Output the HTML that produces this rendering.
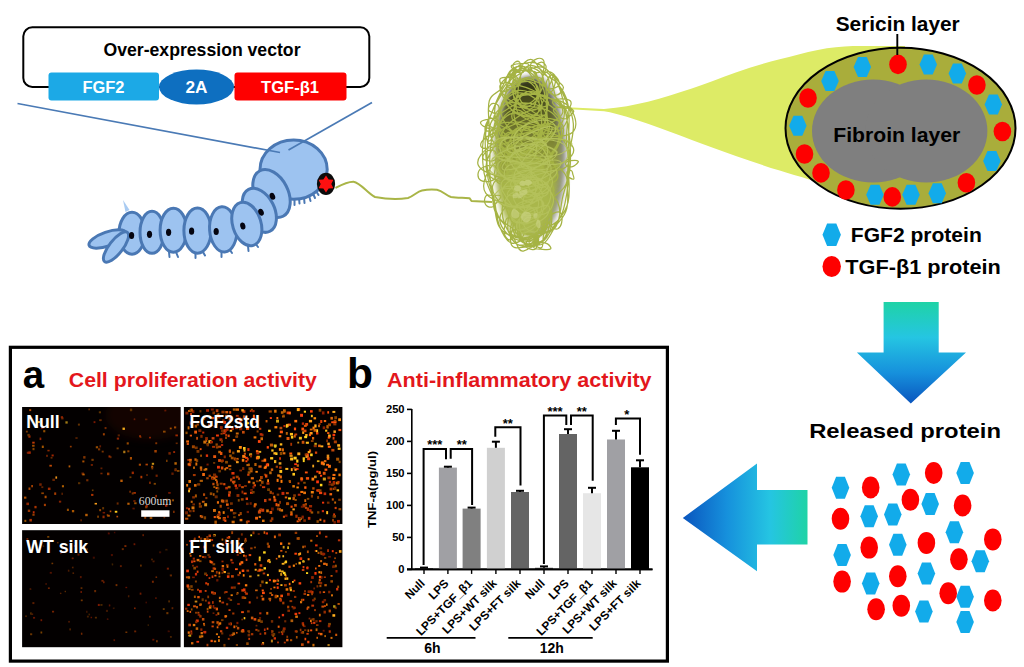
<!DOCTYPE html><html><head><meta charset="utf-8"><title>fig</title><style>html,body{margin:0;padding:0;background:#fff;}svg{display:block;font-family:"Liberation Sans",sans-serif;}</style></head><body><svg width="1024" height="667" viewBox="0 0 1024 667"><rect width="1024" height="667" fill="#fff"/><defs>
<linearGradient id="gdown" x1="0" y1="0" x2="0" y2="1">
<stop offset="0" stop-color="#1FD3A6"/><stop offset="0.35" stop-color="#25C5E2"/><stop offset="0.7" stop-color="#1690DC"/><stop offset="1" stop-color="#0A55BE"/>
</linearGradient>
<linearGradient id="gleft" x1="1" y1="0" x2="0" y2="0">
<stop offset="0" stop-color="#1FD3A6"/><stop offset="0.3" stop-color="#25C5E2"/><stop offset="0.65" stop-color="#1690DC"/><stop offset="1" stop-color="#0A55BE"/>
</linearGradient>
<linearGradient id="gcore" x1="0" y1="0" x2="0" y2="1">
<stop offset="0" stop-color="#2b2d12"/><stop offset="0.3" stop-color="#6a6f2c"/><stop offset="0.55" stop-color="#98a23e"/><stop offset="1" stop-color="#b4bf5c"/>
</linearGradient>
<filter id="blur4" x="-30%" y="-30%" width="160%" height="160%"><feGaussianBlur stdDeviation="4"/></filter>
<filter id="blur3" x="-30%" y="-30%" width="160%" height="160%"><feGaussianBlur stdDeviation="3"/></filter>
<filter id="blur1" x="-10%" y="-10%" width="120%" height="120%"><feGaussianBlur stdDeviation="0.5"/></filter>
<filter id="blurd" x="-5%" y="-5%" width="110%" height="110%"><feGaussianBlur stdDeviation="0.6"/></filter>
<clipPath id="c1"><rect x="22.1" y="407" width="158.5" height="117"/></clipPath>
<clipPath id="cs"><ellipse cx="326" cy="183.9" rx="8" ry="10"/></clipPath>
</defs>
<rect x="23.3" y="27.3" width="346" height="59.6" rx="9" ry="9" fill="none" stroke="#000" stroke-width="2"/>
<rect x="48.5" y="72.5" width="110.5" height="28" rx="3" fill="#1CA9E6"/>
<rect x="234.5" y="72.5" width="112" height="28" rx="3" fill="#FE0000"/>
<ellipse cx="196.5" cy="87" rx="37.5" ry="17.5" fill="#0E6FC0"/>
<text x="202" y="56" font-size="18.5" font-weight="bold" fill="#000" text-anchor="middle" textLength="197" lengthAdjust="spacingAndGlyphs" >Over-expression vector</text>
<text x="103.5" y="93" font-size="16" font-weight="bold" fill="#fff" text-anchor="middle" textLength="42" lengthAdjust="spacingAndGlyphs" >FGF2</text>
<text x="196.5" y="93" font-size="16" font-weight="bold" fill="#fff" text-anchor="middle" textLength="22" lengthAdjust="spacingAndGlyphs" >2A</text>
<text x="290" y="93" font-size="16" font-weight="bold" fill="#fff" text-anchor="middle" textLength="58" lengthAdjust="spacingAndGlyphs" >TGF-β1</text>
<path d="M335.5,188 C341,185 347,181.6 353.5,181.7 C361,183 367,193 375,197 C386,199 398,199.5 408,198 C414,196 417,191.5 422,190.5 C427,189.5 432,189.3 437,189.8 C443,191 446,195.5 451,197 C457,198.3 464,197.5 469.5,198.2 L471.5,201 C478,201.5 484,201.8 492,202" fill="none" stroke="#A9B547" stroke-width="2" stroke-linejoin="round"/>
<line x1="169" y1="252" x2="169.5" y2="257" stroke="#4A78B4" stroke-width="2" stroke-linecap="round"/>
<line x1="176" y1="252" x2="178" y2="257" stroke="#4A78B4" stroke-width="2" stroke-linecap="round"/>
<line x1="195.5" y1="253" x2="195.5" y2="258" stroke="#4A78B4" stroke-width="2" stroke-linecap="round"/>
<line x1="203" y1="252" x2="205" y2="255.5" stroke="#4A78B4" stroke-width="2" stroke-linecap="round"/>
<line x1="221.5" y1="252" x2="221.5" y2="257" stroke="#4A78B4" stroke-width="2" stroke-linecap="round"/>
<line x1="230" y1="250" x2="232" y2="253" stroke="#4A78B4" stroke-width="2" stroke-linecap="round"/>
<line x1="248" y1="246" x2="248.5" y2="251" stroke="#4A78B4" stroke-width="2" stroke-linecap="round"/>
<line x1="255" y1="243" x2="258" y2="247" stroke="#4A78B4" stroke-width="2" stroke-linecap="round"/>
<line x1="294.5" y1="198" x2="294.5" y2="205" stroke="#4A78B4" stroke-width="2" stroke-linecap="round"/>
<line x1="299" y1="198" x2="299.5" y2="203.5" stroke="#4A78B4" stroke-width="2" stroke-linecap="round"/>
<line x1="304" y1="197" x2="304.5" y2="203" stroke="#4A78B4" stroke-width="2" stroke-linecap="round"/>
<line x1="309" y1="195.5" x2="310.5" y2="201" stroke="#4A78B4" stroke-width="2" stroke-linecap="round"/>
<line x1="313" y1="193.5" x2="315" y2="198" stroke="#4A78B4" stroke-width="2" stroke-linecap="round"/>
<line x1="316" y1="191" x2="318.5" y2="195" stroke="#4A78B4" stroke-width="2" stroke-linecap="round"/>
<polygon points="123,200 125.5,212 129.5,210" fill="#A9CBF2"/>
<ellipse cx="0" cy="0" rx="33.6" ry="29.6" transform="translate(293.6,169.6) rotate(0)" fill="#9DC3F0" stroke="#4A78B4" stroke-width="3"/>
<ellipse cx="0" cy="0" rx="13" ry="21" transform="translate(132,233.2) rotate(0)" fill="#9DC3F0" stroke="#4A78B4" stroke-width="3"/>
<ellipse cx="0" cy="0" rx="19.5" ry="7" transform="translate(107.5,239) rotate(-19)" fill="#9DC3F0" stroke="#4A78B4" stroke-width="3"/>
<ellipse cx="0" cy="0" rx="18.5" ry="6.8" transform="translate(116,247) rotate(-52)" fill="#9DC3F0" stroke="#4A78B4" stroke-width="3"/>
<ellipse cx="0" cy="0" rx="12" ry="21" transform="translate(152,232.3) rotate(0)" fill="#9DC3F0" stroke="#4A78B4" stroke-width="3"/>
<ellipse cx="0" cy="0" rx="13.3" ry="22" transform="translate(173.4,230.2) rotate(0)" fill="#9DC3F0" stroke="#4A78B4" stroke-width="3"/>
<ellipse cx="0" cy="0" rx="13.6" ry="22.6" transform="translate(197.5,230.6) rotate(0)" fill="#9DC3F0" stroke="#4A78B4" stroke-width="3"/>
<ellipse cx="0" cy="0" rx="13.6" ry="22.6" transform="translate(223.2,229.4) rotate(-4)" fill="#9DC3F0" stroke="#4A78B4" stroke-width="3"/>
<ellipse cx="0" cy="0" rx="16.5" ry="25.5" transform="translate(271.5,193.5) rotate(-27)" fill="#9DC3F0" stroke="#4A78B4" stroke-width="3"/>
<ellipse cx="0" cy="0" rx="15" ry="23.5" transform="translate(259.3,210.3) rotate(-27)" fill="#9DC3F0" stroke="#4A78B4" stroke-width="3"/>
<ellipse cx="0" cy="0" rx="14.2" ry="22.3" transform="translate(246.8,224) rotate(-17)" fill="#9DC3F0" stroke="#4A78B4" stroke-width="3"/>
<ellipse cx="0" cy="0" rx="2.6" ry="3.6" transform="translate(272.4,196.3) rotate(-25)" fill="#050510"/>
<ellipse cx="0" cy="0" rx="2.6" ry="3.6" transform="translate(261,212.2) rotate(-25)" fill="#050510"/>
<ellipse cx="0" cy="0" rx="2.6" ry="3.6" transform="translate(242.8,226) rotate(-12)" fill="#050510"/>
<ellipse cx="0" cy="0" rx="2.6" ry="3.6" transform="translate(216.2,231.5) rotate(0)" fill="#050510"/>
<ellipse cx="0" cy="0" rx="2.6" ry="3.6" transform="translate(191.6,231.2) rotate(0)" fill="#050510"/>
<ellipse cx="0" cy="0" rx="2.6" ry="3.6" transform="translate(168.6,232.3) rotate(0)" fill="#050510"/>
<ellipse cx="0" cy="0" rx="2.6" ry="3.6" transform="translate(149.5,234.3) rotate(0)" fill="#050510"/>
<ellipse cx="0" cy="0" rx="2.6" ry="3.6" transform="translate(131.6,235.5) rotate(0)" fill="#050510"/>
<ellipse cx="326" cy="183.9" rx="9.1" ry="11.1" fill="#0b0b0b"/>
<polygon points="326.00,175.40 328.65,179.41 333.45,179.70 331.30,184.00 333.45,188.30 328.65,188.59 326.00,192.60 323.35,188.59 318.55,188.30 320.70,184.00 318.55,179.70 323.35,179.41" fill="#FE1010" clip-path="url(#cs)"/>
<line x1="17.5" y1="103.5" x2="280" y2="152.5" stroke="#4A7AB5" stroke-width="1.7"/>
<line x1="372" y1="102.5" x2="288.5" y2="150" stroke="#4A7AB5" stroke-width="1.7"/>
<path d="M562,107 L604,109 C620,108 634,105 648,101.8 C663,98 677,93.5 691.8,88.6 C706,83.5 721,78 735.8,72.5 C750,67.5 765,63 779.7,59.3 C792,56 805,52.5 817.8,49.9 C830,47.5 842,46.5 853,46.1 L905,46 L905,200 L809,179.4 C799,176.5 789,173.5 779.7,170.6 C765,166 750,161 735.8,156 C721,150.7 706,145.3 691.8,139.9 C677,134.3 663,129 647.9,123.8 C634,119 620,114 604,111.3 L562,108.8 Z" fill="#DDEB66"/>
<ellipse cx="535" cy="156" rx="31" ry="79" fill="#7c7c78" filter="url(#blur3)" opacity="0.9"/>
<ellipse cx="527.5" cy="157" rx="33" ry="79" fill="url(#gcore)" filter="url(#blur3)"/>
<path d="M543.4,243.6C538.2,247.1 534.8,244.3 529.3,244.3C523.8,244.2 520.5,247.0 515.7,243.4C510.9,239.7 509.6,232.5 505.5,226.0C501.3,219.6 497.8,219.2 494.9,211.1C492.0,203.0 492.9,195.7 491.2,185.6C489.5,175.5 487.3,171.4 486.3,160.6C485.2,149.7 484.3,142.2 485.9,131.5C487.5,120.7 490.5,115.8 494.2,106.8C497.9,97.7 499.7,92.6 504.2,86.3C508.8,80.1 511.8,78.9 517.0,75.4C522.2,71.9 524.7,70.6 530.1,69.0C535.5,67.5 538.8,65.3 544.0,67.7C549.2,70.0 551.8,74.3 556.1,80.8C560.4,87.2 562.2,91.6 565.6,100.1C569.1,108.7 572.6,113.0 573.3,123.5C574.1,134.0 570.7,141.8 569.5,152.7C568.3,163.6 567.8,166.8 567.2,177.9C566.7,189.0 569.2,198.6 566.8,208.3C564.4,218.1 559.9,219.6 555.2,226.7C550.5,233.7 548.6,240.1 543.4,243.6 M490.0,154.1C490.7,141.6 491.8,134.7 494.6,123.8C497.3,112.8 500.0,109.8 503.7,99.4C507.4,88.9 508.1,79.0 513.1,71.6C518.1,64.2 522.5,63.2 528.8,62.5C535.1,61.8 538.8,63.7 544.6,68.1C550.4,72.5 553.7,75.9 557.9,84.6C562.1,93.3 563.2,100.6 565.5,111.8C567.9,122.9 568.9,128.5 569.8,140.2C570.6,151.8 571.2,158.8 569.8,170.0C568.4,181.2 565.6,185.0 562.9,196.2C560.2,207.4 560.6,218.2 556.3,225.9C552.0,233.6 547.4,231.2 541.5,234.9C535.5,238.6 532.2,245.6 526.5,244.4C520.8,243.2 518.6,234.5 513.0,228.9C507.4,223.2 502.8,224.6 498.4,216.2C494.1,207.7 492.8,199.2 491.1,186.8C489.4,174.4 489.3,166.7 490.0,154.1 M566.8,193.3C565.1,203.3 564.2,210.4 560.4,217.1C556.6,223.9 552.8,224.0 548.0,227.3C543.2,230.5 541.0,231.2 536.3,233.5C531.6,235.9 529.5,237.3 524.3,239.1C519.2,240.9 515.5,245.3 510.5,242.6C505.5,239.9 502.6,234.3 499.4,225.7C496.1,217.1 496.5,209.2 494.2,199.7C491.9,190.2 489.4,187.4 488.0,178.1C486.5,168.8 486.9,163.0 487.1,153.3C487.3,143.5 488.6,139.8 489.1,129.3C489.5,118.8 486.9,109.0 489.3,100.8C491.8,92.6 497.1,94.4 501.4,88.3C505.7,82.2 506.3,74.8 510.7,70.4C515.1,66.0 518.4,65.9 523.4,66.4C528.3,66.8 530.5,70.8 535.6,72.4C540.7,74.0 544.9,69.1 549.0,74.2C553.1,79.3 552.6,89.8 556.1,97.9C559.6,106.0 564.4,106.0 566.5,114.8C568.6,123.6 566.0,131.4 566.5,141.8C567.0,152.3 568.9,156.8 569.0,167.1C569.0,177.4 568.5,183.3 566.8,193.3 M568.4,166.9C568.2,180.0 570.8,190.5 568.1,202.1C565.4,213.6 560.3,216.7 554.9,224.6C549.5,232.5 546.9,238.5 541.1,241.3C535.3,244.2 531.9,240.0 526.1,239.0C520.3,238.0 517.7,239.0 512.2,236.3C506.8,233.7 502.7,233.5 498.8,225.9C494.9,218.3 495.7,208.9 492.8,198.3C489.9,187.8 486.0,184.8 484.1,173.1C482.2,161.4 481.6,152.2 483.3,139.8C485.0,127.4 488.3,121.0 492.5,111.1C496.7,101.2 499.4,98.0 504.1,90.3C508.9,82.6 511.0,78.8 516.3,72.7C521.6,66.5 525.2,59.2 530.7,59.4C536.2,59.7 538.6,69.3 543.9,74.1C549.3,78.8 552.6,77.3 557.4,83.4C562.2,89.5 565.8,94.0 568.0,104.6C570.3,115.3 568.6,124.4 568.7,136.8C568.7,149.3 568.5,153.9 568.4,166.9 M490.9,104.4C492.1,103.1 493.2,103.0 494.7,103.5C496.3,103.9 498.2,104.5 498.8,106.5C499.4,108.6 498.9,112.4 497.7,113.6C496.5,114.8 494.6,113.4 492.8,112.6C490.9,111.9 488.9,111.6 488.6,109.9C488.2,108.3 489.6,105.7 490.9,104.4 M494.4,128.3C493.4,129.9 492.8,130.7 491.0,131.0C489.2,131.3 486.3,131.4 485.4,129.9C484.5,128.4 485.3,126.0 486.3,123.6C487.4,121.2 488.7,118.2 490.6,118.0C492.5,117.9 495.0,120.9 495.7,122.9C496.5,125.0 495.3,126.7 494.4,128.3 M500.9,196.0C501.6,197.5 498.1,200.8 496.2,203.1C494.4,205.3 493.9,207.1 491.7,207.2C489.5,207.3 486.3,206.0 485.2,203.7C484.0,201.4 484.5,197.5 486.0,195.8C487.4,194.2 489.6,195.5 492.6,195.6C495.6,195.6 500.1,194.5 500.9,196.0 M534.3,248.1C533.3,247.3 534.2,246.0 535.3,244.9C536.4,243.8 537.4,242.8 539.9,242.6C542.3,242.4 545.4,242.6 547.5,243.9C549.6,245.2 551.8,248.1 550.4,249.1C549.0,250.2 543.5,249.4 540.3,249.2C537.1,249.0 535.3,249.0 534.3,248.1 M547.7,220.2C547.9,217.4 550.8,214.9 553.4,213.4C555.9,212.0 559.0,211.0 560.7,212.9C562.3,214.8 562.2,219.8 561.6,222.9C561.0,226.1 559.5,227.8 557.8,228.7C556.0,229.6 554.7,229.1 552.6,227.4C550.6,225.7 547.6,223.0 547.7,220.2 M568.9,177.4C567.5,176.5 567.4,176.1 567.1,174.9C566.8,173.6 566.5,171.9 567.4,171.1C568.3,170.3 570.4,170.2 571.5,170.8C572.6,171.4 572.4,172.4 572.8,174.1C573.3,175.7 574.5,178.5 573.7,179.1C572.9,179.8 570.2,178.2 568.9,177.4 M535.2,77.9C533.5,79.2 530.7,78.7 526.9,78.8C523.0,79.0 518.3,80.3 516.0,78.7C513.7,77.0 513.3,72.2 515.5,70.7C517.7,69.2 523.0,70.8 527.0,71.1C531.0,71.3 533.8,70.5 535.5,71.9C537.1,73.2 536.9,76.5 535.2,77.9 M575.0,165.3C573.6,166.5 573.1,166.8 571.5,166.9C569.9,167.1 568.1,166.9 567.0,166.0C565.9,165.1 565.2,163.5 565.9,162.5C566.7,161.4 568.4,160.9 570.8,160.6C573.3,160.3 577.4,160.1 578.2,161.1C579.0,162.0 576.3,164.2 575.0,165.3 M509.4,74.2C509.6,72.3 512.1,70.0 514.0,69.4C515.9,68.8 517.7,69.9 519.0,71.2C520.3,72.4 520.2,73.0 520.4,75.6C520.6,78.2 521.3,83.4 519.9,84.1C518.5,84.8 515.6,81.1 513.5,79.1C511.4,77.1 509.3,76.1 509.4,74.2 M534.4,73.4C532.4,70.5 530.1,69.0 530.4,66.2C530.6,63.4 533.0,60.6 535.6,59.4C538.2,58.1 541.8,57.9 543.4,60.1C545.0,62.3 544.2,66.1 543.6,70.2C543.1,74.3 542.4,79.8 540.5,80.4C538.7,81.1 536.4,76.2 534.4,73.4 M486.2,151.8C488.3,150.2 491.9,149.7 493.9,150.6C495.9,151.4 496.1,154.1 496.3,156.0C496.4,157.9 496.0,159.1 494.8,160.1C493.5,161.0 492.2,161.3 489.9,160.9C487.6,160.6 483.8,160.2 483.1,158.4C482.3,156.5 484.0,153.3 486.2,151.8 M543.3,236.5C542.6,240.8 543.5,246.1 541.7,247.4C539.8,248.8 535.3,246.1 534.0,243.3C532.8,240.5 534.6,236.7 535.3,233.3C536.1,229.8 535.9,227.6 537.8,226.1C539.8,224.6 544.1,223.9 545.2,226.0C546.3,228.1 544.0,232.2 543.3,236.5 M547.3,71.7C549.9,71.0 553.5,73.3 555.0,75.7C556.6,78.1 555.8,80.6 555.0,83.8C554.2,86.9 553.1,91.1 551.1,91.6C549.1,92.0 546.7,88.6 544.9,86.1C543.0,83.6 541.4,81.9 541.9,79.0C542.3,76.1 544.7,72.3 547.3,71.7 M506.8,77.3C507.9,74.7 510.4,73.5 512.4,73.5C514.4,73.5 515.3,75.0 516.8,77.2C518.3,79.4 520.6,82.5 519.9,84.5C519.3,86.5 516.3,86.7 513.7,87.1C511.1,87.5 508.5,88.5 507.1,86.5C505.7,84.6 505.8,79.9 506.8,77.3 M537.5,65.0C537.8,63.7 539.9,62.4 541.4,62.2C542.8,62.0 543.8,63.0 544.7,63.9C545.7,64.9 546.2,65.4 546.1,67.0C546.0,68.5 545.6,71.4 544.4,71.8C543.2,72.2 541.4,70.3 540.1,68.9C538.7,67.6 537.3,66.4 537.5,65.0 M521.9,72.9C519.8,73.2 516.9,71.9 514.8,70.5C512.7,69.0 510.6,67.0 511.5,65.7C512.5,64.3 516.2,63.9 519.6,63.6C523.0,63.3 527.3,63.0 528.5,64.1C529.7,65.1 526.8,67.1 525.5,68.9C524.2,70.6 524.1,72.5 521.9,72.9 M558.0,79.3C559.1,81.1 559.6,83.6 559.0,85.3C558.3,87.0 556.9,87.2 554.8,87.8C552.8,88.5 549.5,89.5 548.7,88.3C548.0,87.0 550.3,84.0 551.2,81.6C552.1,79.2 552.0,76.8 553.4,76.4C554.7,75.9 556.9,77.5 558.0,79.3 M501.2,92.3C499.3,91.7 500.9,87.9 500.8,85.1C500.7,82.3 498.4,79.6 500.7,78.3C502.9,76.9 508.3,77.0 512.0,78.2C515.6,79.5 519.2,82.5 518.8,84.5C518.4,86.6 513.7,86.9 510.2,88.5C506.7,90.0 503.0,93.0 501.2,92.3 M537.9,240.0C538.2,241.4 535.8,243.3 534.2,244.8C532.6,246.3 531.0,248.2 530.0,247.5C529.0,246.9 529.3,243.8 529.2,241.6C529.0,239.4 528.3,237.3 529.1,236.5C529.9,235.7 531.2,237.0 533.0,237.7C534.7,238.4 537.7,238.5 537.9,240.0 M509.7,239.8C507.5,240.2 505.2,236.5 504.3,233.7C503.3,230.9 504.3,228.9 504.9,225.8C505.5,222.7 505.5,219.2 507.1,218.2C508.8,217.1 511.5,217.8 513.1,220.5C514.8,223.2 516.1,227.9 515.4,231.8C514.7,235.6 511.9,239.4 509.7,239.8 M483.2,167.2C486.3,165.8 491.2,164.3 494.0,165.6C496.7,166.9 497.5,170.8 497.1,173.8C496.6,176.8 495.1,179.3 491.8,180.7C488.6,182.0 483.5,182.0 480.7,180.4C478.0,178.8 477.7,175.5 478.2,172.8C478.7,170.2 480.0,168.7 483.2,167.2 M480.6,122.3C481.0,120.7 484.9,120.1 487.9,119.3C490.8,118.5 492.7,117.4 495.2,118.3C497.7,119.1 500.5,121.4 500.4,123.5C500.2,125.6 497.3,128.0 494.4,128.8C491.5,129.6 488.5,128.7 485.7,127.4C483.0,126.1 480.2,124.0 480.6,122.3 M510.5,232.9C510.5,231.6 512.9,230.1 514.7,229.5C516.5,228.9 517.6,229.2 519.4,229.9C521.3,230.5 523.5,231.2 523.9,232.8C524.2,234.4 522.9,237.2 521.1,237.9C519.4,238.5 517.2,237.0 515.1,236.0C512.9,235.0 510.6,234.2 510.5,232.9 M571.3,114.5C569.5,116.2 567.3,118.9 564.4,118.9C561.5,119.0 558.7,116.6 556.6,114.6C554.6,112.7 552.3,110.7 554.2,109.1C556.0,107.5 562.1,106.4 566.0,106.7C569.8,107.1 572.4,109.1 573.4,110.7C574.5,112.2 573.1,112.9 571.3,114.5 M538.4,237.7C539.2,240.4 537.5,246.2 535.9,248.4C534.3,250.7 532.5,249.6 530.4,249.1C528.4,248.6 526.3,248.1 525.7,246.1C525.2,244.2 526.8,241.4 527.9,239.2C529.1,237.0 529.4,235.4 531.5,235.1C533.6,234.9 537.5,235.1 538.4,237.7 M520.6,66.8C520.5,68.7 520.3,71.1 519.3,71.7C518.2,72.3 516.5,70.8 515.2,69.7C513.9,68.6 512.9,67.6 512.9,66.1C512.9,64.6 513.9,62.8 515.3,62.0C516.6,61.2 518.6,61.2 519.6,62.1C520.7,63.1 520.7,64.8 520.6,66.8 M558.3,81.4C560.5,84.0 563.6,84.8 563.4,87.5C563.1,90.2 560.1,94.3 557.0,95.0C554.0,95.7 550.1,93.6 548.0,91.1C545.9,88.6 545.5,85.9 546.3,82.6C547.2,79.3 549.6,74.9 552.0,74.6C554.4,74.4 556.0,78.9 558.3,81.4 M489.3,135.8C490.3,133.1 491.0,129.0 492.6,128.8C494.3,128.6 496.8,132.0 497.6,134.6C498.4,137.2 497.5,139.9 496.5,141.8C495.4,143.6 494.2,143.8 492.4,143.9C490.6,144.0 488.1,143.9 487.5,142.2C486.8,140.6 488.3,138.5 489.3,135.8 M568.9,107.6C566.6,108.9 561.9,107.9 559.0,107.4C556.1,106.9 555.5,106.5 554.3,105.2C553.1,104.0 551.9,102.3 553.1,101.1C554.3,99.8 556.8,98.9 560.2,98.9C563.7,98.8 568.4,99.0 570.2,100.8C571.9,102.5 571.1,106.3 568.9,107.6 M490.9,126.9C492.8,127.9 494.8,128.1 495.2,130.1C495.6,132.1 494.5,134.8 493.0,137.0C491.5,139.2 489.4,141.9 487.9,141.2C486.4,140.5 485.8,136.6 485.4,133.4C484.9,130.2 484.7,126.5 485.8,125.2C486.9,123.9 489.0,125.9 490.9,126.9 M566.9,181.0C565.7,190.5 548.5,202.6 532.3,205.1C516.1,207.5 492.5,202.4 485.9,193.3C479.3,184.2 488.7,166.8 499.2,159.6C509.7,152.5 524.9,153.3 538.5,157.5C552.0,161.8 568.2,171.5 566.9,181.0 M532.4,108.1C528.7,110.8 521.4,107.3 517.7,103.9C514.0,100.6 512.8,95.8 514.1,91.1C515.4,86.5 519.9,80.9 524.3,80.7C528.8,80.6 534.8,84.9 536.4,90.4C538.0,95.8 536.2,105.4 532.4,108.1 M522.0,155.0C513.1,154.7 498.9,146.8 496.4,138.7C493.9,130.6 501.7,118.4 509.3,114.4C516.9,110.4 528.0,113.5 534.2,118.6C540.5,123.8 543.2,132.8 540.7,140.1C538.3,147.4 530.9,155.2 522.0,155.0 M528.5,184.4C517.6,185.1 512.2,182.1 502.2,178.2C492.1,174.3 480.7,171.4 478.2,165.0C475.7,158.6 483.5,151.5 489.6,146.1C495.8,140.8 499.7,140.8 509.1,138.2C518.4,135.5 529.1,129.9 536.3,132.9C543.5,135.8 541.0,144.7 545.0,153.1C549.1,161.5 560.0,168.6 556.7,174.8C553.4,181.1 539.4,183.8 528.5,184.4 M505.4,100.8C504.9,96.3 510.3,93.8 513.5,90.1C516.8,86.4 517.2,83.5 521.6,82.2C526.0,81.0 531.9,81.3 535.5,83.9C539.2,86.6 538.5,91.0 539.7,95.6C540.9,100.2 543.2,102.8 541.6,106.8C540.0,110.9 536.8,114.7 531.7,115.9C526.7,117.0 521.4,115.6 516.1,112.6C510.8,109.6 505.9,105.3 505.4,100.8 M514.2,107.9C515.7,102.7 515.0,96.6 521.3,94.4C527.6,92.2 537.1,94.7 545.5,97.0C554.0,99.4 559.2,101.4 563.5,106.1C567.8,110.7 569.0,114.8 567.2,120.1C565.4,125.3 561.4,131.3 554.6,132.2C547.7,133.1 541.1,126.8 532.9,124.5C524.7,122.1 517.4,123.7 513.6,120.4C509.9,117.1 512.6,113.1 514.2,107.9 M543.1,198.6C541.6,201.7 537.3,203.4 530.9,203.5C524.4,203.6 516.9,202.0 510.9,199.0C505.0,196.0 500.1,191.6 501.2,188.5C502.2,185.4 508.8,183.6 516.3,183.6C523.7,183.6 532.9,185.4 538.2,188.4C543.6,191.4 544.5,195.6 543.1,198.6 M537.4,200.6C542.3,209.0 545.9,223.1 541.1,230.1C536.3,237.1 521.4,240.0 513.6,235.7C505.8,231.4 501.5,218.2 502.2,208.7C502.8,199.1 509.8,189.6 516.9,187.9C523.9,186.3 532.6,192.2 537.4,200.6 M526.7,163.9C519.8,164.5 512.3,161.0 508.9,156.5C505.4,152.1 507.2,147.6 509.4,141.8C511.5,135.9 513.6,129.5 519.6,127.2C525.6,125.0 534.1,127.7 539.3,130.6C544.6,133.4 544.8,136.9 545.6,141.6C546.4,146.3 547.1,149.4 543.4,153.9C539.6,158.4 533.6,163.4 526.7,163.9 M538.6,95.2C534.9,100.6 528.7,104.8 524.3,104.2C520.0,103.5 519.9,96.8 516.9,92.0C513.9,87.3 508.6,84.9 509.4,80.4C510.2,75.8 516.2,71.9 520.8,69.4C525.5,66.8 528.1,66.3 532.6,67.8C537.0,69.3 541.8,71.4 543.0,76.8C544.3,82.3 542.3,89.7 538.6,95.2 M550.0,98.2C556.0,101.9 564.1,106.9 562.7,112.8C561.3,118.7 550.4,122.4 543.0,127.8C535.6,133.2 532.0,139.4 525.5,140.0C519.0,140.6 517.0,135.3 510.6,130.9C504.3,126.4 493.3,124.1 493.7,117.8C494.2,111.6 505.0,104.5 512.8,99.8C520.7,95.0 525.4,94.6 532.8,94.3C540.3,94.0 544.1,94.5 550.0,98.2 M514.7,109.5C521.2,108.7 526.2,115.3 531.8,119.2C537.3,123.2 541.4,124.6 542.5,129.3C543.6,134.0 540.7,137.7 537.3,142.9C534.0,148.0 531.8,153.0 525.7,155.1C519.6,157.1 512.2,156.3 506.8,153.1C501.4,150.0 500.1,145.2 498.6,139.3C497.2,133.3 496.3,129.3 499.6,123.3C502.8,117.4 508.3,110.3 514.7,109.5 M529.2,191.5C535.1,192.5 539.8,196.4 543.1,204.3C546.3,212.2 550.2,223.9 545.4,231.2C540.6,238.4 528.1,242.5 519.0,240.4C509.9,238.3 500.9,228.9 499.8,220.7C498.6,212.6 507.4,205.3 513.3,199.4C519.1,193.6 523.2,190.6 529.2,191.5 M533.4,110.1C527.2,110.6 516.9,102.8 513.5,95.4C510.0,88.0 513.1,77.8 516.1,72.9C519.2,68.1 523.0,67.1 528.6,71.1C534.3,75.2 543.6,85.2 544.5,93.0C545.5,100.8 539.6,109.6 533.4,110.1 M537.8,167.5C531.6,171.7 524.0,177.2 516.6,174.4C509.2,171.6 502.4,161.8 500.6,153.5C498.8,145.2 501.2,135.9 507.5,132.9C513.7,129.9 523.8,134.4 531.9,138.5C539.9,142.6 546.6,147.6 547.8,153.5C549.0,159.3 544.1,163.3 537.8,167.5 M529.2,91.4C535.6,90.5 540.6,97.7 546.7,102.9C552.8,108.1 558.9,110.8 559.7,117.4C560.4,124.0 556.1,131.6 550.3,136.0C544.6,140.3 537.6,141.1 531.1,139.2C524.5,137.3 520.8,132.8 517.6,126.5C514.3,120.2 512.5,114.6 514.8,107.5C517.1,100.5 522.8,92.3 529.2,91.4 M548.8,156.9C539.5,164.6 525.0,165.4 516.3,163.8C507.7,162.2 502.4,157.6 505.5,149.0C508.7,140.4 520.6,125.4 532.0,120.8C543.5,116.1 559.4,118.4 562.7,125.6C566.1,132.8 558.0,149.3 548.8,156.9 M501.8,134.0C498.2,126.4 496.4,121.6 498.7,113.6C500.9,105.6 505.7,97.0 513.1,94.1C520.6,91.2 530.2,94.0 535.8,99.0C541.5,103.9 541.2,110.9 541.5,118.8C541.8,126.7 542.1,131.7 537.1,138.3C532.2,144.9 523.7,152.5 516.7,151.7C509.6,150.8 505.4,141.6 501.8,134.0 M524.5,129.1C536.4,125.7 550.7,120.8 556.1,126.2C561.4,131.6 558.8,145.1 551.4,156.2C543.9,167.3 531.7,178.1 518.9,181.5C506.1,184.9 492.0,180.9 487.6,173.2C483.1,165.6 489.3,152.1 496.7,143.3C504.0,134.5 512.6,132.5 524.5,129.1 M541.1,138.1C545.8,143.4 542.7,147.3 536.7,149.4C530.7,151.4 520.0,152.3 511.2,148.3C502.4,144.3 492.3,134.6 492.7,129.5C493.1,124.4 503.6,121.1 513.3,122.8C523.0,124.5 536.4,132.8 541.1,138.1 M536.2,237.1C532.9,239.1 531.4,242.1 527.6,241.7C523.8,241.2 518.4,237.8 517.2,234.7C516.1,231.5 519.9,229.1 521.9,225.9C523.9,222.8 524.3,219.2 527.1,218.8C530.0,218.4 532.7,221.6 536.1,224.1C539.5,226.6 543.9,228.8 544.0,231.4C544.0,234.0 539.5,235.0 536.2,237.1 M503.8,187.2C501.5,178.8 497.5,170.2 501.3,163.4C505.2,156.5 515.1,153.1 522.9,152.9C530.6,152.7 535.6,156.3 540.1,162.2C544.5,168.1 546.2,174.2 545.0,182.3C543.8,190.5 540.6,198.4 534.1,203.0C527.7,207.7 518.9,208.9 512.8,205.7C506.8,202.6 506.1,195.7 503.8,187.2 M548.6,204.9C553.4,212.6 552.6,229.3 546.8,237.4C541.0,245.5 527.3,248.2 519.5,245.3C511.6,242.5 507.0,232.5 507.7,223.2C508.3,213.8 514.5,202.3 522.7,198.6C530.9,195.0 543.8,197.1 548.6,204.9 M513.7,201.7C511.9,197.3 512.7,193.2 516.1,191.3C519.5,189.4 525.3,189.1 530.6,192.2C535.9,195.2 539.6,200.4 542.5,206.6C545.3,212.9 548.3,222.1 544.8,223.4C541.3,224.8 531.3,217.8 525.1,213.4C518.8,209.1 515.5,206.2 513.7,201.7 M530.9,110.3C538.8,115.4 546.8,120.2 547.8,128.9C548.9,137.6 544.1,150.9 536.1,153.9C528.1,157.0 515.4,150.5 507.7,144.2C500.0,138.0 497.4,130.9 497.5,122.7C497.6,114.5 501.5,105.6 508.1,103.1C514.8,100.7 522.9,105.1 530.9,110.3 M534.2,186.1C525.6,188.6 518.6,194.2 513.5,192.3C508.3,190.5 509.1,183.3 508.5,177.1C507.8,170.9 506.5,167.5 510.2,161.5C514.0,155.4 519.9,149.0 527.2,146.9C534.5,144.7 541.5,147.5 546.8,150.8C552.1,154.1 551.6,157.4 553.5,163.3C555.4,169.1 560.3,175.7 556.4,180.2C552.5,184.8 542.8,183.7 534.2,186.1 M510.2,229.2C510.8,223.7 513.4,220.0 517.5,212.6C521.5,205.3 524.5,196.7 530.4,192.5C536.4,188.3 543.4,187.7 547.3,191.6C551.2,195.5 551.3,203.1 549.9,211.8C548.6,220.6 545.8,227.5 540.5,235.4C535.2,243.2 528.5,250.2 523.3,251.1C518.2,252.0 517.4,244.3 514.7,239.9C512.1,235.5 509.7,234.6 510.2,229.2 M541.5,195.2C546.4,196.6 547.4,203.2 549.1,209.1C550.7,215.0 551.0,218.3 549.6,224.7C548.1,231.2 546.1,237.1 541.8,241.4C537.4,245.8 533.9,245.9 527.9,246.6C521.8,247.3 514.1,249.9 511.5,245.0C508.8,240.0 511.9,230.5 514.5,222.0C517.1,213.4 519.3,207.4 524.7,202.0C530.1,196.7 536.6,193.8 541.5,195.2 M522.2,221.7C525.1,221.1 531.5,224.2 534.0,227.5C536.6,230.8 535.6,234.8 535.0,238.1C534.5,241.3 534.0,243.1 531.2,243.7C528.4,244.3 523.4,243.7 521.1,241.1C518.8,238.5 519.5,234.6 519.7,230.8C519.9,226.9 519.4,222.4 522.2,221.7 M547.6,158.3C540.8,167.5 535.5,176.4 525.6,181.3C515.6,186.1 503.1,186.9 497.7,182.4C492.4,177.9 494.4,167.3 498.8,158.7C503.2,150.1 510.7,146.1 519.7,139.5C528.6,132.9 535.5,126.6 543.5,125.7C551.5,124.9 558.9,128.8 559.7,135.3C560.5,141.8 554.4,149.1 547.6,158.3 M538.2,215.6C541.8,216.1 543.4,216.8 544.3,219.5C545.3,222.2 545.0,224.8 543.0,229.3C541.1,233.7 538.8,239.1 534.6,241.7C530.5,244.3 525.6,244.3 522.4,242.3C519.1,240.3 517.5,236.7 518.3,231.5C519.1,226.4 522.4,219.8 526.4,216.6C530.4,213.4 534.6,215.0 538.2,215.6 M505.5,94.7C506.3,89.2 511.8,88.9 516.5,83.0C521.2,77.2 522.6,66.7 528.8,65.5C535.1,64.3 544.0,70.9 547.7,77.1C551.5,83.4 548.0,89.3 547.5,96.8C547.0,104.3 549.2,110.6 545.2,114.6C541.2,118.6 534.2,117.6 527.7,116.9C521.1,116.1 517.0,115.2 512.5,110.8C508.1,106.3 504.7,100.3 505.5,94.7 M538.5,176.9C530.5,181.7 518.6,180.6 510.2,177.0C501.8,173.4 493.3,165.4 496.4,158.7C499.6,152.1 515.1,144.8 525.9,143.7C536.7,142.6 547.8,146.4 550.3,153.0C552.8,159.7 546.5,172.1 538.5,176.9 M523.7,128.2C526.9,123.1 533.6,118.8 538.6,118.0C543.7,117.2 547.9,119.9 549.0,124.0C550.1,128.0 549.3,134.3 544.1,138.2C538.8,142.1 526.8,145.4 522.8,143.4C518.7,141.4 520.6,133.2 523.7,128.2 M530.0,70.1C537.7,71.6 540.5,83.3 540.2,90.6C539.9,97.8 535.1,103.9 528.6,106.3C522.2,108.7 513.4,107.3 508.0,102.6C502.6,97.8 497.2,89.2 501.7,82.7C506.1,76.2 522.3,68.5 530.0,70.1 M561.5,138.4C567.8,144.5 571.1,156.7 568.7,163.4C566.3,170.1 557.3,169.9 549.5,171.9C541.7,174.0 536.9,176.8 529.9,173.5C522.9,170.2 517.8,163.6 514.6,155.3C511.4,147.1 509.2,136.7 513.7,132.1C518.3,127.6 527.8,131.3 537.3,132.5C546.9,133.8 555.2,132.2 561.5,138.4 M500.8,140.7C500.4,133.0 505.8,125.1 514.7,118.9C523.6,112.6 535.8,106.8 545.2,109.4C554.5,112.0 561.2,122.0 561.5,131.7C561.9,141.5 555.9,153.0 547.0,158.2C538.0,163.4 526.0,161.2 516.8,157.7C507.5,154.2 501.2,148.5 500.8,140.7 M535.2,246.1C529.6,248.2 523.7,245.6 521.5,237.5C519.4,229.4 519.8,213.9 524.6,205.6C529.4,197.3 540.6,191.7 545.5,196.0C550.5,200.3 551.3,217.2 549.3,227.2C547.2,237.2 540.7,244.1 535.2,246.1 M513.3,224.2C514.6,220.1 518.5,219.0 523.3,216.4C528.1,213.9 534.5,210.0 537.5,211.5C540.6,213.1 539.2,219.4 538.4,224.3C537.5,229.2 537.6,233.5 533.3,236.0C529.1,238.6 521.1,239.2 517.1,236.9C513.1,234.5 512.1,228.3 513.3,224.2 M484.9,138.2C490.4,133.6 501.9,129.6 512.8,125.0C523.7,120.3 532.9,115.9 539.5,115.0C546.1,114.1 546.1,117.6 545.7,120.4C545.3,123.2 543.2,125.4 537.5,129.1C531.8,132.8 527.7,135.0 517.3,138.9C506.9,142.7 491.8,148.6 485.4,148.4C478.9,148.3 479.4,142.9 484.9,138.2 M525.8,204.4C528.6,201.5 531.6,205.9 534.7,207.7C537.8,209.5 540.6,209.2 541.4,213.5C542.2,217.7 540.1,222.6 538.9,228.9C537.7,235.2 537.6,242.0 535.2,245.0C532.9,247.9 530.0,244.9 527.1,243.6C524.1,242.3 521.5,242.6 520.3,238.3C519.0,234.0 519.7,229.0 520.9,222.2C522.0,215.5 523.0,207.3 525.8,204.4 M532.9,90.2C542.2,94.3 549.2,100.9 548.6,104.1C547.9,107.4 538.0,107.8 529.6,106.5C521.3,105.3 512.1,102.5 506.6,97.8C501.2,93.2 497.0,84.9 502.3,83.3C507.5,81.8 523.6,86.0 532.9,90.2 M542.6,215.7C544.0,220.1 544.5,222.5 543.2,226.5C542.0,230.5 540.2,233.2 536.3,235.6C532.4,238.1 527.6,240.4 523.6,238.9C519.6,237.4 517.8,232.6 516.3,228.2C514.7,223.7 514.3,220.5 515.8,216.6C517.4,212.8 519.9,211.2 523.9,208.8C528.0,206.4 532.4,203.2 536.1,204.5C539.9,205.9 541.2,211.3 542.6,215.7 M522.7,102.9C530.5,102.9 540.6,104.7 544.5,110.3C548.3,115.9 544.0,123.8 541.8,130.9C539.6,137.9 538.8,140.7 533.5,145.4C528.1,150.0 522.7,154.6 515.0,154.2C507.3,153.9 499.7,150.1 494.8,143.9C490.0,137.7 488.6,129.9 490.7,123.3C492.8,116.6 498.9,114.6 505.3,110.5C511.7,106.4 514.9,102.9 522.7,102.9 M553.4,187.3C555.1,192.7 552.1,196.9 548.6,201.1C545.1,205.3 541.5,208.7 535.9,208.1C530.4,207.6 525.9,202.6 520.8,198.3C515.8,194.1 512.3,191.7 510.5,186.8C508.8,182.0 509.2,176.9 512.1,174.1C515.1,171.3 519.8,172.9 525.3,172.8C530.9,172.8 534.2,170.9 539.8,173.8C545.4,176.6 551.6,181.8 553.4,187.3 M496.9,150.2C495.5,145.4 504.4,138.2 509.8,133.6C515.1,129.0 518.3,126.1 523.6,127.1C529.0,128.2 534.6,133.0 536.5,138.8C538.3,144.5 536.9,152.1 533.0,155.9C529.0,159.8 524.1,159.1 516.9,158.0C509.7,156.8 498.3,155.1 496.9,150.2 M551.3,210.7C553.5,215.6 549.3,222.5 545.6,227.3C541.8,232.2 538.6,235.1 532.6,235.0C526.6,235.0 518.9,232.8 515.7,227.2C512.5,221.5 512.9,211.6 516.7,206.8C520.5,201.9 527.8,202.1 534.7,202.9C541.6,203.7 549.1,205.8 551.3,210.7 M540.4,78.0C548.1,82.1 545.9,96.0 546.4,107.1C546.9,118.2 550.1,127.4 543.0,133.5C535.9,139.7 520.7,141.9 511.0,137.7C501.4,133.5 495.3,122.8 494.7,112.5C494.1,102.2 498.9,93.3 508.0,86.4C517.1,79.5 532.7,73.9 540.4,78.0 M515.9,133.7C506.8,128.2 500.8,118.2 500.7,109.7C500.5,101.1 506.8,93.6 515.1,91.0C523.5,88.4 531.8,93.4 542.5,96.5C553.1,99.6 562.2,99.5 568.5,106.4C574.8,113.2 578.3,124.7 573.8,130.8C569.4,136.9 557.9,136.4 546.3,137.0C534.7,137.5 525.0,139.1 515.9,133.7 M515.6,67.5C518.6,64.9 524.9,68.2 529.3,73.1C533.7,78.1 536.3,83.9 537.8,92.1C539.3,100.4 540.2,111.2 536.9,114.2C533.5,117.2 525.5,112.8 521.0,107.2C516.5,101.6 515.4,94.2 514.3,86.2C513.2,78.3 512.6,70.1 515.6,67.5 M521.3,156.7C528.3,150.9 540.7,141.3 550.9,139.2C561.1,137.0 569.4,141.7 572.4,146.1C575.3,150.4 573.7,155.3 565.6,160.9C557.6,166.5 542.1,172.6 532.1,174.0C522.1,175.5 518.0,171.6 515.8,168.2C513.7,164.7 514.3,162.5 521.3,156.7 M539.8,162.1C544.4,170.7 544.0,179.1 539.1,186.2C534.1,193.3 521.6,200.9 515.1,197.5C508.7,194.1 506.6,180.2 506.8,169.3C507.0,158.4 509.7,144.4 516.3,143.0C522.9,141.5 535.2,153.4 539.8,162.1 M537.0,82.0C542.7,84.3 544.4,86.1 549.8,91.6C555.3,97.2 563.0,102.3 564.2,109.7C565.4,117.1 561.8,126.2 555.9,128.7C549.9,131.3 542.1,125.8 534.4,122.5C526.8,119.1 520.8,117.6 517.5,112.0C514.2,106.4 516.9,100.9 517.7,94.5C518.5,88.1 517.6,82.6 521.5,80.1C525.3,77.6 531.3,79.7 537.0,82.0 M536.9,189.5C546.7,192.4 554.4,194.8 557.8,202.4C561.2,210.0 560.5,221.6 553.8,227.6C547.1,233.6 533.5,235.3 524.3,232.4C515.1,229.5 511.0,221.9 507.8,213.1C504.7,204.2 502.8,192.7 508.6,188.0C514.4,183.3 527.0,186.6 536.9,189.5 M543.6,218.8C537.0,221.7 529.1,213.5 521.1,211.1C513.1,208.6 509.3,211.4 503.6,206.4C497.9,201.4 491.4,192.9 492.6,185.9C493.8,179.0 502.7,176.1 509.7,171.6C516.8,167.0 520.5,162.6 527.7,163.2C534.9,163.8 540.6,168.1 545.9,174.7C551.1,181.3 554.5,187.6 554.0,196.4C553.5,205.2 550.2,215.9 543.6,218.8" fill="none" stroke="#A5B344" stroke-width="1.25" stroke-linejoin="round"/>
<ellipse cx="527" cy="196" rx="25" ry="40" fill="#ABB94E" filter="url(#blur4)" opacity="0.8"/>
<path d="M547.9,181.6C541.2,186.1 530.9,190.8 522.7,193.4C514.6,195.9 507.8,196.7 507.3,194.3C506.8,191.9 513.4,185.7 520.3,181.5C527.3,177.3 534.7,175.4 542.0,173.3C549.2,171.1 555.4,169.1 556.6,170.8C557.8,172.5 554.7,177.1 547.9,181.6 M513.7,191.6C515.5,186.3 522.5,183.0 529.5,182.6C536.5,182.3 544.1,185.6 548.8,189.9C553.4,194.2 554.2,199.3 552.8,204.2C551.5,209.1 548.3,213.6 541.8,214.6C535.3,215.6 525.9,213.6 520.3,209.0C514.6,204.4 511.8,196.9 513.7,191.6 M524.7,174.7C529.8,175.2 532.7,180.9 536.3,185.3C539.9,189.8 544.4,193.4 542.8,196.8C541.3,200.2 533.7,202.9 528.6,202.3C523.5,201.8 520.8,198.2 517.3,194.2C513.7,190.3 509.4,186.7 510.9,182.7C512.4,178.8 519.6,174.2 524.7,174.7 M549.7,189.6C547.5,192.8 544.3,194.0 540.3,193.9C536.2,193.8 531.5,192.8 529.5,189.1C527.5,185.3 527.9,178.8 530.4,175.2C532.9,171.6 537.8,170.6 542.0,171.1C546.3,171.6 550.0,174.2 551.5,177.9C553.1,181.5 552.0,186.4 549.7,189.6 M523.6,224.0C523.3,221.8 523.8,219.7 525.6,218.4C527.3,217.2 529.5,216.8 532.4,217.8C535.2,218.7 539.0,220.4 539.7,223.2C540.3,226.0 538.2,230.4 535.6,231.7C533.1,232.9 529.4,230.8 527.0,229.3C524.6,227.8 523.9,226.2 523.6,224.0 M563.0,143.9C569.5,148.7 569.8,158.6 563.2,162.4C556.7,166.2 543.2,163.8 530.2,162.9C517.2,162.0 504.8,162.5 498.3,157.8C491.8,153.1 491.0,143.2 497.5,139.3C504.0,135.5 517.6,137.7 530.7,138.6C543.8,139.5 556.5,139.2 563.0,143.9 M523.9,164.7C529.1,167.7 531.9,171.6 532.0,174.9C532.2,178.3 530.2,181.2 524.8,181.6C519.5,182.0 510.5,180.3 505.1,177.1C499.7,173.9 497.4,169.1 497.7,165.7C497.9,162.2 501.0,160.1 506.2,159.9C511.5,159.7 518.8,161.7 523.9,164.7 M535.1,194.2C533.9,199.2 532.2,205.6 526.5,207.4C520.9,209.1 511.6,206.4 506.7,203.0C501.8,199.6 500.7,195.3 502.2,190.5C503.6,185.8 507.9,180.7 513.9,179.1C520.0,177.5 528.1,179.7 532.3,182.7C536.5,185.7 536.2,189.3 535.1,194.2 M525.8,181.1C530.1,178.6 534.2,179.4 537.5,179.9C540.9,180.4 542.3,181.0 542.4,183.7C542.6,186.5 541.5,191.4 538.3,193.5C535.1,195.7 530.9,194.6 526.4,194.5C521.9,194.3 515.9,195.3 515.8,192.6C515.7,189.9 521.4,183.7 525.8,181.1 M539.5,199.3C544.2,200.6 544.4,205.0 543.5,209.2C542.5,213.5 540.4,217.9 534.8,220.5C529.3,223.2 520.3,223.8 515.7,222.4C511.1,221.0 511.0,217.4 511.8,213.5C512.6,209.6 514.0,205.7 519.6,202.9C525.1,200.0 534.7,198.0 539.5,199.3 M501.2,142.3C503.4,138.5 509.0,137.3 515.3,137.1C521.5,137.0 528.1,138.3 532.3,141.5C536.5,144.7 537.6,148.8 536.3,153.1C534.9,157.4 532.2,162.4 525.7,163.0C519.3,163.6 509.0,160.1 504.1,156.0C499.2,151.9 499.0,146.1 501.2,142.3 M536.9,189.4C535.0,193.3 531.0,197.3 527.3,197.3C523.6,197.4 521.2,193.5 518.4,189.6C515.5,185.7 511.6,181.6 513.1,177.7C514.7,173.8 521.2,170.3 526.0,170.3C530.8,170.3 534.9,173.9 537.1,177.7C539.3,181.5 538.9,185.5 536.9,189.4 M543.0,120.0C550.5,119.5 554.8,123.3 555.6,127.8C556.3,132.3 552.5,136.6 546.7,142.5C540.9,148.4 533.0,156.5 526.6,157.5C520.3,158.5 516.5,153.0 514.8,147.5C513.1,142.1 512.4,135.7 518.1,130.2C523.7,124.7 535.5,120.4 543.0,120.0 M546.9,155.3C549.1,159.5 551.0,164.4 548.8,167.3C546.6,170.2 541.2,169.9 535.8,169.7C530.4,169.5 523.3,169.3 521.7,166.3C520.1,163.2 524.5,158.3 527.7,154.3C530.9,150.2 533.9,145.8 537.8,146.0C541.6,146.2 544.7,151.0 546.9,155.3 M546.6,158.9C551.6,164.2 551.5,168.3 550.6,174.1C549.7,179.9 547.6,187.4 542.1,187.7C536.5,188.1 529.2,181.8 522.8,176.0C516.3,170.2 509.2,164.5 509.8,158.9C510.5,153.2 518.5,147.6 525.8,147.6C533.2,147.6 541.7,153.6 546.6,158.9 M553.0,138.6C561.8,139.0 571.2,140.1 571.8,143.5C572.5,146.8 564.8,153.1 556.1,155.3C547.4,157.6 535.9,155.8 528.5,154.7C521.1,153.6 519.4,152.4 519.3,149.8C519.1,147.2 521.1,143.8 527.8,141.5C534.6,139.3 544.2,138.2 553.0,138.6 M502.9,176.7C496.6,171.8 489.1,162.0 492.7,158.2C496.2,154.4 509.7,157.1 520.5,157.7C531.2,158.4 542.0,157.4 546.3,161.5C550.6,165.5 546.5,173.5 542.1,177.8C537.6,182.0 531.9,182.8 524.1,182.6C516.3,182.4 509.2,181.6 502.9,176.7 M511.5,152.7C507.9,152.0 505.0,149.1 509.0,145.1C513.0,141.1 523.2,136.3 531.6,132.6C539.9,128.9 547.8,125.5 550.8,126.5C553.9,127.4 551.5,132.8 546.7,137.2C542.0,141.6 534.1,145.4 527.0,148.5C520.0,151.6 515.1,153.3 511.5,152.7 M529.8,191.5C526.2,192.3 522.9,192.5 519.7,189.3C516.5,186.0 513.3,180.1 514.0,175.1C514.7,170.1 519.6,164.2 523.3,164.2C527.0,164.1 529.5,170.6 532.5,174.9C535.5,179.1 538.6,182.1 538.1,185.4C537.6,188.7 533.5,190.7 529.8,191.5 M537.8,195.1C540.6,194.6 542.0,200.5 542.1,204.9C542.2,209.2 540.5,213.3 538.2,216.9C535.9,220.4 533.9,221.6 530.5,222.8C527.1,223.9 521.6,225.7 521.1,222.7C520.6,219.6 524.6,213.0 527.9,207.5C531.3,202.0 534.9,195.7 537.8,195.1 M510.4,164.7C514.5,163.0 520.6,163.9 524.8,165.1C529.1,166.2 531.8,167.8 531.7,170.3C531.6,172.8 528.8,175.6 524.5,177.6C520.2,179.7 514.2,181.4 510.2,180.6C506.1,179.8 504.2,176.9 504.2,173.7C504.3,170.5 506.3,166.4 510.4,164.7 M548.1,185.2C552.6,191.1 551.3,200.5 546.7,206.5C542.1,212.6 532.7,216.8 525.0,215.6C517.4,214.4 513.0,207.2 508.4,200.5C503.8,193.7 498.9,186.5 502.1,181.8C505.2,177.1 514.9,176.2 524.1,176.8C533.3,177.5 543.6,179.3 548.1,185.2 M506.7,206.0C500.6,204.1 494.4,200.7 494.4,196.8C494.5,192.9 500.7,187.9 507.0,186.4C513.3,184.9 519.8,187.1 526.0,189.3C532.1,191.5 538.1,194.2 537.9,197.6C537.7,201.0 531.1,204.4 524.9,206.1C518.6,207.8 512.8,207.8 506.7,206.0 M540.4,207.0C535.2,208.7 520.0,207.6 512.4,205.8C504.8,203.9 504.5,201.0 502.6,197.7C500.6,194.4 497.7,190.5 502.5,189.1C507.3,187.8 519.4,189.4 526.6,191.0C533.8,192.7 535.8,194.2 538.5,197.4C541.3,200.6 545.6,205.3 540.4,207.0 M514.7,147.0C515.9,142.2 521.3,137.8 527.6,137.3C533.9,136.8 542.9,140.0 546.2,144.6C549.6,149.2 546.8,155.8 544.5,160.3C542.1,164.8 538.9,167.0 534.3,167.2C529.8,167.4 525.4,165.3 521.5,161.3C517.6,157.2 513.5,151.8 514.7,147.0 M548.4,185.7C549.2,187.9 541.2,193.5 535.3,197.4C529.5,201.4 525.1,203.9 519.2,205.3C513.3,206.7 507.5,206.9 505.8,204.6C504.0,202.4 505.4,197.6 510.5,193.9C515.7,190.3 523.8,188.1 531.4,186.4C539.0,184.8 547.6,183.5 548.4,185.7 M519.0,230.1C515.6,229.3 515.9,223.8 518.5,219.9C521.2,216.0 526.4,213.5 532.3,210.6C538.1,207.7 544.7,204.6 547.7,205.5C550.6,206.4 549.6,211.5 547.2,215.1C544.7,218.8 541.0,220.7 535.4,223.7C529.7,226.7 522.4,230.9 519.0,230.1 M516.9,185.1C516.4,181.9 520.6,179.1 525.2,177.8C529.8,176.5 535.3,176.2 539.9,178.8C544.6,181.5 548.7,187.3 548.6,191.1C548.5,194.8 543.6,197.0 539.4,197.5C535.3,198.1 532.4,196.4 527.9,193.9C523.4,191.4 517.5,188.3 516.9,185.1 M519.9,222.3C516.4,221.7 513.4,220.2 512.3,217.4C511.3,214.7 511.3,210.9 514.7,208.6C518.1,206.4 525.1,205.2 529.1,206.2C533.1,207.2 534.6,210.9 534.8,213.7C534.9,216.5 532.9,218.5 529.9,220.2C527.0,222.0 523.4,222.8 519.9,222.3 M529.0,191.9C531.9,191.6 536.0,195.8 537.7,198.9C539.5,201.9 538.7,204.3 537.9,207.2C537.1,210.1 536.4,212.6 533.8,213.3C531.3,214.0 527.5,213.2 525.3,210.6C523.2,208.1 522.3,204.3 523.1,200.6C523.8,196.8 526.0,192.2 529.0,191.9 M528.6,164.8C518.1,167.9 507.2,171.3 503.5,169.7C499.8,168.2 503.8,162.5 510.2,157.0C516.6,151.5 527.8,144.3 535.4,142.3C543.1,140.4 544.4,144.8 548.5,147.2C552.6,149.6 560.0,150.9 556.0,154.4C552.0,157.9 539.1,161.8 528.6,164.8 M519.6,223.9C519.5,220.2 518.8,217.8 521.9,214.6C525.0,211.4 532.0,207.3 535.2,208.0C538.3,208.6 537.7,214.1 537.6,217.9C537.6,221.7 537.9,223.8 534.9,226.8C531.9,229.8 525.5,233.7 522.4,233.1C519.4,232.5 519.7,227.6 519.6,223.9 M489.6,164.9C490.8,159.6 496.8,153.7 506.9,149.7C517.0,145.8 530.1,144.0 540.0,145.0C549.9,146.0 557.9,150.1 556.3,154.9C554.8,159.7 543.3,164.8 532.2,169.0C521.1,173.3 509.2,176.9 500.7,176.0C492.1,175.2 488.3,170.2 489.6,164.9 M531.4,183.5C524.7,185.5 519.6,184.8 518.8,182.9C518.0,180.9 521.7,177.9 527.6,173.6C533.4,169.2 541.4,163.4 548.1,161.2C554.8,159.0 560.3,160.3 561.1,162.6C561.9,164.8 558.2,168.3 552.3,172.5C546.3,176.7 538.1,181.4 531.4,183.5" fill="none" stroke="#B5C25C" stroke-width="1.1" opacity="0.9"/>
<path d="M522.2,186.0C521.0,185.9 519.8,184.7 519.6,183.8C519.4,182.8 520.3,181.6 521.2,181.1C522.1,180.5 523.5,180.5 524.3,181.1C525.2,181.8 526.0,183.4 525.6,184.4C525.1,185.4 523.4,186.2 522.2,186.0 M520.6,198.1C519.6,198.6 518.7,198.8 518.3,198.3C517.9,197.7 518.2,196.1 518.6,195.3C519.0,194.5 519.3,194.2 520.3,194.3C521.2,194.4 523.2,195.1 523.3,195.9C523.3,196.6 521.6,197.6 520.6,198.1 M537.2,216.9C536.8,217.9 535.7,218.6 534.9,218.5C534.2,218.3 533.6,217.2 533.4,216.2C533.3,215.3 533.4,214.2 534.1,213.7C534.9,213.1 536.4,212.6 537.0,213.3C537.6,213.9 537.6,215.8 537.2,216.9 M530.8,218.4C530.0,220.2 528.2,222.7 526.2,222.6C524.2,222.4 521.4,219.9 521.0,217.8C520.6,215.6 522.4,212.8 524.2,211.9C526.1,211.1 528.9,212.1 530.2,213.4C531.6,214.7 531.6,216.6 530.8,218.4 M519.3,216.1C518.9,217.6 516.7,218.6 515.1,218.5C513.6,218.4 512.1,217.3 511.6,215.6C511.1,213.8 511.4,210.7 512.6,209.7C513.8,208.8 516.2,209.5 517.5,210.8C518.9,212.1 519.8,214.6 519.3,216.1 M538.2,219.5C539.0,219.4 540.0,220.4 540.4,222.1C540.8,223.7 540.8,226.7 540.1,227.7C539.4,228.7 537.7,228.0 536.9,227.0C536.2,225.9 536.0,223.9 536.2,222.4C536.5,220.9 537.3,219.5 538.2,219.5 M524.2,182.9C523.9,181.8 525.1,180.7 526.2,180.1C527.3,179.6 528.7,179.6 529.8,180.1C530.9,180.7 532.2,181.9 531.9,183.0C531.5,184.1 529.5,185.7 527.9,185.7C526.4,185.7 524.6,184.0 524.2,182.9 M518.9,192.5C518.8,191.6 520.2,191.2 521.7,190.6C523.2,190.0 525.4,188.9 526.5,189.4C527.6,190.0 527.9,192.1 527.1,193.3C526.3,194.5 523.9,195.5 522.3,195.4C520.6,195.2 519.0,193.5 518.9,192.5 M519.7,191.1C518.7,191.9 517.0,191.9 515.9,191.3C514.7,190.6 513.7,189.1 514.0,187.9C514.3,186.7 516.1,185.3 517.5,185.3C518.9,185.2 520.6,186.4 521.0,187.6C521.5,188.8 520.8,190.4 519.7,191.1 M516.5,197.9C515.4,198.2 513.8,198.4 513.1,197.7C512.5,196.9 512.3,195.3 513.2,194.2C514.1,193.1 516.5,191.8 517.6,192.2C518.7,192.6 519.0,195.1 518.7,196.2C518.5,197.3 517.6,197.6 516.5,197.9" fill="#CDD68A" stroke="none" opacity="0.55"/>
<ellipse cx="900.5" cy="128.3" rx="115" ry="80.5" fill="#A9AD3B" stroke="#000" stroke-width="2"/>
<ellipse cx="873.2" cy="131" rx="61.2" ry="51.5" fill="#7F7F7F"/>
<ellipse cx="926.2" cy="131" rx="61.2" ry="51.5" fill="#7F7F7F"/>
<polygon points="853.6,67.0 858.0,57.0 866.8,57.0 871.1,67.0 866.8,77.0 858.0,77.0" fill="#12ABEA"/>
<polygon points="821.2,80.9 825.6,70.9 834.4,70.9 838.8,80.9 834.4,90.9 825.6,90.9" fill="#12ABEA"/>
<polygon points="919.5,64.4 923.9,54.4 932.7,54.4 937.0,64.4 932.7,74.4 923.9,74.4" fill="#12ABEA"/>
<polygon points="948.6,73.4 953.0,63.4 961.8,63.4 966.1,73.4 961.8,83.4 953.0,83.4" fill="#12ABEA"/>
<polygon points="984.6,104.6 989.0,94.6 997.8,94.6 1002.1,104.6 997.8,114.6 989.0,114.6" fill="#12ABEA"/>
<polygon points="983.1,160.9 987.5,150.9 996.3,150.9 1000.6,160.9 996.3,170.9 987.5,170.9" fill="#12ABEA"/>
<polygon points="789.1,125.8 793.5,115.8 802.3,115.8 806.6,125.8 802.3,135.8 793.5,135.8" fill="#12ABEA"/>
<polygon points="866.2,194.8 870.6,184.8 879.4,184.8 883.8,194.8 879.4,204.8 870.6,204.8" fill="#12ABEA"/>
<polygon points="902.2,194.8 906.6,184.8 915.4,184.8 919.8,194.8 915.4,204.8 906.6,204.8" fill="#12ABEA"/>
<polygon points="928.5,193.3 932.9,183.3 941.7,183.3 946.0,193.3 941.7,203.3 932.9,203.3" fill="#12ABEA"/>
<ellipse cx="898" cy="64.4" rx="8.8" ry="9.8" fill="#FE0000"/>
<ellipse cx="976.9" cy="85" rx="8.8" ry="9.8" fill="#FE0000"/>
<ellipse cx="1002.4" cy="131.5" rx="8.8" ry="9.8" fill="#FE0000"/>
<ellipse cx="966.4" cy="182.8" rx="8.8" ry="9.8" fill="#FE0000"/>
<ellipse cx="892.3" cy="196.9" rx="8.8" ry="9.8" fill="#FE0000"/>
<ellipse cx="845.9" cy="190" rx="8.8" ry="9.8" fill="#FE0000"/>
<ellipse cx="821" cy="172.9" rx="8.8" ry="9.8" fill="#FE0000"/>
<ellipse cx="804.5" cy="154" rx="8.8" ry="9.8" fill="#FE0000"/>
<ellipse cx="808" cy="98" rx="8.8" ry="9.8" fill="#FE0000"/>
<line x1="897.3" y1="34" x2="897.3" y2="55" stroke="#000" stroke-width="1.9"/>
<text x="897.7" y="31" font-size="21" font-weight="bold" fill="#000" text-anchor="middle" textLength="124" lengthAdjust="spacingAndGlyphs" >Sericin layer</text>
<text x="896.8" y="141.5" font-size="21" font-weight="bold" fill="#000" text-anchor="middle" textLength="127" lengthAdjust="spacingAndGlyphs" >Fibroin layer</text>
<polygon points="822.5,234.7 827.1,223.4 836.3,223.4 840.9,234.7 836.3,245.9 827.1,245.9" fill="#12ABEA"/>
<ellipse cx="831.7" cy="266.5" rx="9.2" ry="10.5" fill="#FE0000"/>
<text x="850.8" y="242.4" font-size="20" font-weight="bold" fill="#000" text-anchor="start" textLength="131" lengthAdjust="spacingAndGlyphs" >FGF2 protein</text>
<text x="845.3" y="274" font-size="20" font-weight="bold" fill="#000" text-anchor="start" textLength="155.5" lengthAdjust="spacingAndGlyphs" >TGF-β1 protein</text>
<polygon points="883.6,302 938.7,302 938.7,352.5 966,352.5 910.8,403.6 856.9,352.5 883.6,352.5" fill="url(#gdown)"/>
<polygon points="807.5,490 807.5,544.6 757,544.6 757,571.3 682.8,518 757,463.4 757,490" fill="url(#gleft)"/>
<text x="809.2" y="437.7" font-size="21" font-weight="bold" fill="#000" text-anchor="start" textLength="191.8" lengthAdjust="spacingAndGlyphs" >Released protein</text>
<polygon points="831.7,487.8 836.1,476.8 844.9,476.8 849.3,487.8 844.9,498.8 836.1,498.8" fill="#12ABEA"/>
<polygon points="892.5,474.6 896.9,463.6 905.7,463.6 910.1,474.6 905.7,485.6 896.9,485.6" fill="#12ABEA"/>
<polygon points="956.3,473.0 960.7,462.0 969.5,462.0 973.9,473.0 969.5,484.0 960.7,484.0" fill="#12ABEA"/>
<polygon points="860.4,516.2 864.8,505.2 873.6,505.2 878.0,516.2 873.6,527.2 864.8,527.2" fill="#12ABEA"/>
<polygon points="884.0,514.6 888.4,503.6 897.2,503.6 901.6,514.6 897.2,525.6 888.4,525.6" fill="#12ABEA"/>
<polygon points="921.4,503.9 925.8,492.9 934.6,492.9 939.0,503.9 934.6,514.9 925.8,514.9" fill="#12ABEA"/>
<polygon points="945.6,532.2 950.0,521.2 958.8,521.2 963.2,532.2 958.8,543.2 950.0,543.2" fill="#12ABEA"/>
<polygon points="833.3,554.9 837.7,543.9 846.5,543.9 850.9,554.9 846.5,565.9 837.7,565.9" fill="#12ABEA"/>
<polygon points="889.0,544.8 893.4,533.8 902.2,533.8 906.6,544.8 902.2,555.8 893.4,555.8" fill="#12ABEA"/>
<polygon points="971.5,561.2 975.9,550.2 984.7,550.2 989.1,561.2 984.7,572.2 975.9,572.2" fill="#12ABEA"/>
<polygon points="861.9,583.5 866.3,572.5 875.1,572.5 879.5,583.5 875.1,594.5 866.3,594.5" fill="#12ABEA"/>
<polygon points="917.6,573.4 922.0,562.4 930.8,562.4 935.2,573.4 930.8,584.4 922.0,584.4" fill="#12ABEA"/>
<polygon points="956.3,596.7 960.7,585.7 969.5,585.7 973.9,596.7 969.5,607.7 960.7,607.7" fill="#12ABEA"/>
<polygon points="915.1,611.5 919.5,600.5 928.3,600.5 932.7,611.5 928.3,622.5 919.5,622.5" fill="#12ABEA"/>
<polygon points="956.3,621.9 960.7,610.9 969.5,610.9 973.9,621.9 969.5,632.9 960.7,632.9" fill="#12ABEA"/>
<ellipse cx="870.7" cy="487.5" rx="8.8" ry="11" fill="#FE0000"/>
<ellipse cx="933.7" cy="473" rx="8.8" ry="11" fill="#FE0000"/>
<ellipse cx="910.4" cy="499.8" rx="8.8" ry="11" fill="#FE0000"/>
<ellipse cx="962.6" cy="505.5" rx="8.8" ry="11" fill="#FE0000"/>
<ellipse cx="840.5" cy="518.7" rx="8.8" ry="11" fill="#FE0000"/>
<ellipse cx="869.2" cy="547.6" rx="8.8" ry="11" fill="#FE0000"/>
<ellipse cx="926.4" cy="542.9" rx="8.8" ry="11" fill="#FE0000"/>
<ellipse cx="992.8" cy="539.4" rx="8.8" ry="11" fill="#FE0000"/>
<ellipse cx="958.9" cy="559.3" rx="8.8" ry="11" fill="#FE0000"/>
<ellipse cx="842.1" cy="581.6" rx="8.8" ry="11" fill="#FE0000"/>
<ellipse cx="897.8" cy="576.3" rx="8.8" ry="11" fill="#FE0000"/>
<ellipse cx="948.2" cy="593.3" rx="8.8" ry="11" fill="#FE0000"/>
<ellipse cx="992.8" cy="600.5" rx="8.8" ry="11" fill="#FE0000"/>
<ellipse cx="876.1" cy="609.3" rx="8.8" ry="11" fill="#FE0000"/>
<ellipse cx="901.3" cy="605.8" rx="8.8" ry="11" fill="#FE0000"/>
<rect x="10.4" y="347.3" width="657" height="313.8" fill="#fff" stroke="#000" stroke-width="3.2"/>
<text x="22.8" y="388" font-size="38.5" font-weight="bold" fill="#000" text-anchor="start" >a</text>
<text x="68.8" y="387.3" font-size="21" font-weight="bold" fill="#E3171C" text-anchor="start" textLength="248" lengthAdjust="spacingAndGlyphs" >Cell proliferation activity</text>
<text x="347" y="388" font-size="42.5" font-weight="bold" fill="#000" text-anchor="start" >b</text>
<text x="387" y="387" font-size="21" font-weight="bold" fill="#E3171C" text-anchor="start" textLength="264.6" lengthAdjust="spacingAndGlyphs" >Anti-inflammatory activity</text>
<g><rect x="22.1" y="407" width="158.5" height="117" fill="#030000"/><ellipse cx="150" cy="415" rx="45" ry="25" fill="#3a0800" opacity="0.3" filter="url(#blur4)" clip-path="url(#c1)"/><g filter="url(#blurd)"><rect x="43.9" y="503.8" width="2.0" height="2.3" fill="rgb(166,61,6)"/><rect x="145.0" y="418.6" width="2.4" height="1.6" fill="rgb(89,31,3)"/><rect x="91.9" y="489.5" width="1.6" height="1.6" fill="rgb(110,56,4)"/><rect x="106.7" y="514.1" width="1.6" height="1.8" fill="rgb(126,43,5)"/><rect x="90.8" y="464.0" width="2.1" height="1.9" fill="rgb(110,30,4)"/><rect x="26.4" y="502.6" width="2.6" height="2.5" fill="rgb(144,38,5)"/><rect x="41.8" y="445.6" width="2.0" height="2.4" fill="rgb(161,84,6)"/><rect x="126.7" y="442.3" width="2.1" height="2.2" fill="rgb(147,72,5)"/><rect x="28.4" y="435.4" width="2.1" height="2.3" fill="rgb(169,44,6)"/><rect x="127.3" y="450.3" width="2.1" height="2.0" fill="rgb(132,62,5)"/><rect x="98.8" y="411.3" width="2.2" height="2.0" fill="rgb(90,48,3)"/><rect x="49.4" y="464.8" width="2.5" height="1.8" fill="rgb(189,73,7)"/><rect x="102.5" y="515.6" width="2.1" height="2.6" fill="rgb(146,42,5)"/><rect x="24.0" y="496.6" width="2.4" height="2.1" fill="rgb(172,78,6)"/><rect x="109.8" y="456.1" width="1.8" height="2.1" fill="rgb(91,36,3)"/><rect x="98.0" y="448.3" width="2.2" height="2.1" fill="rgb(122,51,4)"/><rect x="27.4" y="433.9" width="2.4" height="2.4" fill="rgb(104,52,4)"/><rect x="149.2" y="436.8" width="1.6" height="1.6" fill="rgb(174,39,6)"/><rect x="139.8" y="436.2" width="1.7" height="1.8" fill="rgb(97,31,3)"/><rect x="104.6" y="427.0" width="1.9" height="2.1" fill="rgb(114,40,4)"/><rect x="26.8" y="451.7" width="2.5" height="2.1" fill="rgb(130,30,5)"/><rect x="55.4" y="476.4" width="1.7" height="2.3" fill="rgb(235,146,28)"/><rect x="47.9" y="487.6" width="2.6" height="2.4" fill="rgb(157,43,6)"/><rect x="102.9" y="433.2" width="1.9" height="2.2" fill="rgb(154,61,6)"/><rect x="32.2" y="441.7" width="2.5" height="1.9" fill="rgb(187,57,7)"/><rect x="168.2" y="492.1" width="2.5" height="1.6" fill="rgb(129,26,5)"/><rect x="149.7" y="516.7" width="2.6" height="2.3" fill="rgb(146,73,5)"/><rect x="101.7" y="450.7" width="2.0" height="1.8" fill="rgb(122,53,4)"/><rect x="39.2" y="483.3" width="2.5" height="2.5" fill="rgb(117,36,4)"/><rect x="25.9" y="430.7" width="1.9" height="1.8" fill="rgb(120,56,4)"/><rect x="127.3" y="502.7" width="2.3" height="2.1" fill="rgb(184,93,7)"/><rect x="175.4" y="434.5" width="2.5" height="1.8" fill="rgb(162,42,6)"/><rect x="140.4" y="475.8" width="1.9" height="2.5" fill="rgb(174,55,6)"/><rect x="116.4" y="515.8" width="1.7" height="1.6" fill="rgb(179,70,7)"/><rect x="34.4" y="505.9" width="2.2" height="2.4" fill="rgb(168,53,6)"/><rect x="81.5" y="472.5" width="2.5" height="2.2" fill="rgb(109,31,4)"/><rect x="166.0" y="459.7" width="1.6" height="2.3" fill="rgb(115,56,4)"/><rect x="37.3" y="421.0" width="2.6" height="2.0" fill="rgb(242,163,29)"/><rect x="41.0" y="426.9" width="2.5" height="2.0" fill="rgb(111,26,4)"/><rect x="173.0" y="510.7" width="1.7" height="2.3" fill="rgb(116,42,4)"/><rect x="29.2" y="409.2" width="2.0" height="1.9" fill="rgb(189,77,7)"/><rect x="32.8" y="511.2" width="1.8" height="2.2" fill="rgb(188,44,7)"/><rect x="174.5" y="469.3" width="2.1" height="1.9" fill="rgb(158,45,6)"/><rect x="61.2" y="417.2" width="2.3" height="2.2" fill="rgb(115,41,4)"/><rect x="168.4" y="452.1" width="2.4" height="2.5" fill="rgb(118,36,4)"/><rect x="69.9" y="445.8" width="1.8" height="1.6" fill="rgb(143,58,5)"/><rect x="60.8" y="416.2" width="2.2" height="1.9" fill="rgb(144,32,5)"/><rect x="145.5" y="463.7" width="2.4" height="1.7" fill="rgb(176,66,7)"/><rect x="169.8" y="427.6" width="1.9" height="1.7" fill="rgb(167,81,6)"/><rect x="102.6" y="511.9" width="2.5" height="1.6" fill="rgb(116,28,4)"/><rect x="71.9" y="510.0" width="2.3" height="2.3" fill="rgb(170,84,6)"/><rect x="50.6" y="456.9" width="1.9" height="1.7" fill="rgb(102,44,4)"/><rect x="171.9" y="499.3" width="2.1" height="2.0" fill="rgb(143,71,5)"/><rect x="75.4" y="437.2" width="2.2" height="1.7" fill="rgb(88,30,3)"/><rect x="77.9" y="423.6" width="2.0" height="2.0" fill="rgb(99,48,3)"/><rect x="117.7" y="434.4" width="2.2" height="2.0" fill="rgb(86,32,3)"/><rect x="129.2" y="490.7" width="1.8" height="2.0" fill="rgb(111,40,4)"/><rect x="109.7" y="510.5" width="1.6" height="1.7" fill="rgb(182,77,7)"/><rect x="102.2" y="507.1" width="1.9" height="2.3" fill="rgb(102,51,4)"/><rect x="154.3" y="450.0" width="2.5" height="2.5" fill="rgb(159,64,6)"/><rect x="171.4" y="472.5" width="2.2" height="2.4" fill="rgb(104,28,4)"/><rect x="31.2" y="485.0" width="1.8" height="2.3" fill="rgb(161,61,6)"/><rect x="29.4" y="518.9" width="2.5" height="2.6" fill="rgb(171,50,6)"/><rect x="44.6" y="495.7" width="2.0" height="2.5" fill="rgb(174,77,6)"/><rect x="173.2" y="451.2" width="1.9" height="1.7" fill="rgb(170,43,6)"/><rect x="163.5" y="516.4" width="1.7" height="1.9" fill="rgb(98,33,3)"/><rect x="61.4" y="492.7" width="1.6" height="2.2" fill="rgb(86,30,3)"/><rect x="116.7" y="502.4" width="1.9" height="2.2" fill="rgb(107,41,4)"/><rect x="61.9" y="485.2" width="2.1" height="2.1" fill="rgb(169,91,6)"/><rect x="155.3" y="494.9" width="1.7" height="2.4" fill="rgb(146,43,5)"/><rect x="41.3" y="492.4" width="2.6" height="1.7" fill="rgb(143,66,5)"/><rect x="100.4" y="472.7" width="2.1" height="1.6" fill="rgb(118,38,4)"/><rect x="91.4" y="458.8" width="2.3" height="2.1" fill="rgb(118,55,4)"/><rect x="123.2" y="450.7" width="2.2" height="2.5" fill="rgb(171,116,20)"/><rect x="151.2" y="465.7" width="2.0" height="2.3" fill="rgb(189,93,7)"/><rect x="175.7" y="442.5" width="2.0" height="1.6" fill="rgb(103,39,4)"/><rect x="83.2" y="456.1" width="2.3" height="2.5" fill="rgb(128,51,5)"/><rect x="138.8" y="463.7" width="2.2" height="2.0" fill="rgb(164,70,6)"/><rect x="120.3" y="479.6" width="2.4" height="2.4" fill="rgb(184,91,7)"/><rect x="116.6" y="447.5" width="2.1" height="1.8" fill="rgb(113,57,4)"/><rect x="151.8" y="462.8" width="2.3" height="2.0" fill="rgb(198,145,23)"/><rect x="78.0" y="482.2" width="2.3" height="2.0" fill="rgb(88,46,3)"/><rect x="129.5" y="476.4" width="1.9" height="1.7" fill="rgb(108,55,4)"/><rect x="151.4" y="467.1" width="1.8" height="2.3" fill="rgb(124,56,4)"/><rect x="133.3" y="500.1" width="2.2" height="1.8" fill="rgb(114,32,4)"/><rect x="145.1" y="505.9" width="2.3" height="2.4" fill="rgb(120,64,4)"/><rect x="27.8" y="509.6" width="2.4" height="2.4" fill="rgb(151,53,6)"/><rect x="52.4" y="478.7" width="2.5" height="2.3" fill="rgb(103,36,4)"/><rect x="116.8" y="437.6" width="2.3" height="2.0" fill="rgb(141,35,5)"/><rect x="139.2" y="435.2" width="1.7" height="2.0" fill="rgb(161,49,6)"/><rect x="99.2" y="419.3" width="2.5" height="1.8" fill="rgb(105,42,4)"/><rect x="28.5" y="487.5" width="1.9" height="2.4" fill="rgb(171,70,6)"/><rect x="41.3" y="486.3" width="2.0" height="1.8" fill="rgb(96,35,3)"/><rect x="58.9" y="500.7" width="2.3" height="1.9" fill="rgb(134,36,5)"/><rect x="114.8" y="510.8" width="2.5" height="1.9" fill="rgb(254,204,30)"/><rect x="82.3" y="473.6" width="2.4" height="1.8" fill="rgb(182,92,7)"/><rect x="164.3" y="409.7" width="2.0" height="1.7" fill="rgb(101,22,4)"/><rect x="94.6" y="502.9" width="2.4" height="1.6" fill="rgb(245,155,29)"/><rect x="65.4" y="421.3" width="2.3" height="2.3" fill="rgb(159,121,19)"/><rect x="153.7" y="482.9" width="2.2" height="1.8" fill="rgb(127,68,5)"/><rect x="32.4" y="513.7" width="2.2" height="2.1" fill="rgb(148,60,5)"/><rect x="32.5" y="447.9" width="2.0" height="2.3" fill="rgb(129,65,5)"/><rect x="133.3" y="492.0" width="2.6" height="1.8" fill="rgb(161,46,6)"/><rect x="165.0" y="504.6" width="2.4" height="2.1" fill="rgb(175,40,7)"/><rect x="80.3" y="519.3" width="1.7" height="2.0" fill="rgb(90,31,3)"/><rect x="132.4" y="507.7" width="2.4" height="1.7" fill="rgb(88,20,3)"/><rect x="28.4" y="451.4" width="2.4" height="2.4" fill="rgb(163,40,6)"/><rect x="155.3" y="442.3" width="1.9" height="1.9" fill="rgb(130,51,5)"/><rect x="144.2" y="516.1" width="2.0" height="2.6" fill="rgb(147,62,5)"/><rect x="134.2" y="502.3" width="2.4" height="1.9" fill="rgb(159,81,6)"/><rect x="47.4" y="449.8" width="2.2" height="1.6" fill="rgb(140,44,5)"/><rect x="149.0" y="481.6" width="1.9" height="2.3" fill="rgb(119,38,4)"/><rect x="100.5" y="467.5" width="1.9" height="1.7" fill="rgb(101,31,4)"/><rect x="174.4" y="462.2" width="2.4" height="2.5" fill="rgb(182,98,7)"/><rect x="165.6" y="498.6" width="2.6" height="2.4" fill="rgb(100,40,4)"/><rect x="131.7" y="492.4" width="2.0" height="2.1" fill="rgb(124,52,4)"/><rect x="174.5" y="468.1" width="2.2" height="2.5" fill="rgb(103,45,4)"/><rect x="51.6" y="454.5" width="2.1" height="1.9" fill="rgb(162,38,6)"/><rect x="39.6" y="437.6" width="1.7" height="2.5" fill="rgb(152,34,6)"/><rect x="122.5" y="427.6" width="2.4" height="2.3" fill="rgb(240,169,28)"/><rect x="66.9" y="508.7" width="2.0" height="2.3" fill="rgb(148,75,5)"/><rect x="107.2" y="514.8" width="2.6" height="1.9" fill="rgb(170,82,6)"/><rect x="54.2" y="492.4" width="2.0" height="2.5" fill="rgb(167,61,6)"/><rect x="146.1" y="474.1" width="1.8" height="1.9" fill="rgb(90,32,3)"/><rect x="129.9" y="408.6" width="2.3" height="2.6" fill="rgb(98,50,3)"/><rect x="107.0" y="472.6" width="2.4" height="2.6" fill="rgb(144,56,5)"/><rect x="86.2" y="479.2" width="2.2" height="2.1" fill="rgb(118,44,4)"/><rect x="174.0" y="426.4" width="2.2" height="2.0" fill="rgb(153,70,6)"/><rect x="85.2" y="513.8" width="2.5" height="2.4" fill="rgb(180,92,7)"/><rect x="82.3" y="460.5" width="2.1" height="1.9" fill="rgb(169,78,6)"/><rect x="93.6" y="421.2" width="1.8" height="1.9" fill="rgb(123,25,4)"/><rect x="155.6" y="474.6" width="2.1" height="2.3" fill="rgb(116,33,4)"/><rect x="129.9" y="457.0" width="2.1" height="2.6" fill="rgb(167,75,6)"/><rect x="133.7" y="418.3" width="1.6" height="1.9" fill="rgb(99,27,3)"/><rect x="97.2" y="515.6" width="1.7" height="2.2" fill="rgb(128,62,5)"/><rect x="176.9" y="470.1" width="2.6" height="1.7" fill="rgb(142,75,5)"/><rect x="108.5" y="455.4" width="1.9" height="2.1" fill="rgb(156,45,6)"/><rect x="145.7" y="504.9" width="2.0" height="2.3" fill="rgb(168,38,6)"/><rect x="68.6" y="465.4" width="1.7" height="2.0" fill="rgb(181,90,7)"/><rect x="163.0" y="430.7" width="2.6" height="1.9" fill="rgb(140,71,5)"/><rect x="99.2" y="509.1" width="1.9" height="2.1" fill="rgb(143,66,5)"/><rect x="24.4" y="519.8" width="1.9" height="2.1" fill="rgb(155,83,6)"/><rect x="91.1" y="493.9" width="2.3" height="2.0" fill="rgb(174,51,6)"/><rect x="43.2" y="430.1" width="2.1" height="2.2" fill="rgb(145,77,5)"/><rect x="46.1" y="454.8" width="1.8" height="2.0" fill="rgb(115,33,4)"/><rect x="95.8" y="446.2" width="2.3" height="2.1" fill="rgb(149,75,5)"/><rect x="32.1" y="444.8" width="2.5" height="1.9" fill="rgb(158,76,6)"/><rect x="99.4" y="445.3" width="1.7" height="2.1" fill="rgb(99,28,3)"/><rect x="131.7" y="471.6" width="2.2" height="2.5" fill="rgb(158,42,6)"/><rect x="88.3" y="408.5" width="1.7" height="1.8" fill="rgb(88,36,3)"/></g></g>
<g><rect x="183.9" y="407" width="158.5" height="117" fill="#030000"/><g filter="url(#blurd)"><rect x="332.6" y="515.1" width="2.8" height="2.7" fill="rgb(116,57,4)"/><rect x="232.5" y="476.5" width="2.4" height="2.4" fill="rgb(189,48,7)"/><rect x="296.6" y="520.4" width="2.2" height="1.9" fill="rgb(235,83,9)"/><rect x="189.1" y="460.5" width="2.5" height="2.6" fill="rgb(151,77,6)"/><rect x="221.4" y="410.7" width="3.2" height="2.7" fill="rgb(152,57,6)"/><rect x="213.0" y="509.0" width="2.9" height="2.9" fill="rgb(215,111,8)"/><rect x="239.6" y="518.9" width="2.8" height="2.4" fill="rgb(237,109,9)"/><rect x="266.8" y="463.4" width="2.3" height="3.0" fill="rgb(255,125,10)"/><rect x="323.9" y="460.1" width="2.5" height="2.1" fill="rgb(230,104,9)"/><rect x="235.1" y="487.1" width="3.1" height="2.2" fill="rgb(131,38,5)"/><rect x="332.8" y="487.8" width="2.6" height="2.2" fill="rgb(176,75,7)"/><rect x="217.0" y="465.8" width="2.9" height="2.8" fill="rgb(233,52,9)"/><rect x="325.1" y="429.6" width="2.2" height="2.1" fill="rgb(255,196,30)"/><rect x="320.2" y="420.0" width="2.1" height="3.0" fill="rgb(223,63,8)"/><rect x="250.2" y="489.0" width="2.7" height="1.9" fill="rgb(113,29,4)"/><rect x="332.4" y="410.9" width="2.9" height="2.0" fill="rgb(255,173,30)"/><rect x="213.3" y="486.1" width="2.0" height="1.9" fill="rgb(160,87,6)"/><rect x="238.1" y="477.5" width="1.8" height="2.4" fill="rgb(207,65,8)"/><rect x="303.2" y="491.6" width="2.8" height="2.5" fill="rgb(229,114,9)"/><rect x="219.7" y="482.7" width="3.0" height="2.0" fill="rgb(151,53,6)"/><rect x="275.3" y="452.4" width="2.2" height="2.6" fill="rgb(255,214,30)"/><rect x="249.8" y="410.0" width="1.8" height="2.0" fill="rgb(183,40,7)"/><rect x="199.7" y="479.8" width="3.2" height="2.1" fill="rgb(176,92,7)"/><rect x="253.6" y="436.3" width="2.8" height="2.2" fill="rgb(234,112,9)"/><rect x="250.3" y="467.5" width="2.0" height="2.8" fill="rgb(200,142,24)"/><rect x="222.1" y="419.3" width="2.5" height="2.5" fill="rgb(133,36,5)"/><rect x="232.8" y="480.5" width="2.8" height="2.4" fill="rgb(137,73,5)"/><rect x="263.9" y="473.7" width="2.1" height="1.9" fill="rgb(144,55,5)"/><rect x="308.9" y="449.4" width="2.2" height="3.2" fill="rgb(222,91,8)"/><rect x="242.4" y="410.2" width="3.0" height="2.7" fill="rgb(200,61,8)"/><rect x="187.3" y="459.0" width="2.6" height="1.9" fill="rgb(163,44,6)"/><rect x="228.8" y="450.1" width="2.1" height="2.6" fill="rgb(233,108,9)"/><rect x="245.4" y="460.3" width="2.0" height="1.9" fill="rgb(255,61,10)"/><rect x="316.2" y="480.4" width="2.7" height="2.9" fill="rgb(255,53,10)"/><rect x="296.7" y="464.3" width="2.2" height="2.5" fill="rgb(195,93,7)"/><rect x="258.7" y="515.9" width="2.2" height="2.1" fill="rgb(216,106,8)"/><rect x="260.4" y="437.3" width="2.6" height="2.9" fill="rgb(207,107,8)"/><rect x="199.7" y="448.2" width="1.9" height="1.9" fill="rgb(241,83,9)"/><rect x="323.3" y="519.7" width="2.1" height="2.7" fill="rgb(195,59,7)"/><rect x="290.1" y="457.6" width="3.1" height="2.9" fill="rgb(255,189,30)"/><rect x="199.8" y="466.4" width="2.4" height="2.8" fill="rgb(204,104,8)"/><rect x="247.3" y="520.5" width="2.4" height="1.8" fill="rgb(213,53,8)"/><rect x="276.9" y="507.6" width="2.4" height="2.8" fill="rgb(133,49,5)"/><rect x="329.6" y="487.7" width="2.8" height="2.7" fill="rgb(171,53,6)"/><rect x="302.6" y="504.3" width="2.7" height="3.2" fill="rgb(138,47,5)"/><rect x="283.0" y="409.3" width="2.7" height="2.9" fill="rgb(213,108,8)"/><rect x="187.5" y="514.6" width="3.0" height="1.9" fill="rgb(206,106,8)"/><rect x="310.9" y="494.7" width="2.1" height="2.9" fill="rgb(135,54,5)"/><rect x="206.2" y="477.2" width="2.5" height="2.1" fill="rgb(166,66,6)"/><rect x="334.3" y="416.2" width="2.7" height="2.9" fill="rgb(136,67,5)"/><rect x="259.8" y="484.3" width="1.8" height="1.9" fill="rgb(153,57,6)"/><rect x="301.4" y="427.6" width="2.7" height="2.9" fill="rgb(255,87,10)"/><rect x="318.4" y="423.2" width="2.2" height="1.8" fill="rgb(163,59,6)"/><rect x="271.0" y="517.3" width="2.4" height="3.0" fill="rgb(157,52,6)"/><rect x="232.6" y="481.3" width="1.9" height="3.0" fill="rgb(173,89,6)"/><rect x="231.9" y="481.0" width="3.0" height="1.9" fill="rgb(215,72,8)"/><rect x="282.7" y="452.2" width="2.7" height="2.2" fill="rgb(224,107,8)"/><rect x="220.9" y="459.7" width="2.0" height="2.9" fill="rgb(139,74,5)"/><rect x="243.5" y="449.2" width="2.0" height="2.4" fill="rgb(253,183,30)"/><rect x="230.0" y="509.1" width="3.1" height="2.3" fill="rgb(231,97,9)"/><rect x="200.3" y="434.9" width="2.3" height="2.9" fill="rgb(134,44,5)"/><rect x="220.9" y="499.4" width="2.3" height="3.0" fill="rgb(193,94,7)"/><rect x="328.0" y="464.8" width="2.9" height="3.0" fill="rgb(251,115,10)"/><rect x="329.4" y="493.1" width="2.7" height="2.3" fill="rgb(239,99,9)"/><rect x="246.0" y="427.7" width="3.1" height="2.1" fill="rgb(255,93,10)"/><rect x="333.3" y="422.4" width="3.1" height="3.0" fill="rgb(140,45,5)"/><rect x="302.6" y="457.3" width="2.3" height="2.2" fill="rgb(255,206,30)"/><rect x="283.4" y="425.0" width="2.0" height="2.1" fill="rgb(188,43,7)"/><rect x="223.7" y="455.5" width="2.1" height="2.7" fill="rgb(142,40,5)"/><rect x="236.9" y="450.1" width="3.0" height="2.4" fill="rgb(255,166,30)"/><rect x="305.2" y="423.0" width="2.9" height="2.7" fill="rgb(223,70,8)"/><rect x="245.9" y="520.7" width="2.2" height="3.0" fill="rgb(161,67,6)"/><rect x="277.2" y="474.4" width="3.0" height="2.4" fill="rgb(225,122,9)"/><rect x="248.5" y="467.3" width="2.0" height="3.1" fill="rgb(143,78,5)"/><rect x="289.9" y="511.4" width="1.8" height="1.9" fill="rgb(119,57,4)"/><rect x="239.1" y="427.6" width="3.2" height="2.7" fill="rgb(128,29,5)"/><rect x="192.6" y="509.6" width="2.0" height="2.5" fill="rgb(141,55,5)"/><rect x="194.2" y="430.6" width="2.8" height="3.0" fill="rgb(231,88,9)"/><rect x="206.5" y="463.6" width="2.1" height="1.9" fill="rgb(126,29,5)"/><rect x="218.2" y="450.8" width="2.8" height="2.5" fill="rgb(191,98,7)"/><rect x="326.6" y="426.4" width="2.1" height="2.3" fill="rgb(153,64,6)"/><rect x="230.8" y="456.7" width="2.9" height="2.6" fill="rgb(166,79,6)"/><rect x="257.9" y="440.1" width="2.8" height="2.8" fill="rgb(255,71,10)"/><rect x="286.6" y="411.5" width="2.6" height="2.7" fill="rgb(228,61,9)"/><rect x="281.5" y="491.9" width="2.9" height="3.0" fill="rgb(202,43,8)"/><rect x="314.0" y="475.6" width="2.7" height="2.6" fill="rgb(206,132,24)"/><rect x="213.7" y="516.0" width="2.2" height="2.1" fill="rgb(239,86,9)"/><rect x="312.2" y="487.2" width="2.4" height="2.4" fill="rgb(182,72,7)"/><rect x="296.2" y="459.5" width="2.2" height="3.1" fill="rgb(255,199,30)"/><rect x="218.0" y="445.7" width="3.1" height="2.1" fill="rgb(180,69,7)"/><rect x="304.2" y="486.3" width="2.3" height="2.5" fill="rgb(255,91,10)"/><rect x="224.2" y="429.6" width="2.6" height="2.2" fill="rgb(172,62,6)"/><rect x="211.2" y="476.4" width="2.7" height="3.0" fill="rgb(223,92,8)"/><rect x="290.3" y="442.8" width="1.8" height="3.0" fill="rgb(170,51,6)"/><rect x="215.5" y="443.4" width="2.3" height="2.4" fill="rgb(151,68,6)"/><rect x="249.7" y="502.2" width="2.0" height="2.6" fill="rgb(111,27,4)"/><rect x="242.9" y="415.3" width="2.5" height="2.9" fill="rgb(187,79,7)"/><rect x="326.4" y="425.1" width="2.1" height="2.8" fill="rgb(186,97,7)"/><rect x="320.0" y="474.8" width="2.1" height="1.9" fill="rgb(253,71,10)"/><rect x="287.7" y="423.6" width="3.2" height="2.3" fill="rgb(239,84,9)"/><rect x="258.3" y="450.9" width="2.9" height="1.9" fill="rgb(235,174,28)"/><rect x="331.0" y="484.2" width="2.5" height="1.9" fill="rgb(116,39,4)"/><rect x="263.7" y="466.8" width="2.8" height="2.1" fill="rgb(255,113,10)"/><rect x="188.7" y="462.1" width="2.6" height="2.7" fill="rgb(126,39,5)"/><rect x="284.8" y="514.5" width="2.7" height="2.4" fill="rgb(122,28,4)"/><rect x="206.6" y="443.1" width="2.3" height="2.3" fill="rgb(197,104,7)"/><rect x="327.4" y="476.5" width="3.1" height="2.7" fill="rgb(154,50,6)"/><rect x="309.3" y="509.2" width="2.3" height="3.0" fill="rgb(176,36,7)"/><rect x="186.2" y="484.0" width="1.9" height="2.6" fill="rgb(242,121,9)"/><rect x="279.1" y="457.2" width="1.9" height="2.6" fill="rgb(206,52,8)"/><rect x="334.2" y="501.5" width="1.9" height="2.1" fill="rgb(198,102,7)"/><rect x="306.7" y="509.1" width="2.6" height="1.9" fill="rgb(162,38,6)"/><rect x="221.0" y="429.5" width="2.2" height="2.7" fill="rgb(109,40,4)"/><rect x="193.0" y="466.5" width="2.0" height="2.4" fill="rgb(179,93,7)"/><rect x="255.9" y="450.1" width="2.4" height="2.4" fill="rgb(255,97,10)"/><rect x="331.8" y="498.3" width="2.0" height="2.3" fill="rgb(195,79,7)"/><rect x="188.5" y="487.7" width="2.2" height="2.4" fill="rgb(239,95,9)"/><rect x="256.7" y="455.8" width="3.1" height="2.9" fill="rgb(244,193,29)"/><rect x="280.9" y="411.2" width="2.6" height="2.6" fill="rgb(186,100,7)"/><rect x="290.9" y="435.9" width="2.4" height="2.7" fill="rgb(255,207,30)"/><rect x="270.8" y="468.4" width="2.4" height="2.5" fill="rgb(213,98,8)"/><rect x="323.6" y="492.4" width="2.6" height="2.7" fill="rgb(196,47,7)"/><rect x="255.1" y="516.8" width="2.9" height="2.8" fill="rgb(237,98,9)"/><rect x="240.9" y="498.2" width="2.7" height="2.4" fill="rgb(155,67,6)"/><rect x="262.0" y="519.6" width="2.6" height="2.4" fill="rgb(216,112,8)"/><rect x="284.8" y="496.5" width="2.4" height="1.9" fill="rgb(228,98,9)"/><rect x="255.2" y="420.9" width="2.8" height="2.1" fill="rgb(255,104,10)"/><rect x="313.7" y="444.8" width="3.1" height="2.4" fill="rgb(149,50,5)"/><rect x="199.5" y="410.1" width="1.9" height="2.3" fill="rgb(113,50,4)"/><rect x="258.8" y="509.4" width="2.6" height="2.1" fill="rgb(238,100,9)"/><rect x="279.5" y="426.8" width="2.8" height="2.5" fill="rgb(186,74,7)"/><rect x="228.1" y="464.9" width="3.2" height="2.1" fill="rgb(185,91,7)"/><rect x="222.3" y="499.7" width="2.1" height="3.0" fill="rgb(205,83,8)"/><rect x="275.7" y="465.7" width="2.3" height="2.1" fill="rgb(163,59,6)"/><rect x="215.5" y="487.1" width="2.9" height="2.0" fill="rgb(232,96,9)"/><rect x="217.3" y="487.5" width="2.1" height="2.1" fill="rgb(109,51,4)"/><rect x="246.0" y="502.6" width="2.6" height="2.5" fill="rgb(110,33,4)"/><rect x="203.7" y="516.3" width="2.4" height="3.1" fill="rgb(132,67,5)"/><rect x="194.6" y="424.7" width="2.5" height="2.9" fill="rgb(173,83,6)"/><rect x="229.2" y="411.1" width="2.0" height="2.6" fill="rgb(227,78,9)"/><rect x="256.6" y="430.4" width="2.0" height="2.1" fill="rgb(142,67,5)"/><rect x="280.5" y="479.8" width="2.0" height="3.1" fill="rgb(255,126,10)"/><rect x="189.4" y="421.4" width="3.1" height="3.2" fill="rgb(122,45,4)"/><rect x="332.0" y="477.4" width="2.1" height="2.6" fill="rgb(194,88,7)"/><rect x="188.0" y="410.0" width="2.9" height="2.0" fill="rgb(194,97,7)"/><rect x="298.9" y="518.9" width="1.9" height="2.7" fill="rgb(199,60,7)"/><rect x="333.5" y="421.0" width="3.0" height="2.0" fill="rgb(255,82,10)"/><rect x="231.4" y="472.0" width="3.1" height="2.6" fill="rgb(226,52,9)"/><rect x="305.2" y="434.0" width="2.4" height="2.4" fill="rgb(255,169,30)"/><rect x="286.4" y="502.2" width="2.3" height="2.1" fill="rgb(153,65,6)"/><rect x="332.6" y="482.2" width="2.4" height="2.9" fill="rgb(114,37,4)"/><rect x="219.4" y="438.3" width="3.0" height="2.8" fill="rgb(180,41,7)"/><rect x="212.3" y="482.8" width="2.2" height="2.5" fill="rgb(191,74,7)"/><rect x="221.6" y="459.5" width="2.3" height="2.4" fill="rgb(163,45,6)"/><rect x="271.9" y="492.4" width="2.1" height="2.0" fill="rgb(143,45,5)"/><rect x="333.2" y="513.4" width="1.9" height="2.2" fill="rgb(219,55,8)"/><rect x="250.8" y="408.8" width="2.1" height="1.8" fill="rgb(165,81,6)"/><rect x="307.7" y="451.0" width="2.2" height="2.2" fill="rgb(252,171,30)"/><rect x="220.9" y="466.5" width="2.5" height="3.0" fill="rgb(217,75,8)"/><rect x="303.3" y="519.3" width="2.6" height="2.5" fill="rgb(132,40,5)"/><rect x="273.7" y="444.4" width="3.0" height="2.4" fill="rgb(212,176,25)"/><rect x="198.8" y="502.7" width="2.0" height="2.1" fill="rgb(175,74,7)"/><rect x="310.8" y="491.0" width="3.0" height="2.5" fill="rgb(240,129,9)"/><rect x="322.7" y="426.4" width="2.5" height="2.8" fill="rgb(147,36,5)"/><rect x="289.9" y="432.9" width="3.1" height="2.6" fill="rgb(255,191,30)"/><rect x="231.6" y="520.7" width="3.1" height="2.6" fill="rgb(205,105,8)"/><rect x="312.3" y="464.7" width="1.8" height="2.7" fill="rgb(242,164,29)"/><rect x="246.7" y="510.9" width="2.3" height="2.2" fill="rgb(115,30,4)"/><rect x="332.8" y="481.0" width="2.3" height="3.2" fill="rgb(171,37,6)"/><rect x="253.6" y="484.3" width="2.4" height="2.1" fill="rgb(226,70,9)"/><rect x="244.1" y="485.0" width="2.7" height="2.0" fill="rgb(126,38,5)"/><rect x="306.9" y="455.4" width="1.8" height="2.3" fill="rgb(255,102,10)"/><rect x="335.7" y="481.7" width="3.1" height="2.7" fill="rgb(210,111,8)"/><rect x="276.0" y="419.7" width="3.0" height="2.9" fill="rgb(201,157,24)"/><rect x="321.9" y="411.4" width="2.6" height="3.1" fill="rgb(141,29,5)"/><rect x="323.8" y="420.0" width="2.4" height="2.1" fill="rgb(246,105,9)"/><rect x="321.8" y="510.1" width="2.2" height="2.1" fill="rgb(204,43,8)"/><rect x="222.4" y="432.4" width="3.1" height="1.8" fill="rgb(198,51,7)"/><rect x="332.5" y="473.9" width="3.0" height="2.1" fill="rgb(243,107,9)"/><rect x="205.3" y="497.0" width="2.1" height="2.1" fill="rgb(142,52,5)"/><rect x="228.7" y="417.5" width="2.2" height="2.9" fill="rgb(218,93,8)"/><rect x="333.4" y="521.0" width="2.5" height="2.7" fill="rgb(114,26,4)"/><rect x="278.9" y="448.1" width="2.4" height="2.7" fill="rgb(255,139,10)"/><rect x="200.2" y="468.5" width="2.0" height="2.4" fill="rgb(195,81,7)"/><rect x="278.7" y="462.2" width="2.7" height="2.4" fill="rgb(225,158,27)"/><rect x="215.9" y="446.2" width="2.5" height="2.3" fill="rgb(150,60,6)"/><rect x="185.1" y="511.3" width="2.9" height="3.1" fill="rgb(115,34,4)"/><rect x="302.2" y="431.3" width="2.0" height="2.6" fill="rgb(255,164,30)"/><rect x="276.6" y="478.8" width="2.0" height="3.1" fill="rgb(255,117,10)"/><rect x="326.9" y="501.6" width="2.6" height="2.2" fill="rgb(119,45,4)"/><rect x="304.3" y="499.2" width="1.9" height="2.8" fill="rgb(211,96,8)"/><rect x="189.6" y="408.7" width="2.5" height="2.7" fill="rgb(122,66,4)"/><rect x="275.5" y="503.1" width="1.9" height="3.1" fill="rgb(238,75,9)"/><rect x="228.0" y="493.7" width="2.4" height="3.0" fill="rgb(224,60,8)"/><rect x="316.5" y="520.2" width="2.3" height="2.6" fill="rgb(145,73,5)"/><rect x="219.6" y="504.8" width="2.2" height="2.9" fill="rgb(167,71,6)"/><rect x="255.9" y="456.5" width="3.0" height="2.9" fill="rgb(255,114,10)"/><rect x="247.9" y="480.8" width="2.5" height="2.4" fill="rgb(224,96,8)"/><rect x="203.3" y="440.6" width="2.9" height="3.0" fill="rgb(208,113,8)"/><rect x="312.5" y="426.6" width="2.2" height="2.8" fill="rgb(251,116,10)"/><rect x="245.1" y="456.9" width="2.7" height="1.9" fill="rgb(255,63,10)"/><rect x="216.9" y="501.2" width="2.1" height="2.5" fill="rgb(230,107,9)"/><rect x="238.7" y="417.5" width="1.9" height="2.2" fill="rgb(166,82,6)"/><rect x="185.5" y="431.6" width="2.1" height="2.5" fill="rgb(144,76,5)"/><rect x="265.8" y="463.5" width="2.4" height="2.5" fill="rgb(255,54,10)"/><rect x="285.3" y="467.9" width="3.0" height="2.0" fill="rgb(255,185,30)"/><rect x="211.7" y="477.7" width="2.1" height="2.3" fill="rgb(128,31,5)"/><rect x="305.9" y="477.1" width="3.2" height="2.6" fill="rgb(237,80,9)"/><rect x="282.0" y="415.6" width="2.8" height="1.9" fill="rgb(177,94,7)"/><rect x="309.7" y="432.0" width="2.9" height="2.5" fill="rgb(255,161,30)"/><rect x="278.4" y="487.6" width="2.5" height="2.1" fill="rgb(235,73,9)"/><rect x="225.4" y="499.6" width="2.5" height="2.9" fill="rgb(154,67,6)"/><rect x="235.9" y="408.4" width="3.1" height="2.4" fill="rgb(222,101,8)"/><rect x="250.8" y="477.2" width="3.1" height="2.2" fill="rgb(225,104,9)"/><rect x="187.6" y="426.3" width="1.9" height="3.1" fill="rgb(194,103,7)"/><rect x="239.6" y="512.0" width="2.2" height="3.1" fill="rgb(154,67,6)"/><rect x="312.0" y="437.0" width="2.2" height="2.6" fill="rgb(217,102,8)"/><rect x="265.0" y="474.4" width="2.4" height="3.2" fill="rgb(228,76,9)"/><rect x="265.6" y="420.0" width="1.9" height="2.4" fill="rgb(201,88,8)"/><rect x="254.7" y="503.5" width="1.8" height="2.5" fill="rgb(144,69,5)"/><rect x="267.2" y="479.3" width="1.8" height="3.0" fill="rgb(255,124,10)"/><rect x="225.3" y="411.0" width="2.9" height="2.4" fill="rgb(217,93,8)"/><rect x="223.2" y="483.1" width="2.2" height="2.2" fill="rgb(216,71,8)"/><rect x="318.7" y="408.8" width="2.6" height="2.9" fill="rgb(139,65,5)"/><rect x="292.4" y="508.4" width="2.4" height="2.0" fill="rgb(250,160,30)"/><rect x="232.8" y="439.0" width="2.4" height="2.4" fill="rgb(240,104,9)"/><rect x="195.8" y="459.2" width="2.4" height="2.8" fill="rgb(128,62,5)"/><rect x="310.7" y="511.4" width="2.5" height="2.2" fill="rgb(165,84,6)"/><rect x="290.5" y="505.6" width="2.2" height="2.2" fill="rgb(240,70,9)"/><rect x="218.5" y="511.9" width="2.1" height="3.2" fill="rgb(193,44,7)"/><rect x="237.8" y="499.1" width="1.9" height="2.5" fill="rgb(138,73,5)"/><rect x="266.7" y="446.1" width="2.2" height="2.5" fill="rgb(255,71,10)"/><rect x="259.0" y="479.5" width="2.4" height="1.8" fill="rgb(255,134,10)"/><rect x="250.1" y="467.9" width="2.5" height="2.2" fill="rgb(166,67,6)"/><rect x="205.4" y="439.2" width="1.8" height="2.9" fill="rgb(194,85,7)"/><rect x="292.3" y="485.1" width="2.6" height="2.4" fill="rgb(223,119,8)"/><rect x="268.5" y="498.5" width="2.6" height="2.1" fill="rgb(199,61,7)"/><rect x="274.1" y="409.7" width="2.5" height="3.0" fill="rgb(225,116,9)"/><rect x="215.8" y="409.3" width="2.6" height="2.9" fill="rgb(182,61,7)"/><rect x="318.1" y="444.6" width="2.6" height="2.5" fill="rgb(233,102,9)"/><rect x="310.0" y="410.2" width="2.7" height="2.4" fill="rgb(255,67,10)"/><rect x="237.8" y="416.8" width="2.8" height="2.1" fill="rgb(115,26,4)"/><rect x="243.7" y="455.6" width="2.1" height="2.0" fill="rgb(253,106,10)"/><rect x="271.3" y="449.4" width="2.3" height="2.2" fill="rgb(255,198,30)"/><rect x="212.8" y="493.2" width="1.8" height="2.6" fill="rgb(176,86,7)"/><rect x="235.7" y="435.5" width="2.4" height="2.0" fill="rgb(219,75,8)"/><rect x="232.8" y="408.4" width="3.1" height="2.3" fill="rgb(175,96,7)"/><rect x="333.7" y="419.8" width="2.6" height="1.9" fill="rgb(161,70,6)"/><rect x="247.9" y="463.6" width="1.9" height="2.5" fill="rgb(200,92,8)"/><rect x="292.5" y="497.1" width="2.4" height="3.0" fill="rgb(197,90,7)"/><rect x="279.5" y="475.5" width="2.4" height="2.9" fill="rgb(235,105,9)"/><rect x="250.0" y="491.7" width="3.1" height="2.1" fill="rgb(230,57,9)"/><rect x="217.5" y="413.2" width="2.0" height="2.3" fill="rgb(164,79,6)"/><rect x="303.8" y="410.7" width="2.2" height="2.0" fill="rgb(255,203,30)"/><rect x="202.2" y="431.6" width="2.1" height="1.9" fill="rgb(202,43,8)"/><rect x="297.8" y="493.7" width="2.8" height="2.1" fill="rgb(179,38,7)"/><rect x="269.7" y="519.6" width="2.5" height="2.4" fill="rgb(140,49,5)"/><rect x="293.3" y="466.8" width="2.3" height="2.5" fill="rgb(141,39,5)"/><rect x="276.7" y="493.6" width="2.5" height="2.1" fill="rgb(124,51,4)"/><rect x="307.9" y="516.9" width="2.5" height="2.9" fill="rgb(194,49,7)"/><rect x="233.7" y="457.4" width="2.2" height="3.1" fill="rgb(168,69,6)"/><rect x="314.4" y="442.8" width="2.4" height="2.0" fill="rgb(211,170,25)"/><rect x="192.2" y="496.2" width="2.7" height="2.3" fill="rgb(136,44,5)"/><rect x="286.1" y="423.9" width="2.6" height="3.2" fill="rgb(244,154,29)"/><rect x="185.9" y="507.3" width="2.3" height="1.9" fill="rgb(147,31,5)"/><rect x="261.4" y="459.8" width="2.9" height="2.1" fill="rgb(164,66,6)"/><rect x="296.4" y="486.5" width="2.4" height="1.9" fill="rgb(255,135,10)"/><rect x="327.3" y="442.6" width="2.5" height="2.6" fill="rgb(255,162,30)"/><rect x="289.0" y="480.4" width="2.0" height="2.6" fill="rgb(196,74,7)"/><rect x="239.3" y="469.6" width="2.7" height="1.8" fill="rgb(130,38,5)"/><rect x="249.2" y="453.4" width="2.9" height="2.4" fill="rgb(255,188,30)"/><rect x="332.6" y="436.7" width="1.9" height="2.9" fill="rgb(218,65,8)"/><rect x="286.0" y="502.5" width="3.1" height="2.6" fill="rgb(172,74,6)"/><rect x="225.5" y="467.1" width="2.8" height="1.8" fill="rgb(222,93,8)"/><rect x="206.1" y="409.2" width="2.9" height="2.6" fill="rgb(169,34,6)"/><rect x="297.9" y="517.2" width="2.5" height="2.9" fill="rgb(210,88,8)"/><rect x="305.8" y="441.7" width="3.1" height="2.1" fill="rgb(255,189,30)"/><rect x="322.6" y="462.7" width="2.2" height="2.6" fill="rgb(255,161,30)"/><rect x="322.8" y="471.8" width="2.8" height="3.0" fill="rgb(223,83,8)"/><rect x="238.4" y="484.1" width="2.4" height="2.7" fill="rgb(155,33,6)"/><rect x="263.6" y="458.6" width="2.6" height="3.1" fill="rgb(255,112,10)"/><rect x="236.3" y="457.9" width="2.3" height="2.0" fill="rgb(211,100,8)"/><rect x="269.2" y="471.4" width="2.5" height="2.8" fill="rgb(187,102,7)"/><rect x="249.8" y="470.2" width="2.8" height="2.2" fill="rgb(183,89,7)"/><rect x="247.7" y="471.3" width="2.8" height="2.5" fill="rgb(147,80,5)"/><rect x="203.5" y="468.9" width="2.2" height="1.9" fill="rgb(186,94,7)"/><rect x="334.6" y="468.4" width="2.6" height="2.8" fill="rgb(255,131,10)"/><rect x="282.9" y="515.7" width="2.1" height="2.1" fill="rgb(209,72,8)"/><rect x="255.4" y="470.9" width="2.4" height="1.8" fill="rgb(251,134,10)"/><rect x="266.4" y="482.3" width="3.1" height="2.4" fill="rgb(176,47,7)"/><rect x="332.1" y="477.3" width="3.2" height="2.0" fill="rgb(255,129,10)"/><rect x="274.4" y="426.1" width="2.9" height="2.3" fill="rgb(255,132,10)"/><rect x="282.5" y="414.6" width="2.2" height="1.8" fill="rgb(153,70,6)"/><rect x="191.9" y="445.3" width="3.0" height="2.9" fill="rgb(158,69,6)"/><rect x="293.2" y="494.3" width="2.7" height="2.5" fill="rgb(138,55,5)"/><rect x="254.0" y="503.3" width="2.6" height="1.9" fill="rgb(215,107,8)"/><rect x="306.9" y="507.5" width="2.1" height="2.5" fill="rgb(166,48,6)"/><rect x="252.5" y="481.8" width="2.4" height="2.4" fill="rgb(196,92,7)"/><rect x="213.4" y="477.0" width="2.3" height="2.6" fill="rgb(199,96,7)"/><rect x="279.8" y="452.0" width="2.5" height="3.1" fill="rgb(137,70,5)"/><rect x="192.9" y="474.0" width="2.8" height="2.1" fill="rgb(161,52,6)"/><rect x="229.2" y="454.5" width="2.5" height="2.6" fill="rgb(164,86,6)"/><rect x="204.7" y="468.1" width="2.6" height="2.3" fill="rgb(210,112,8)"/><rect x="319.4" y="518.7" width="2.0" height="2.2" fill="rgb(238,103,9)"/><rect x="304.9" y="506.7" width="2.2" height="2.2" fill="rgb(187,69,7)"/><rect x="216.6" y="515.3" width="2.8" height="2.8" fill="rgb(233,115,9)"/><rect x="224.3" y="468.1" width="1.9" height="2.3" fill="rgb(217,114,8)"/><rect x="242.2" y="454.9" width="2.7" height="2.9" fill="rgb(255,125,10)"/><rect x="316.0" y="432.2" width="2.4" height="2.3" fill="rgb(240,61,9)"/><rect x="316.9" y="460.3" width="2.6" height="1.8" fill="rgb(223,171,26)"/><rect x="310.9" y="440.1" width="2.7" height="1.9" fill="rgb(142,61,5)"/><rect x="188.1" y="489.8" width="1.9" height="2.5" fill="rgb(240,179,28)"/><rect x="294.5" y="433.5" width="2.7" height="1.9" fill="rgb(203,60,8)"/><rect x="293.7" y="434.7" width="2.1" height="2.9" fill="rgb(208,98,8)"/><rect x="246.4" y="464.0" width="2.3" height="2.1" fill="rgb(182,99,7)"/><rect x="308.9" y="419.9" width="3.2" height="2.5" fill="rgb(255,160,30)"/><rect x="285.8" y="424.6" width="1.8" height="3.1" fill="rgb(255,207,30)"/><rect x="333.4" y="430.4" width="2.5" height="2.5" fill="rgb(247,154,29)"/><rect x="321.3" y="462.5" width="1.8" height="2.3" fill="rgb(165,42,6)"/><rect x="313.5" y="417.2" width="2.6" height="2.2" fill="rgb(255,139,10)"/><rect x="303.9" y="424.8" width="2.9" height="2.1" fill="rgb(223,86,8)"/><rect x="318.0" y="425.0" width="2.0" height="2.2" fill="rgb(191,99,7)"/><rect x="304.2" y="435.9" width="2.9" height="2.3" fill="rgb(255,216,30)"/><rect x="338.5" y="508.1" width="2.7" height="2.2" fill="rgb(151,68,6)"/><rect x="186.2" y="440.4" width="2.8" height="2.2" fill="rgb(233,101,9)"/><rect x="320.8" y="461.4" width="3.0" height="3.2" fill="rgb(255,111,10)"/><rect x="295.3" y="514.7" width="2.3" height="3.1" fill="rgb(163,47,6)"/><rect x="235.4" y="435.8" width="2.4" height="2.0" fill="rgb(121,63,4)"/><rect x="302.7" y="503.9" width="2.5" height="2.7" fill="rgb(163,53,6)"/><rect x="327.8" y="445.7" width="3.0" height="2.1" fill="rgb(255,91,10)"/><rect x="269.5" y="511.0" width="2.7" height="2.9" fill="rgb(220,84,8)"/><rect x="222.8" y="517.0" width="3.1" height="1.8" fill="rgb(215,88,8)"/><rect x="227.2" y="507.2" width="2.1" height="1.9" fill="rgb(115,34,4)"/><rect x="228.9" y="449.4" width="2.0" height="2.5" fill="rgb(196,80,7)"/><rect x="328.1" y="434.5" width="2.6" height="3.0" fill="rgb(255,175,30)"/><rect x="268.1" y="429.7" width="2.6" height="2.3" fill="rgb(255,201,30)"/><rect x="281.8" y="448.3" width="2.1" height="3.1" fill="rgb(218,104,8)"/><rect x="316.0" y="429.3" width="2.1" height="3.0" fill="rgb(255,207,30)"/><rect x="318.5" y="471.2" width="2.3" height="2.9" fill="rgb(249,105,9)"/><rect x="324.5" y="468.6" width="2.8" height="2.2" fill="rgb(255,90,10)"/><rect x="306.8" y="497.9" width="2.5" height="1.9" fill="rgb(136,69,5)"/><rect x="309.8" y="428.6" width="2.8" height="1.8" fill="rgb(214,100,8)"/><rect x="223.3" y="421.0" width="2.8" height="2.9" fill="rgb(239,61,9)"/><rect x="295.6" y="468.1" width="3.0" height="1.8" fill="rgb(255,54,10)"/><rect x="338.4" y="473.6" width="2.3" height="2.6" fill="rgb(240,120,9)"/><rect x="194.0" y="484.1" width="2.6" height="2.6" fill="rgb(221,106,8)"/><rect x="313.5" y="428.9" width="3.1" height="2.8" fill="rgb(201,92,8)"/><rect x="288.6" y="480.0" width="2.1" height="2.3" fill="rgb(173,84,6)"/><rect x="251.7" y="491.0" width="2.9" height="2.4" fill="rgb(119,62,4)"/><rect x="210.8" y="408.5" width="3.0" height="2.1" fill="rgb(129,29,5)"/><rect x="308.9" y="433.6" width="2.1" height="2.5" fill="rgb(253,96,10)"/><rect x="222.7" y="517.7" width="2.4" height="3.1" fill="rgb(170,53,6)"/><rect x="322.0" y="501.7" width="2.2" height="1.9" fill="rgb(235,48,9)"/><rect x="314.3" y="424.4" width="2.3" height="3.1" fill="rgb(255,169,30)"/><rect x="223.4" y="429.4" width="2.5" height="2.8" fill="rgb(213,85,8)"/><rect x="261.3" y="433.7" width="2.2" height="2.6" fill="rgb(157,43,6)"/><rect x="331.3" y="448.9" width="3.1" height="2.6" fill="rgb(190,68,7)"/><rect x="269.9" y="443.6" width="3.1" height="2.9" fill="rgb(192,92,7)"/><rect x="218.5" y="513.5" width="1.9" height="2.5" fill="rgb(149,54,5)"/><rect x="331.2" y="421.3" width="2.6" height="1.9" fill="rgb(255,73,10)"/><rect x="236.5" y="494.1" width="2.9" height="2.8" fill="rgb(148,44,5)"/><rect x="274.0" y="460.1" width="2.3" height="3.0" fill="rgb(237,174,28)"/><rect x="202.4" y="417.8" width="2.7" height="2.2" fill="rgb(153,70,6)"/><rect x="197.1" y="483.2" width="3.1" height="2.4" fill="rgb(124,51,4)"/><rect x="255.9" y="480.3" width="2.8" height="1.9" fill="rgb(123,50,4)"/><rect x="228.3" y="425.0" width="2.5" height="2.6" fill="rgb(152,79,6)"/><rect x="249.9" y="454.5" width="2.1" height="2.9" fill="rgb(147,54,5)"/><rect x="188.0" y="507.9" width="2.0" height="2.5" fill="rgb(181,67,7)"/><rect x="218.4" y="470.1" width="2.6" height="2.3" fill="rgb(110,52,4)"/><rect x="289.3" y="452.5" width="2.9" height="2.1" fill="rgb(255,89,10)"/><rect x="328.4" y="483.5" width="2.7" height="2.0" fill="rgb(109,36,4)"/><rect x="238.1" y="514.1" width="2.0" height="2.0" fill="rgb(185,80,7)"/><rect x="247.3" y="448.1" width="2.2" height="2.9" fill="rgb(214,48,8)"/><rect x="300.5" y="479.3" width="2.1" height="2.2" fill="rgb(144,33,5)"/><rect x="337.7" y="447.6" width="2.9" height="2.3" fill="rgb(251,179,30)"/><rect x="250.1" y="421.0" width="3.0" height="2.5" fill="rgb(162,79,6)"/><rect x="273.4" y="452.2" width="2.8" height="2.3" fill="rgb(255,178,30)"/><rect x="338.6" y="460.7" width="2.0" height="2.4" fill="rgb(136,68,5)"/><rect x="271.0" y="507.5" width="2.8" height="3.1" fill="rgb(110,25,4)"/><rect x="283.1" y="410.6" width="2.4" height="2.1" fill="rgb(182,93,7)"/><rect x="300.3" y="490.9" width="3.0" height="2.1" fill="rgb(240,112,9)"/><rect x="190.7" y="500.7" width="2.0" height="2.2" fill="rgb(192,95,7)"/><rect x="316.3" y="470.7" width="2.2" height="1.9" fill="rgb(255,52,10)"/><rect x="220.0" y="451.9" width="2.4" height="3.1" fill="rgb(231,85,9)"/><rect x="289.5" y="454.7" width="3.2" height="2.2" fill="rgb(214,138,25)"/><rect x="212.4" y="411.5" width="2.6" height="2.8" fill="rgb(129,48,5)"/><rect x="214.5" y="475.5" width="2.1" height="2.1" fill="rgb(187,64,7)"/><rect x="294.5" y="499.0" width="2.3" height="1.9" fill="rgb(148,77,5)"/><rect x="327.7" y="436.7" width="2.4" height="1.9" fill="rgb(255,95,10)"/><rect x="240.0" y="418.0" width="2.6" height="3.1" fill="rgb(173,71,6)"/><rect x="311.5" y="477.6" width="2.7" height="3.0" fill="rgb(255,123,10)"/><rect x="319.9" y="483.8" width="2.5" height="2.5" fill="rgb(255,212,30)"/><rect x="220.9" y="444.0" width="2.3" height="2.0" fill="rgb(183,37,7)"/><rect x="338.2" y="418.3" width="2.8" height="2.8" fill="rgb(255,140,10)"/><rect x="280.5" y="509.2" width="2.6" height="2.4" fill="rgb(221,118,8)"/><rect x="230.0" y="478.4" width="2.4" height="3.0" fill="rgb(182,66,7)"/><rect x="203.8" y="416.2" width="2.4" height="2.0" fill="rgb(176,37,7)"/><rect x="214.7" y="495.4" width="3.0" height="2.9" fill="rgb(111,41,4)"/><rect x="264.5" y="465.7" width="2.4" height="2.0" fill="rgb(255,120,10)"/><rect x="327.1" y="432.1" width="2.3" height="1.9" fill="rgb(231,86,9)"/><rect x="252.8" y="416.9" width="2.3" height="2.4" fill="rgb(226,50,9)"/><rect x="227.0" y="515.5" width="1.9" height="2.4" fill="rgb(148,31,5)"/><rect x="189.2" y="458.8" width="2.6" height="2.0" fill="rgb(232,103,9)"/><rect x="252.2" y="410.0" width="2.4" height="2.3" fill="rgb(167,40,6)"/><rect x="213.6" y="425.5" width="2.2" height="1.8" fill="rgb(146,78,5)"/><rect x="259.6" y="508.2" width="2.2" height="1.9" fill="rgb(141,48,5)"/><rect x="228.8" y="468.3" width="2.5" height="1.9" fill="rgb(147,66,5)"/><rect x="198.8" y="505.2" width="3.2" height="2.5" fill="rgb(132,58,5)"/><rect x="300.5" y="477.6" width="2.6" height="2.7" fill="rgb(255,70,10)"/><rect x="208.6" y="474.7" width="2.3" height="2.3" fill="rgb(170,62,6)"/><rect x="337.2" y="444.2" width="2.9" height="2.5" fill="rgb(255,175,30)"/><rect x="290.5" y="511.3" width="2.1" height="2.7" fill="rgb(201,100,8)"/><rect x="188.4" y="480.0" width="2.6" height="2.9" fill="rgb(229,116,9)"/><rect x="221.0" y="439.9" width="1.9" height="2.9" fill="rgb(120,56,4)"/><rect x="226.0" y="503.4" width="2.7" height="2.4" fill="rgb(237,95,9)"/><rect x="188.5" y="464.4" width="2.6" height="1.8" fill="rgb(202,51,8)"/><rect x="212.1" y="445.9" width="3.1" height="1.9" fill="rgb(173,50,6)"/><rect x="209.8" y="492.4" width="2.5" height="2.7" fill="rgb(151,74,6)"/><rect x="243.6" y="492.6" width="3.1" height="1.8" fill="rgb(238,78,9)"/><rect x="301.5" y="515.6" width="2.4" height="3.1" fill="rgb(139,33,5)"/><rect x="198.3" y="429.3" width="3.1" height="2.7" fill="rgb(129,35,5)"/><rect x="264.0" y="499.0" width="2.5" height="3.1" fill="rgb(196,62,7)"/><rect x="232.8" y="512.1" width="2.0" height="2.3" fill="rgb(159,53,6)"/><rect x="294.1" y="504.0" width="2.7" height="2.7" fill="rgb(183,74,7)"/><rect x="224.9" y="414.9" width="3.0" height="1.9" fill="rgb(179,87,7)"/><rect x="302.8" y="459.0" width="1.9" height="3.1" fill="rgb(255,208,30)"/><rect x="326.8" y="457.0" width="2.5" height="2.8" fill="rgb(255,112,10)"/><rect x="273.9" y="497.3" width="1.8" height="2.8" fill="rgb(140,41,5)"/><rect x="278.7" y="435.1" width="2.6" height="2.2" fill="rgb(255,119,10)"/><rect x="286.5" y="437.0" width="3.0" height="3.0" fill="rgb(225,85,9)"/><rect x="256.3" y="452.3" width="3.0" height="2.1" fill="rgb(182,41,7)"/><rect x="196.6" y="423.5" width="2.3" height="2.1" fill="rgb(155,64,6)"/><rect x="258.4" y="465.4" width="3.2" height="2.3" fill="rgb(221,86,8)"/><rect x="293.5" y="456.7" width="3.2" height="2.8" fill="rgb(255,205,30)"/><rect x="300.1" y="413.8" width="2.9" height="3.0" fill="rgb(250,63,10)"/><rect x="326.7" y="454.6" width="2.5" height="3.2" fill="rgb(230,143,27)"/><rect x="242.1" y="467.1" width="2.2" height="2.9" fill="rgb(126,40,5)"/><rect x="292.4" y="472.9" width="2.6" height="2.7" fill="rgb(255,199,30)"/><rect x="235.1" y="458.9" width="2.6" height="2.5" fill="rgb(121,44,4)"/><rect x="279.4" y="470.0" width="2.8" height="2.9" fill="rgb(255,196,30)"/><rect x="211.6" y="437.1" width="2.9" height="2.4" fill="rgb(202,63,8)"/><rect x="225.1" y="460.9" width="2.8" height="2.6" fill="rgb(137,73,5)"/><rect x="199.8" y="515.0" width="1.9" height="2.2" fill="rgb(225,102,9)"/><rect x="260.0" y="476.0" width="2.8" height="3.0" fill="rgb(171,63,6)"/><rect x="224.4" y="429.9" width="1.8" height="2.9" fill="rgb(186,39,7)"/><rect x="314.9" y="451.5" width="2.3" height="2.3" fill="rgb(214,65,8)"/><rect x="225.2" y="486.9" width="2.8" height="2.5" fill="rgb(182,42,7)"/><rect x="317.5" y="489.2" width="2.5" height="2.8" fill="rgb(187,77,7)"/><rect x="224.3" y="519.5" width="2.1" height="2.4" fill="rgb(235,78,9)"/><rect x="303.2" y="481.8" width="2.5" height="1.9" fill="rgb(138,74,5)"/><rect x="273.2" y="495.8" width="2.0" height="2.7" fill="rgb(230,103,9)"/><rect x="268.6" y="410.4" width="3.2" height="2.2" fill="rgb(165,73,6)"/><rect x="227.7" y="485.9" width="2.9" height="2.4" fill="rgb(169,84,6)"/><rect x="241.1" y="486.1" width="2.8" height="2.1" fill="rgb(189,69,7)"/><rect x="310.1" y="453.5" width="2.6" height="2.7" fill="rgb(255,206,30)"/><rect x="235.8" y="414.9" width="2.9" height="1.8" fill="rgb(180,48,7)"/><rect x="317.1" y="511.2" width="2.3" height="2.4" fill="rgb(122,64,4)"/><rect x="310.9" y="414.8" width="1.9" height="2.4" fill="rgb(255,194,30)"/><rect x="294.4" y="468.7" width="2.2" height="2.1" fill="rgb(255,163,30)"/><rect x="221.3" y="421.0" width="2.8" height="2.2" fill="rgb(134,31,5)"/><rect x="304.9" y="471.5" width="2.8" height="1.9" fill="rgb(255,82,10)"/><rect x="316.2" y="489.4" width="2.8" height="2.1" fill="rgb(232,59,9)"/><rect x="320.4" y="445.4" width="2.9" height="1.9" fill="rgb(255,175,30)"/><rect x="297.3" y="452.4" width="3.0" height="2.8" fill="rgb(255,172,30)"/><rect x="202.5" y="417.3" width="2.5" height="2.2" fill="rgb(123,36,4)"/><rect x="330.4" y="416.9" width="2.5" height="2.7" fill="rgb(219,104,8)"/><rect x="208.4" y="440.2" width="3.1" height="3.1" fill="rgb(255,189,30)"/><rect x="214.4" y="520.6" width="2.5" height="3.2" fill="rgb(171,82,6)"/><rect x="204.2" y="503.2" width="2.9" height="3.1" fill="rgb(214,140,25)"/><rect x="297.5" y="482.4" width="1.9" height="2.0" fill="rgb(207,68,8)"/><rect x="222.7" y="511.2" width="2.0" height="2.7" fill="rgb(230,122,9)"/><rect x="202.2" y="473.0" width="2.7" height="3.0" fill="rgb(240,105,9)"/><rect x="261.3" y="508.7" width="2.9" height="3.1" fill="rgb(205,57,8)"/><rect x="194.4" y="458.3" width="2.2" height="2.5" fill="rgb(201,97,8)"/><rect x="300.1" y="517.8" width="1.9" height="1.9" fill="rgb(188,153,22)"/><rect x="241.3" y="409.1" width="2.5" height="2.4" fill="rgb(255,162,30)"/><rect x="300.8" y="505.7" width="2.3" height="2.1" fill="rgb(111,24,4)"/><rect x="211.3" y="416.9" width="3.0" height="2.3" fill="rgb(215,68,8)"/><rect x="208.0" y="423.6" width="2.3" height="2.8" fill="rgb(156,67,6)"/><rect x="252.9" y="414.7" width="2.0" height="2.7" fill="rgb(255,103,10)"/><rect x="267.1" y="488.3" width="2.9" height="2.7" fill="rgb(116,61,4)"/><rect x="215.0" y="479.1" width="2.2" height="1.9" fill="rgb(199,102,7)"/><rect x="257.9" y="510.5" width="3.0" height="3.1" fill="rgb(202,68,8)"/><rect x="254.3" y="463.0" width="2.3" height="3.0" fill="rgb(182,93,7)"/><rect x="262.0" y="486.2" width="3.2" height="1.9" fill="rgb(206,53,8)"/><rect x="217.2" y="420.6" width="2.0" height="1.9" fill="rgb(198,107,7)"/><rect x="186.7" y="442.8" width="2.2" height="2.2" fill="rgb(217,82,8)"/><rect x="297.7" y="408.1" width="2.5" height="2.7" fill="rgb(228,70,9)"/><rect x="229.7" y="429.8" width="2.5" height="1.9" fill="rgb(255,171,30)"/><rect x="191.5" y="506.4" width="3.0" height="2.8" fill="rgb(216,115,8)"/><rect x="241.5" y="490.6" width="1.8" height="2.9" fill="rgb(154,41,6)"/><rect x="304.8" y="503.1" width="2.2" height="2.4" fill="rgb(164,67,6)"/><rect x="201.9" y="500.8" width="2.8" height="1.9" fill="rgb(203,90,8)"/><rect x="337.0" y="519.9" width="2.9" height="2.8" fill="rgb(174,35,6)"/><rect x="217.9" y="415.6" width="2.6" height="2.8" fill="rgb(162,50,6)"/><rect x="213.0" y="473.5" width="3.1" height="2.4" fill="rgb(128,46,5)"/><rect x="246.9" y="457.9" width="1.8" height="2.7" fill="rgb(209,63,8)"/><rect x="208.3" y="425.2" width="3.1" height="2.2" fill="rgb(154,43,6)"/><rect x="326.2" y="439.5" width="1.8" height="2.7" fill="rgb(138,46,5)"/><rect x="306.1" y="453.4" width="2.7" height="3.2" fill="rgb(250,74,10)"/><rect x="230.0" y="502.3" width="2.8" height="2.5" fill="rgb(121,46,4)"/><rect x="294.3" y="419.9" width="2.9" height="2.5" fill="rgb(255,112,10)"/><rect x="318.4" y="489.3" width="3.1" height="2.3" fill="rgb(142,64,5)"/><rect x="234.5" y="484.4" width="2.5" height="2.5" fill="rgb(235,53,9)"/><rect x="216.0" y="480.6" width="2.0" height="3.1" fill="rgb(184,76,7)"/><rect x="238.9" y="446.0" width="2.9" height="2.8" fill="rgb(255,139,10)"/><rect x="333.8" y="486.6" width="2.5" height="3.2" fill="rgb(117,43,4)"/><rect x="336.6" y="489.3" width="2.5" height="2.1" fill="rgb(255,184,30)"/><rect x="327.3" y="411.2" width="1.8" height="2.4" fill="rgb(255,81,10)"/><rect x="200.7" y="515.5" width="2.5" height="2.6" fill="rgb(178,80,7)"/><rect x="217.8" y="517.1" width="3.1" height="2.1" fill="rgb(225,110,9)"/><rect x="304.7" y="453.4" width="2.2" height="2.5" fill="rgb(170,64,6)"/><rect x="247.2" y="473.7" width="2.3" height="2.1" fill="rgb(210,62,8)"/><rect x="332.0" y="518.9" width="2.0" height="2.7" fill="rgb(139,52,5)"/><rect x="285.8" y="432.0" width="2.0" height="2.8" fill="rgb(184,97,7)"/><rect x="319.0" y="491.7" width="3.2" height="2.4" fill="rgb(241,64,9)"/><rect x="290.8" y="468.1" width="1.9" height="3.0" fill="rgb(255,162,30)"/><rect x="196.5" y="450.0" width="2.9" height="2.8" fill="rgb(126,54,5)"/><rect x="303.5" y="429.6" width="3.0" height="2.6" fill="rgb(210,73,8)"/><rect x="233.4" y="512.2" width="3.0" height="1.9" fill="rgb(116,54,4)"/><rect x="279.8" y="443.3" width="2.5" height="2.2" fill="rgb(255,185,30)"/><rect x="228.3" y="491.2" width="2.7" height="2.6" fill="rgb(185,66,7)"/><rect x="290.1" y="513.6" width="2.6" height="2.0" fill="rgb(239,88,9)"/><rect x="225.8" y="428.0" width="2.8" height="2.9" fill="rgb(161,36,6)"/><rect x="219.9" y="426.1" width="2.8" height="3.1" fill="rgb(151,36,6)"/><rect x="225.2" y="433.9" width="1.9" height="2.4" fill="rgb(187,50,7)"/><rect x="247.0" y="422.2" width="2.2" height="2.0" fill="rgb(255,196,30)"/><rect x="243.8" y="452.7" width="2.2" height="2.1" fill="rgb(195,70,7)"/><rect x="277.3" y="503.8" width="2.3" height="2.7" fill="rgb(221,96,8)"/><rect x="194.9" y="494.4" width="2.0" height="3.0" fill="rgb(164,83,6)"/><rect x="332.5" y="433.8" width="2.7" height="2.2" fill="rgb(245,52,9)"/><rect x="258.9" y="427.8" width="2.4" height="2.0" fill="rgb(202,59,8)"/><rect x="242.0" y="430.9" width="2.7" height="2.7" fill="rgb(195,74,7)"/><rect x="187.6" y="463.2" width="2.8" height="2.3" fill="rgb(241,102,9)"/><rect x="189.8" y="434.7" width="2.2" height="1.8" fill="rgb(233,85,9)"/><rect x="269.8" y="417.1" width="2.1" height="1.9" fill="rgb(255,61,10)"/><rect x="209.9" y="440.9" width="3.1" height="2.4" fill="rgb(160,34,6)"/><rect x="338.4" y="428.9" width="2.8" height="2.2" fill="rgb(248,83,9)"/><rect x="293.9" y="427.5" width="2.2" height="2.8" fill="rgb(255,76,10)"/><rect x="235.7" y="475.7" width="3.0" height="2.5" fill="rgb(162,67,6)"/><rect x="273.6" y="498.9" width="2.7" height="2.8" fill="rgb(222,78,8)"/><rect x="216.2" y="421.6" width="1.8" height="2.8" fill="rgb(190,86,7)"/><rect x="191.8" y="410.1" width="2.6" height="3.0" fill="rgb(131,31,5)"/><rect x="279.8" y="430.6" width="3.1" height="2.7" fill="rgb(255,87,10)"/><rect x="185.4" y="411.7" width="3.0" height="2.8" fill="rgb(130,34,5)"/><rect x="328.8" y="480.8" width="2.3" height="2.3" fill="rgb(176,37,7)"/><rect x="305.4" y="455.5" width="2.4" height="2.5" fill="rgb(223,147,26)"/><rect x="185.1" y="517.7" width="3.2" height="2.0" fill="rgb(188,77,7)"/><rect x="196.1" y="436.9" width="1.9" height="2.8" fill="rgb(186,72,7)"/><rect x="330.9" y="483.4" width="2.7" height="2.2" fill="rgb(135,56,5)"/><rect x="270.1" y="457.1" width="3.1" height="2.4" fill="rgb(255,199,30)"/><rect x="225.0" y="436.6" width="2.0" height="2.4" fill="rgb(152,58,6)"/><rect x="220.5" y="432.9" width="2.1" height="1.8" fill="rgb(157,55,6)"/><rect x="215.0" y="475.8" width="2.7" height="1.9" fill="rgb(193,59,7)"/><rect x="279.1" y="466.4" width="2.5" height="2.3" fill="rgb(183,45,7)"/><rect x="213.2" y="455.2" width="2.9" height="2.8" fill="rgb(229,86,9)"/><rect x="259.7" y="433.1" width="2.6" height="2.5" fill="rgb(184,43,7)"/><rect x="288.7" y="411.6" width="2.2" height="2.8" fill="rgb(255,100,10)"/><rect x="217.0" y="513.8" width="3.2" height="2.1" fill="rgb(134,40,5)"/><rect x="276.4" y="417.0" width="1.9" height="2.2" fill="rgb(255,113,10)"/><rect x="205.8" y="454.4" width="2.3" height="2.5" fill="rgb(223,51,8)"/><rect x="218.1" y="459.1" width="2.8" height="2.8" fill="rgb(216,73,8)"/><rect x="253.6" y="504.6" width="2.1" height="2.8" fill="rgb(209,83,8)"/><rect x="300.4" y="477.3" width="2.2" height="2.5" fill="rgb(235,104,9)"/><rect x="326.2" y="511.1" width="1.9" height="3.1" fill="rgb(255,184,30)"/><rect x="285.9" y="492.1" width="2.9" height="2.1" fill="rgb(188,72,7)"/><rect x="301.8" y="422.4" width="2.3" height="2.5" fill="rgb(181,39,7)"/><rect x="266.2" y="509.4" width="2.6" height="2.9" fill="rgb(214,110,8)"/><rect x="200.1" y="454.6" width="1.9" height="2.2" fill="rgb(154,79,6)"/><rect x="203.0" y="493.3" width="2.1" height="2.6" fill="rgb(175,70,7)"/><rect x="279.1" y="500.9" width="1.9" height="2.9" fill="rgb(138,50,5)"/><rect x="216.3" y="490.3" width="1.9" height="2.2" fill="rgb(142,75,5)"/><rect x="298.9" y="436.8" width="3.0" height="2.7" fill="rgb(240,187,28)"/><rect x="213.1" y="462.0" width="2.1" height="1.8" fill="rgb(115,52,4)"/><rect x="288.1" y="497.4" width="2.8" height="2.1" fill="rgb(255,210,30)"/><rect x="192.4" y="503.4" width="2.6" height="2.0" fill="rgb(115,37,4)"/><rect x="269.6" y="490.8" width="2.3" height="3.1" fill="rgb(161,66,6)"/><rect x="231.3" y="427.9" width="2.6" height="2.2" fill="rgb(175,39,7)"/><rect x="327.9" y="423.4" width="3.1" height="2.8" fill="rgb(155,71,6)"/><rect x="326.1" y="463.9" width="2.9" height="1.9" fill="rgb(255,95,10)"/><rect x="294.2" y="463.3" width="2.8" height="1.8" fill="rgb(255,53,10)"/><rect x="278.9" y="508.1" width="2.1" height="3.1" fill="rgb(180,82,7)"/><rect x="189.0" y="510.1" width="2.6" height="2.2" fill="rgb(114,39,4)"/><rect x="298.6" y="517.3" width="2.9" height="1.9" fill="rgb(129,32,5)"/><rect x="235.8" y="432.5" width="2.9" height="2.0" fill="rgb(207,105,8)"/><rect x="334.6" y="506.9" width="2.1" height="2.2" fill="rgb(207,63,8)"/><rect x="338.2" y="498.7" width="2.5" height="2.2" fill="rgb(131,56,5)"/><rect x="205.2" y="437.1" width="2.7" height="2.9" fill="rgb(151,46,6)"/><rect x="274.2" y="445.0" width="2.1" height="2.7" fill="rgb(227,192,27)"/><rect x="239.0" y="418.8" width="2.7" height="3.1" fill="rgb(198,42,7)"/><rect x="241.8" y="458.8" width="2.5" height="2.9" fill="rgb(255,127,10)"/><rect x="235.1" y="427.2" width="3.1" height="1.9" fill="rgb(148,43,5)"/><rect x="301.7" y="440.8" width="2.7" height="3.0" fill="rgb(202,81,8)"/><rect x="194.7" y="446.5" width="3.0" height="2.6" fill="rgb(122,53,4)"/><rect x="195.4" y="462.5" width="1.9" height="3.1" fill="rgb(221,110,8)"/><rect x="261.0" y="480.8" width="2.6" height="3.0" fill="rgb(151,68,6)"/><rect x="243.0" y="447.0" width="2.6" height="2.7" fill="rgb(248,196,29)"/><rect x="307.1" y="457.3" width="3.1" height="2.9" fill="rgb(215,62,8)"/><rect x="227.6" y="434.6" width="2.1" height="2.5" fill="rgb(223,78,8)"/><rect x="206.7" y="443.3" width="2.2" height="3.0" fill="rgb(121,50,4)"/><rect x="334.0" y="515.0" width="2.0" height="2.4" fill="rgb(144,65,5)"/><rect x="322.8" y="477.6" width="3.1" height="2.9" fill="rgb(208,152,24)"/><rect x="333.8" y="440.5" width="3.1" height="2.8" fill="rgb(172,61,6)"/><rect x="233.1" y="516.2" width="2.6" height="2.0" fill="rgb(114,59,4)"/><rect x="216.5" y="413.9" width="2.5" height="3.0" fill="rgb(176,86,7)"/><rect x="236.0" y="461.1" width="2.7" height="2.1" fill="rgb(242,155,29)"/><rect x="317.1" y="496.1" width="2.0" height="2.8" fill="rgb(141,63,5)"/><rect x="190.9" y="408.6" width="2.0" height="3.0" fill="rgb(189,79,7)"/><rect x="245.6" y="497.5" width="2.4" height="2.5" fill="rgb(226,60,9)"/><rect x="336.1" y="457.7" width="3.1" height="3.0" fill="rgb(164,83,6)"/><rect x="232.1" y="451.6" width="2.3" height="2.6" fill="rgb(142,71,5)"/><rect x="190.0" y="412.8" width="2.0" height="3.2" fill="rgb(188,61,7)"/><rect x="309.0" y="505.0" width="3.1" height="2.5" fill="rgb(154,38,6)"/><rect x="218.2" y="511.1" width="2.0" height="2.0" fill="rgb(227,109,9)"/><rect x="216.5" y="483.4" width="2.1" height="2.9" fill="rgb(169,78,6)"/><rect x="297.3" y="441.7" width="1.9" height="1.8" fill="rgb(205,142,24)"/><rect x="296.8" y="408.1" width="2.6" height="3.0" fill="rgb(255,177,30)"/><rect x="216.0" y="434.5" width="2.9" height="2.0" fill="rgb(240,57,9)"/><rect x="252.5" y="485.8" width="2.0" height="2.7" fill="rgb(147,31,5)"/><rect x="337.3" y="480.9" width="2.3" height="2.7" fill="rgb(195,64,7)"/></g></g>
<g><rect x="22.1" y="530.2" width="158.5" height="117" fill="#030000"/><g filter="url(#blurd)"><rect x="59.9" y="592.7" width="1.5" height="1.4" fill="rgb(83,34,3)"/><rect x="152.5" y="560.5" width="2.1" height="1.8" fill="rgb(73,26,2)"/><rect x="121.8" y="548.2" width="2.0" height="1.9" fill="rgb(101,38,4)"/><rect x="33.0" y="616.9" width="2.1" height="1.8" fill="rgb(98,20,3)"/><rect x="134.2" y="630.5" width="2.0" height="1.8" fill="rgb(107,36,4)"/><rect x="167.6" y="630.5" width="2.2" height="1.7" fill="rgb(64,17,2)"/><rect x="119.9" y="565.2" width="1.9" height="1.9" fill="rgb(92,29,3)"/><rect x="162.8" y="608.3" width="1.9" height="1.5" fill="rgb(122,66,4)"/><rect x="156.1" y="640.2" width="1.6" height="2.1" fill="rgb(120,53,4)"/><rect x="111.7" y="563.4" width="1.5" height="2.0" fill="rgb(61,33,2)"/><rect x="86.5" y="548.2" width="1.4" height="1.9" fill="rgb(77,38,3)"/><rect x="30.0" y="612.4" width="1.8" height="2.2" fill="rgb(80,43,3)"/><rect x="70.9" y="539.9" width="1.7" height="1.9" fill="rgb(99,26,3)"/><rect x="47.2" y="536.0" width="2.1" height="1.7" fill="rgb(118,63,4)"/><rect x="94.2" y="590.0" width="1.9" height="2.2" fill="rgb(102,40,4)"/><rect x="101.4" y="579.9" width="2.2" height="1.8" fill="rgb(107,32,4)"/><rect x="107.8" y="532.5" width="1.9" height="1.9" fill="rgb(86,17,3)"/><rect x="32.4" y="602.1" width="2.0" height="2.0" fill="rgb(90,29,3)"/><rect x="26.5" y="538.0" width="1.8" height="1.9" fill="rgb(104,29,4)"/><rect x="72.5" y="572.3" width="1.6" height="1.7" fill="rgb(79,32,3)"/><rect x="142.4" y="534.2" width="1.6" height="2.0" fill="rgb(97,29,3)"/><rect x="60.0" y="552.4" width="1.7" height="1.7" fill="rgb(87,20,3)"/><rect x="151.9" y="580.7" width="1.9" height="2.1" fill="rgb(117,37,4)"/><rect x="92.8" y="556.6" width="2.0" height="2.1" fill="rgb(65,17,2)"/><rect x="51.5" y="562.7" width="1.7" height="1.5" fill="rgb(113,54,4)"/><rect x="68.2" y="620.9" width="1.7" height="1.7" fill="rgb(76,26,3)"/><rect x="165.3" y="548.8" width="2.2" height="1.7" fill="rgb(57,28,2)"/><rect x="169.9" y="636.0" width="1.9" height="1.8" fill="rgb(72,35,2)"/><rect x="67.8" y="569.7" width="1.6" height="2.0" fill="rgb(73,29,2)"/><rect x="30.1" y="633.3" width="2.1" height="1.9" fill="rgb(106,54,4)"/><rect x="25.1" y="615.4" width="1.8" height="1.7" fill="rgb(69,29,2)"/><rect x="168.2" y="600.4" width="1.8" height="2.0" fill="rgb(81,40,3)"/><rect x="77.5" y="553.5" width="2.0" height="2.1" fill="rgb(94,24,3)"/><rect x="147.6" y="624.3" width="1.4" height="1.6" fill="rgb(57,28,2)"/><rect x="64.6" y="590.8" width="1.4" height="1.4" fill="rgb(87,41,3)"/><rect x="42.7" y="545.3" width="1.5" height="1.8" fill="rgb(62,30,2)"/><rect x="71.9" y="566.7" width="1.7" height="1.6" fill="rgb(82,33,3)"/><rect x="73.9" y="545.2" width="1.5" height="1.5" fill="rgb(96,31,3)"/><rect x="80.8" y="599.5" width="1.9" height="1.7" fill="rgb(112,53,4)"/><rect x="80.6" y="587.3" width="1.8" height="1.6" fill="rgb(106,46,4)"/><rect x="105.9" y="609.8" width="2.1" height="2.1" fill="rgb(62,21,2)"/><rect x="80.9" y="632.7" width="1.5" height="2.1" fill="rgb(112,40,4)"/><rect x="125.4" y="631.5" width="1.9" height="1.5" fill="rgb(112,51,4)"/><rect x="113.9" y="531.8" width="1.5" height="1.5" fill="rgb(67,14,2)"/><rect x="159.1" y="551.4" width="2.1" height="1.9" fill="rgb(59,14,2)"/><rect x="152.3" y="638.8" width="2.0" height="1.8" fill="rgb(97,20,3)"/><rect x="133.6" y="543.3" width="1.7" height="1.9" fill="rgb(109,24,4)"/><rect x="151.0" y="558.6" width="2.0" height="1.7" fill="rgb(69,28,2)"/><rect x="79.9" y="576.0" width="1.8" height="2.2" fill="rgb(81,18,3)"/><rect x="86.9" y="615.7" width="1.9" height="1.8" fill="rgb(68,31,2)"/><rect x="97.8" y="603.9" width="2.0" height="2.1" fill="rgb(120,28,4)"/><rect x="103.0" y="581.3" width="1.6" height="1.9" fill="rgb(107,31,4)"/><rect x="71.7" y="557.5" width="2.0" height="1.7" fill="rgb(105,31,4)"/><rect x="155.0" y="597.3" width="1.8" height="1.7" fill="rgb(76,15,3)"/><rect x="49.7" y="571.9" width="2.2" height="1.8" fill="rgb(79,19,3)"/><rect x="115.6" y="584.1" width="1.8" height="2.0" fill="rgb(115,45,4)"/><rect x="155.5" y="576.4" width="1.6" height="1.6" fill="rgb(108,39,4)"/><rect x="134.0" y="607.5" width="1.6" height="1.6" fill="rgb(124,35,4)"/><rect x="52.0" y="610.8" width="2.1" height="1.7" fill="rgb(117,33,4)"/><rect x="88.5" y="613.6" width="1.6" height="1.7" fill="rgb(63,30,2)"/><rect x="112.8" y="607.5" width="1.8" height="1.6" fill="rgb(57,20,2)"/><rect x="113.5" y="639.2" width="1.6" height="1.9" fill="rgb(84,20,3)"/><rect x="40.5" y="631.5" width="1.7" height="2.0" fill="rgb(121,64,4)"/><rect x="140.1" y="564.6" width="1.6" height="2.0" fill="rgb(104,50,4)"/><rect x="171.6" y="607.2" width="1.7" height="2.0" fill="rgb(94,35,3)"/><rect x="127.9" y="595.2" width="1.5" height="2.1" fill="rgb(70,29,2)"/><rect x="124.4" y="545.1" width="2.0" height="1.9" fill="rgb(122,38,4)"/><rect x="108.8" y="604.4" width="1.5" height="2.0" fill="rgb(89,23,3)"/><rect x="139.7" y="592.6" width="1.7" height="2.1" fill="rgb(109,31,4)"/><rect x="29.6" y="588.2" width="1.7" height="1.7" fill="rgb(74,23,2)"/><rect x="106.8" y="618.4" width="1.6" height="1.5" fill="rgb(82,19,3)"/><rect x="40.5" y="619.2" width="1.7" height="2.0" fill="rgb(108,28,4)"/><rect x="149.1" y="615.8" width="1.6" height="1.8" fill="rgb(98,33,3)"/><rect x="110.9" y="554.0" width="2.0" height="2.1" fill="rgb(74,15,2)"/><rect x="169.8" y="574.5" width="2.2" height="1.9" fill="rgb(96,40,3)"/><rect x="69.4" y="628.4" width="1.4" height="2.0" fill="rgb(91,41,3)"/><rect x="125.4" y="586.8" width="1.8" height="1.4" fill="rgb(94,25,3)"/><rect x="100.4" y="604.2" width="2.1" height="1.5" fill="rgb(88,47,3)"/><rect x="145.5" y="601.6" width="1.5" height="1.8" fill="rgb(60,16,2)"/><rect x="166.8" y="567.7" width="2.1" height="1.9" fill="rgb(118,29,4)"/><rect x="166.3" y="612.1" width="2.1" height="2.1" fill="rgb(109,52,4)"/><rect x="90.6" y="616.7" width="1.5" height="1.6" fill="rgb(91,19,3)"/><rect x="47.9" y="587.4" width="1.9" height="1.6" fill="rgb(106,36,4)"/><rect x="94.9" y="616.8" width="2.0" height="1.7" fill="rgb(85,43,3)"/><rect x="80.4" y="591.0" width="1.6" height="2.0" fill="rgb(99,19,3)"/><rect x="45.3" y="583.2" width="1.7" height="1.5" fill="rgb(71,18,2)"/><rect x="27.3" y="543.6" width="1.4" height="1.8" fill="rgb(69,15,2)"/><rect x="86.1" y="610.7" width="1.4" height="2.2" fill="rgb(60,20,2)"/><rect x="56.9" y="541.9" width="1.7" height="1.5" fill="rgb(90,37,3)"/><rect x="31.1" y="613.4" width="2.1" height="1.6" fill="rgb(76,27,3)"/></g></g>
<g><rect x="183.9" y="530.2" width="158.5" height="117" fill="#030000"/><g filter="url(#blurd)"><rect x="221.4" y="542.9" width="2.1" height="2.7" fill="rgb(161,35,6)"/><rect x="308.6" y="617.7" width="1.8" height="1.7" fill="rgb(138,40,5)"/><rect x="218.0" y="636.0" width="1.8" height="2.0" fill="rgb(219,105,8)"/><rect x="281.8" y="613.9" width="2.3" height="2.4" fill="rgb(222,51,8)"/><rect x="263.1" y="551.3" width="2.6" height="2.3" fill="rgb(255,212,30)"/><rect x="231.3" y="633.9" width="2.2" height="2.1" fill="rgb(185,91,7)"/><rect x="277.4" y="579.9" width="1.7" height="1.7" fill="rgb(226,182,27)"/><rect x="281.7" y="562.9" width="2.8" height="1.8" fill="rgb(255,178,30)"/><rect x="248.7" y="554.1" width="2.5" height="2.0" fill="rgb(241,78,9)"/><rect x="271.2" y="633.4" width="2.5" height="2.3" fill="rgb(122,34,4)"/><rect x="221.6" y="568.6" width="2.4" height="2.7" fill="rgb(132,28,5)"/><rect x="332.4" y="614.2" width="2.8" height="2.5" fill="rgb(255,175,30)"/><rect x="248.3" y="637.8" width="1.8" height="2.1" fill="rgb(191,57,7)"/><rect x="206.0" y="574.3" width="1.7" height="1.8" fill="rgb(237,48,9)"/><rect x="306.0" y="572.2" width="2.1" height="1.8" fill="rgb(248,209,29)"/><rect x="194.1" y="537.4" width="1.6" height="2.2" fill="rgb(131,33,5)"/><rect x="223.4" y="643.9" width="2.1" height="2.8" fill="rgb(125,58,5)"/><rect x="258.7" y="558.5" width="1.9" height="2.7" fill="rgb(255,182,30)"/><rect x="313.3" y="587.5" width="1.8" height="1.9" fill="rgb(113,32,4)"/><rect x="319.3" y="547.2" width="2.8" height="2.1" fill="rgb(115,45,4)"/><rect x="324.1" y="605.1" width="1.7" height="1.9" fill="rgb(214,79,8)"/><rect x="319.9" y="632.9" width="2.6" height="2.4" fill="rgb(232,99,9)"/><rect x="310.8" y="590.9" width="2.7" height="2.7" fill="rgb(196,57,7)"/><rect x="196.4" y="640.9" width="2.7" height="1.8" fill="rgb(237,51,9)"/><rect x="334.5" y="606.6" width="2.3" height="2.5" fill="rgb(117,49,4)"/><rect x="328.2" y="555.9" width="2.7" height="1.7" fill="rgb(109,22,4)"/><rect x="310.0" y="619.7" width="1.8" height="2.4" fill="rgb(225,114,9)"/><rect x="236.0" y="632.0" width="1.6" height="1.6" fill="rgb(212,81,8)"/><rect x="276.7" y="586.4" width="2.0" height="2.5" fill="rgb(255,63,10)"/><rect x="265.7" y="532.4" width="2.3" height="2.1" fill="rgb(220,50,8)"/><rect x="306.6" y="566.4" width="1.7" height="1.7" fill="rgb(175,94,7)"/><rect x="280.8" y="631.2" width="2.5" height="1.7" fill="rgb(177,88,7)"/><rect x="321.1" y="553.3" width="2.6" height="1.8" fill="rgb(149,51,5)"/><rect x="320.0" y="551.1" width="2.3" height="2.7" fill="rgb(128,40,5)"/><rect x="294.7" y="531.8" width="2.5" height="2.2" fill="rgb(150,55,6)"/><rect x="196.6" y="558.9" width="2.8" height="2.4" fill="rgb(221,103,8)"/><rect x="289.5" y="600.1" width="2.7" height="2.0" fill="rgb(150,54,6)"/><rect x="318.9" y="620.1" width="2.5" height="2.0" fill="rgb(190,47,7)"/><rect x="287.2" y="546.3" width="1.8" height="2.7" fill="rgb(213,171,25)"/><rect x="242.4" y="596.3" width="2.1" height="2.7" fill="rgb(155,36,6)"/><rect x="212.7" y="605.1" width="1.6" height="2.7" fill="rgb(152,31,6)"/><rect x="313.1" y="621.7" width="2.3" height="2.2" fill="rgb(216,55,8)"/><rect x="273.6" y="637.2" width="2.4" height="2.4" fill="rgb(210,50,8)"/><rect x="300.0" y="601.0" width="2.1" height="2.3" fill="rgb(219,114,8)"/><rect x="323.5" y="610.7" width="2.4" height="2.8" fill="rgb(150,47,6)"/><rect x="323.8" y="576.4" width="2.1" height="1.6" fill="rgb(162,48,6)"/><rect x="213.3" y="592.2" width="2.7" height="2.3" fill="rgb(201,65,8)"/><rect x="209.0" y="538.9" width="2.3" height="2.0" fill="rgb(238,124,9)"/><rect x="199.0" y="560.3" width="2.5" height="1.8" fill="rgb(138,70,5)"/><rect x="221.7" y="565.0" width="2.4" height="2.3" fill="rgb(235,112,9)"/><rect x="333.1" y="560.8" width="1.6" height="2.0" fill="rgb(178,41,7)"/><rect x="203.7" y="538.1" width="2.4" height="2.5" fill="rgb(241,123,9)"/><rect x="286.1" y="638.8" width="2.4" height="2.5" fill="rgb(226,89,9)"/><rect x="270.2" y="588.0" width="1.7" height="1.8" fill="rgb(161,59,6)"/><rect x="320.1" y="560.1" width="2.0" height="2.1" fill="rgb(201,100,8)"/><rect x="250.3" y="534.4" width="1.8" height="1.8" fill="rgb(255,214,30)"/><rect x="316.0" y="624.2" width="2.5" height="1.8" fill="rgb(139,50,5)"/><rect x="312.4" y="643.8" width="2.1" height="2.6" fill="rgb(203,107,8)"/><rect x="313.7" y="597.6" width="2.0" height="2.4" fill="rgb(123,63,4)"/><rect x="323.5" y="599.0" width="2.6" height="2.4" fill="rgb(113,32,4)"/><rect x="232.4" y="632.4" width="2.7" height="2.7" fill="rgb(192,94,7)"/><rect x="321.4" y="605.6" width="2.8" height="2.0" fill="rgb(202,77,8)"/><rect x="197.5" y="611.8" width="1.9" height="1.8" fill="rgb(175,71,7)"/><rect x="195.9" y="619.5" width="2.8" height="2.6" fill="rgb(230,55,9)"/><rect x="263.6" y="531.3" width="1.6" height="2.5" fill="rgb(221,92,8)"/><rect x="190.2" y="585.2" width="2.5" height="2.6" fill="rgb(128,65,5)"/><rect x="231.0" y="575.1" width="2.8" height="2.5" fill="rgb(189,65,7)"/><rect x="318.2" y="565.0" width="2.1" height="1.8" fill="rgb(251,112,10)"/><rect x="187.7" y="631.4" width="2.1" height="2.4" fill="rgb(233,108,9)"/><rect x="315.0" y="567.5" width="1.6" height="1.9" fill="rgb(239,90,9)"/><rect x="229.3" y="634.5" width="2.8" height="1.8" fill="rgb(126,29,5)"/><rect x="199.1" y="555.1" width="2.2" height="1.7" fill="rgb(233,119,9)"/><rect x="237.5" y="582.7" width="2.6" height="1.7" fill="rgb(240,68,9)"/><rect x="335.0" y="564.7" width="1.7" height="2.6" fill="rgb(184,95,7)"/><rect x="212.6" y="612.4" width="1.8" height="1.6" fill="rgb(112,29,4)"/><rect x="235.0" y="568.3" width="2.8" height="1.8" fill="rgb(255,83,10)"/><rect x="218.1" y="639.2" width="1.7" height="2.7" fill="rgb(235,127,9)"/><rect x="293.7" y="606.7" width="1.8" height="2.2" fill="rgb(221,59,8)"/><rect x="269.3" y="592.3" width="2.5" height="1.6" fill="rgb(196,96,7)"/><rect x="208.5" y="556.0" width="2.3" height="2.0" fill="rgb(140,37,5)"/><rect x="241.1" y="611.2" width="2.8" height="1.9" fill="rgb(234,75,9)"/><rect x="189.1" y="552.8" width="2.2" height="1.6" fill="rgb(218,115,8)"/><rect x="232.2" y="612.5" width="2.2" height="2.0" fill="rgb(161,53,6)"/><rect x="253.9" y="546.6" width="2.1" height="1.7" fill="rgb(141,64,5)"/><rect x="230.6" y="594.3" width="2.2" height="1.8" fill="rgb(228,123,9)"/><rect x="279.9" y="599.0" width="2.1" height="2.6" fill="rgb(188,39,7)"/><rect x="206.3" y="536.0" width="2.0" height="2.4" fill="rgb(133,46,5)"/><rect x="211.2" y="570.2" width="2.7" height="1.9" fill="rgb(199,106,7)"/><rect x="236.7" y="592.0" width="1.8" height="2.2" fill="rgb(181,90,7)"/><rect x="203.4" y="631.0" width="2.5" height="2.3" fill="rgb(188,47,7)"/><rect x="192.8" y="623.9" width="2.5" height="2.3" fill="rgb(225,119,9)"/><rect x="268.9" y="560.9" width="1.9" height="2.2" fill="rgb(209,171,25)"/><rect x="228.5" y="609.3" width="2.1" height="1.6" fill="rgb(236,70,9)"/><rect x="266.7" y="627.7" width="1.7" height="2.1" fill="rgb(221,77,8)"/><rect x="325.9" y="563.2" width="1.8" height="2.7" fill="rgb(221,107,8)"/><rect x="327.5" y="644.0" width="2.2" height="2.1" fill="rgb(174,119,20)"/><rect x="199.2" y="603.6" width="2.3" height="2.4" fill="rgb(197,74,7)"/><rect x="194.9" y="580.5" width="2.0" height="2.0" fill="rgb(127,59,5)"/><rect x="227.7" y="597.6" width="2.7" height="1.8" fill="rgb(124,27,4)"/><rect x="303.5" y="592.8" width="2.5" height="2.2" fill="rgb(165,53,6)"/><rect x="267.8" y="559.2" width="2.4" height="2.3" fill="rgb(255,186,30)"/><rect x="274.6" y="595.6" width="2.5" height="2.7" fill="rgb(168,73,6)"/><rect x="254.7" y="568.8" width="2.0" height="1.9" fill="rgb(250,172,30)"/><rect x="259.7" y="564.2" width="2.6" height="2.6" fill="rgb(197,61,7)"/><rect x="235.7" y="625.5" width="1.6" height="1.6" fill="rgb(132,72,5)"/><rect x="318.9" y="531.5" width="1.9" height="2.8" fill="rgb(196,54,7)"/><rect x="245.7" y="558.5" width="1.7" height="2.5" fill="rgb(209,63,8)"/><rect x="199.8" y="537.5" width="2.5" height="2.3" fill="rgb(109,38,4)"/><rect x="335.5" y="570.0" width="2.0" height="2.5" fill="rgb(155,31,6)"/><rect x="273.4" y="586.6" width="2.1" height="1.7" fill="rgb(255,116,10)"/><rect x="244.8" y="555.0" width="2.1" height="2.5" fill="rgb(140,34,5)"/><rect x="302.0" y="631.0" width="2.1" height="2.7" fill="rgb(151,77,6)"/><rect x="200.8" y="635.3" width="2.5" height="2.1" fill="rgb(226,110,9)"/><rect x="295.7" y="630.5" width="1.9" height="2.0" fill="rgb(185,96,7)"/><rect x="190.4" y="630.4" width="1.8" height="2.2" fill="rgb(192,54,7)"/><rect x="320.4" y="571.3" width="1.7" height="2.6" fill="rgb(206,102,8)"/><rect x="186.7" y="610.2" width="1.9" height="1.8" fill="rgb(210,96,8)"/><rect x="240.5" y="561.2" width="2.8" height="2.5" fill="rgb(255,109,10)"/><rect x="307.2" y="640.8" width="2.2" height="2.5" fill="rgb(232,74,9)"/><rect x="306.4" y="632.9" width="2.3" height="1.8" fill="rgb(207,59,8)"/><rect x="284.9" y="551.1" width="2.0" height="1.7" fill="rgb(139,70,5)"/><rect x="311.4" y="618.4" width="2.3" height="1.9" fill="rgb(129,63,5)"/><rect x="193.6" y="538.4" width="1.9" height="2.6" fill="rgb(167,70,6)"/><rect x="194.7" y="600.6" width="2.6" height="1.9" fill="rgb(195,129,23)"/><rect x="187.1" y="585.7" width="2.4" height="2.7" fill="rgb(155,62,6)"/><rect x="237.2" y="603.0" width="2.6" height="2.0" fill="rgb(124,28,4)"/><rect x="294.7" y="630.3" width="2.2" height="2.1" fill="rgb(160,45,6)"/><rect x="195.7" y="627.3" width="2.5" height="2.6" fill="rgb(194,96,7)"/><rect x="293.6" y="579.6" width="1.8" height="1.8" fill="rgb(255,60,10)"/><rect x="255.3" y="628.9" width="2.3" height="1.9" fill="rgb(179,58,7)"/><rect x="283.8" y="561.7" width="2.7" height="1.9" fill="rgb(201,150,24)"/><rect x="328.1" y="622.9" width="2.8" height="2.4" fill="rgb(130,68,5)"/><rect x="245.2" y="592.6" width="2.7" height="2.2" fill="rgb(195,51,7)"/><rect x="195.9" y="565.8" width="2.2" height="1.9" fill="rgb(119,27,4)"/><rect x="312.7" y="618.1" width="1.9" height="2.7" fill="rgb(134,54,5)"/><rect x="185.9" y="576.3" width="2.7" height="2.0" fill="rgb(188,69,7)"/><rect x="294.4" y="552.7" width="2.5" height="2.0" fill="rgb(255,65,10)"/><rect x="189.8" y="555.0" width="1.8" height="1.8" fill="rgb(206,79,8)"/><rect x="241.3" y="589.2" width="2.7" height="2.4" fill="rgb(218,68,8)"/><rect x="301.7" y="622.2" width="2.4" height="2.5" fill="rgb(173,41,6)"/><rect x="324.3" y="635.1" width="1.7" height="2.0" fill="rgb(176,94,7)"/><rect x="269.2" y="599.2" width="1.8" height="2.1" fill="rgb(190,71,7)"/><rect x="212.6" y="567.3" width="2.2" height="2.4" fill="rgb(192,49,7)"/><rect x="231.4" y="561.9" width="2.4" height="1.7" fill="rgb(167,35,6)"/><rect x="322.4" y="552.8" width="1.9" height="2.5" fill="rgb(218,81,8)"/><rect x="304.0" y="545.5" width="2.0" height="2.0" fill="rgb(144,49,5)"/><rect x="241.6" y="596.3" width="2.8" height="2.5" fill="rgb(160,58,6)"/><rect x="295.9" y="636.0" width="1.7" height="2.5" fill="rgb(168,80,6)"/><rect x="207.8" y="601.6" width="2.4" height="2.6" fill="rgb(177,39,7)"/><rect x="190.9" y="608.4" width="1.6" height="2.1" fill="rgb(146,79,5)"/><rect x="262.0" y="642.1" width="2.1" height="2.6" fill="rgb(255,166,30)"/><rect x="306.9" y="594.0" width="2.4" height="1.9" fill="rgb(231,117,9)"/><rect x="298.4" y="612.2" width="2.0" height="1.9" fill="rgb(232,48,9)"/><rect x="244.7" y="537.9" width="1.7" height="2.3" fill="rgb(190,55,7)"/><rect x="200.3" y="628.4" width="2.1" height="2.5" fill="rgb(145,35,5)"/><rect x="265.5" y="581.8" width="2.2" height="1.9" fill="rgb(255,208,30)"/><rect x="239.0" y="562.7" width="2.4" height="2.6" fill="rgb(241,91,9)"/><rect x="292.8" y="564.6" width="2.1" height="2.2" fill="rgb(247,127,9)"/><rect x="301.8" y="569.0" width="2.6" height="2.0" fill="rgb(190,62,7)"/><rect x="218.9" y="600.1" width="2.1" height="2.1" fill="rgb(188,99,7)"/><rect x="285.6" y="588.2" width="2.7" height="2.5" fill="rgb(234,117,9)"/><rect x="300.7" y="631.5" width="1.7" height="2.2" fill="rgb(143,38,5)"/><rect x="209.3" y="560.1" width="2.0" height="2.7" fill="rgb(189,64,7)"/><rect x="197.0" y="588.8" width="2.0" height="2.0" fill="rgb(171,54,6)"/><rect x="271.0" y="594.1" width="2.2" height="1.8" fill="rgb(213,88,8)"/><rect x="286.3" y="577.4" width="2.0" height="2.4" fill="rgb(255,190,30)"/><rect x="311.3" y="604.6" width="2.8" height="2.1" fill="rgb(185,51,7)"/><rect x="282.7" y="545.9" width="1.9" height="2.6" fill="rgb(205,152,24)"/><rect x="208.8" y="606.1" width="2.6" height="2.6" fill="rgb(228,119,9)"/><rect x="191.1" y="588.9" width="2.5" height="1.8" fill="rgb(148,67,5)"/><rect x="211.3" y="539.1" width="1.8" height="1.8" fill="rgb(207,48,8)"/><rect x="337.9" y="539.3" width="2.4" height="2.0" fill="rgb(185,48,7)"/><rect x="284.0" y="584.1" width="2.8" height="2.3" fill="rgb(161,60,6)"/><rect x="333.1" y="605.2" width="2.4" height="2.5" fill="rgb(180,152,21)"/><rect x="314.4" y="572.0" width="2.2" height="2.7" fill="rgb(253,55,10)"/><rect x="270.9" y="620.1" width="2.3" height="2.6" fill="rgb(117,44,4)"/><rect x="260.7" y="595.2" width="2.1" height="1.9" fill="rgb(178,71,7)"/><rect x="318.4" y="571.2" width="1.9" height="2.1" fill="rgb(255,139,10)"/><rect x="241.9" y="630.4" width="2.5" height="2.1" fill="rgb(206,58,8)"/><rect x="212.7" y="544.4" width="1.7" height="2.2" fill="rgb(205,98,8)"/><rect x="207.3" y="595.6" width="1.8" height="2.6" fill="rgb(139,55,5)"/><rect x="210.7" y="561.3" width="2.5" height="2.3" fill="rgb(209,63,8)"/><rect x="310.1" y="629.4" width="2.1" height="1.9" fill="rgb(237,79,9)"/><rect x="318.9" y="575.8" width="2.4" height="2.5" fill="rgb(255,90,10)"/><rect x="259.5" y="632.8" width="1.8" height="2.2" fill="rgb(148,39,5)"/><rect x="297.9" y="553.0" width="2.2" height="2.6" fill="rgb(217,118,8)"/><rect x="221.1" y="632.3" width="2.2" height="2.2" fill="rgb(112,47,4)"/><rect x="281.1" y="570.5" width="2.5" height="2.0" fill="rgb(255,192,30)"/><rect x="302.5" y="624.4" width="1.8" height="1.8" fill="rgb(240,83,9)"/><rect x="257.9" y="619.1" width="2.8" height="2.5" fill="rgb(125,61,5)"/><rect x="217.3" y="612.3" width="2.0" height="2.6" fill="rgb(185,88,7)"/><rect x="320.9" y="576.0" width="1.7" height="2.7" fill="rgb(127,32,5)"/><rect x="221.5" y="560.6" width="2.0" height="1.7" fill="rgb(161,43,6)"/><rect x="224.6" y="615.6" width="1.6" height="1.9" fill="rgb(194,99,7)"/><rect x="283.0" y="571.8" width="2.5" height="2.4" fill="rgb(255,214,30)"/><rect x="330.4" y="580.2" width="2.6" height="2.4" fill="rgb(153,69,6)"/><rect x="307.2" y="606.4" width="2.2" height="2.0" fill="rgb(212,103,8)"/><rect x="204.9" y="599.7" width="1.9" height="1.9" fill="rgb(138,53,5)"/><rect x="196.7" y="570.6" width="1.8" height="2.3" fill="rgb(219,64,8)"/><rect x="299.4" y="552.4" width="1.7" height="2.5" fill="rgb(255,164,30)"/><rect x="197.7" y="613.8" width="2.6" height="2.0" fill="rgb(136,31,5)"/><rect x="328.6" y="609.6" width="2.3" height="2.8" fill="rgb(184,73,7)"/><rect x="218.9" y="551.4" width="2.2" height="1.6" fill="rgb(242,101,9)"/><rect x="219.4" y="621.9" width="1.8" height="1.7" fill="rgb(145,53,5)"/><rect x="195.0" y="611.8" width="2.5" height="1.8" fill="rgb(140,56,5)"/><rect x="250.9" y="616.6" width="2.5" height="2.7" fill="rgb(197,83,7)"/><rect x="266.8" y="542.6" width="2.1" height="2.4" fill="rgb(157,68,6)"/><rect x="218.5" y="575.7" width="1.9" height="1.7" fill="rgb(159,85,6)"/><rect x="242.0" y="629.1" width="2.2" height="2.7" fill="rgb(241,76,9)"/><rect x="272.8" y="579.6" width="2.6" height="2.8" fill="rgb(255,131,10)"/><rect x="290.5" y="619.4" width="2.7" height="2.7" fill="rgb(176,92,7)"/><rect x="289.3" y="586.8" width="2.4" height="2.6" fill="rgb(205,109,8)"/><rect x="287.9" y="542.6" width="2.4" height="2.0" fill="rgb(210,113,8)"/><rect x="264.1" y="632.1" width="2.1" height="2.5" fill="rgb(179,58,7)"/><rect x="215.7" y="607.6" width="2.3" height="2.8" fill="rgb(221,85,8)"/><rect x="307.5" y="629.4" width="1.7" height="2.5" fill="rgb(179,87,7)"/><rect x="229.9" y="622.5" width="2.0" height="2.8" fill="rgb(194,71,7)"/><rect x="270.9" y="639.6" width="2.0" height="2.8" fill="rgb(188,124,22)"/><rect x="204.7" y="590.1" width="1.9" height="1.7" fill="rgb(223,67,8)"/><rect x="274.8" y="594.7" width="2.4" height="1.9" fill="rgb(172,64,6)"/><rect x="220.0" y="630.2" width="2.3" height="2.1" fill="rgb(200,64,8)"/><rect x="290.0" y="639.2" width="2.2" height="2.0" fill="rgb(173,77,6)"/><rect x="188.3" y="623.7" width="2.7" height="2.6" fill="rgb(176,56,7)"/><rect x="221.0" y="619.2" width="2.5" height="1.9" fill="rgb(114,53,4)"/><rect x="239.3" y="551.8" width="2.2" height="2.1" fill="rgb(255,120,10)"/><rect x="330.5" y="636.9" width="2.0" height="2.0" fill="rgb(207,105,8)"/><rect x="306.5" y="607.4" width="1.7" height="2.5" fill="rgb(210,71,8)"/><rect x="319.3" y="591.2" width="1.8" height="2.3" fill="rgb(151,40,6)"/><rect x="258.9" y="617.1" width="2.2" height="1.6" fill="rgb(111,33,4)"/><rect x="242.9" y="588.4" width="2.6" height="2.7" fill="rgb(235,57,9)"/><rect x="261.7" y="589.5" width="2.1" height="1.9" fill="rgb(255,91,10)"/><rect x="227.3" y="572.6" width="2.6" height="1.8" fill="rgb(117,55,4)"/><rect x="241.2" y="629.5" width="2.6" height="2.0" fill="rgb(236,61,9)"/><rect x="286.4" y="635.7" width="1.7" height="2.2" fill="rgb(142,56,5)"/><rect x="273.9" y="580.0" width="2.6" height="1.8" fill="rgb(255,102,10)"/><rect x="212.5" y="563.2" width="2.7" height="2.1" fill="rgb(132,65,5)"/><rect x="316.4" y="636.8" width="1.6" height="2.0" fill="rgb(211,92,8)"/><rect x="224.8" y="591.1" width="2.8" height="1.8" fill="rgb(184,53,7)"/><rect x="306.2" y="566.9" width="2.3" height="2.4" fill="rgb(229,49,9)"/><rect x="225.1" y="541.8" width="1.9" height="2.3" fill="rgb(189,49,7)"/><rect x="257.3" y="574.5" width="2.1" height="1.8" fill="rgb(219,166,26)"/><rect x="311.2" y="593.0" width="1.8" height="2.2" fill="rgb(154,59,6)"/><rect x="225.8" y="626.7" width="2.4" height="2.2" fill="rgb(212,52,8)"/><rect x="233.1" y="586.4" width="2.7" height="2.3" fill="rgb(127,50,5)"/><rect x="273.9" y="535.5" width="2.0" height="2.7" fill="rgb(220,95,8)"/><rect x="294.5" y="612.8" width="2.7" height="2.2" fill="rgb(239,58,9)"/><rect x="278.2" y="533.6" width="2.8" height="2.7" fill="rgb(147,48,5)"/><rect x="268.4" y="597.8" width="2.8" height="2.0" fill="rgb(188,90,7)"/><rect x="249.1" y="575.5" width="2.5" height="1.8" fill="rgb(213,140,25)"/><rect x="277.0" y="641.5" width="2.0" height="1.8" fill="rgb(163,46,6)"/><rect x="208.6" y="577.2" width="1.7" height="1.7" fill="rgb(212,58,8)"/><rect x="236.0" y="593.3" width="1.9" height="1.7" fill="rgb(109,47,4)"/><rect x="310.2" y="539.7" width="2.2" height="2.0" fill="rgb(208,104,8)"/><rect x="217.7" y="623.9" width="1.8" height="2.0" fill="rgb(164,51,6)"/><rect x="224.6" y="615.0" width="2.0" height="2.7" fill="rgb(218,66,8)"/><rect x="256.2" y="596.6" width="1.9" height="2.2" fill="rgb(115,40,4)"/><rect x="215.9" y="571.0" width="1.8" height="2.6" fill="rgb(157,50,6)"/><rect x="266.9" y="573.9" width="2.0" height="2.2" fill="rgb(255,175,30)"/><rect x="318.2" y="581.5" width="2.0" height="2.4" fill="rgb(163,76,6)"/><rect x="240.9" y="533.3" width="1.9" height="2.3" fill="rgb(118,39,4)"/><rect x="298.6" y="582.2" width="2.6" height="2.3" fill="rgb(255,67,10)"/><rect x="218.5" y="571.7" width="1.7" height="2.7" fill="rgb(226,112,9)"/><rect x="267.5" y="545.2" width="2.5" height="2.6" fill="rgb(182,74,7)"/><rect x="218.9" y="596.8" width="1.9" height="2.3" fill="rgb(212,102,8)"/><rect x="262.0" y="591.7" width="2.8" height="2.4" fill="rgb(255,74,10)"/><rect x="324.1" y="557.1" width="2.2" height="1.7" fill="rgb(151,71,6)"/><rect x="253.6" y="618.1" width="2.7" height="2.5" fill="rgb(226,76,9)"/><rect x="280.2" y="550.0" width="2.2" height="1.7" fill="rgb(218,81,8)"/><rect x="310.3" y="580.9" width="1.8" height="2.3" fill="rgb(167,52,6)"/><rect x="188.0" y="634.8" width="2.3" height="1.6" fill="rgb(184,97,7)"/><rect x="296.6" y="537.2" width="2.7" height="2.6" fill="rgb(182,78,7)"/><rect x="212.5" y="593.2" width="2.4" height="1.7" fill="rgb(122,42,4)"/><rect x="261.2" y="580.5" width="2.5" height="2.8" fill="rgb(143,77,5)"/><rect x="199.8" y="603.5" width="2.1" height="1.7" fill="rgb(186,89,7)"/><rect x="282.8" y="627.4" width="2.8" height="2.8" fill="rgb(158,39,6)"/><rect x="187.3" y="603.8" width="2.5" height="2.2" fill="rgb(232,52,9)"/><rect x="237.7" y="537.8" width="2.2" height="2.4" fill="rgb(138,50,5)"/><rect x="243.7" y="617.1" width="1.6" height="2.2" fill="rgb(255,195,30)"/><rect x="327.8" y="624.8" width="2.4" height="2.5" fill="rgb(149,38,5)"/><rect x="191.0" y="560.4" width="2.2" height="2.7" fill="rgb(180,46,7)"/><rect x="211.5" y="625.5" width="2.3" height="1.8" fill="rgb(208,66,8)"/><rect x="228.4" y="622.7" width="2.6" height="2.4" fill="rgb(124,28,4)"/><rect x="203.7" y="630.9" width="2.6" height="2.4" fill="rgb(195,44,7)"/><rect x="244.3" y="539.8" width="2.3" height="2.0" fill="rgb(211,100,8)"/><rect x="254.2" y="563.1" width="2.1" height="2.4" fill="rgb(220,87,8)"/><rect x="335.3" y="552.0" width="1.9" height="1.8" fill="rgb(183,72,7)"/><rect x="294.0" y="595.9" width="2.3" height="2.1" fill="rgb(149,45,5)"/><rect x="230.3" y="558.9" width="2.2" height="2.4" fill="rgb(187,61,7)"/><rect x="241.3" y="618.7" width="1.7" height="1.6" fill="rgb(109,43,4)"/><rect x="280.3" y="594.6" width="2.7" height="2.6" fill="rgb(244,76,9)"/><rect x="332.1" y="565.6" width="1.7" height="2.5" fill="rgb(117,31,4)"/><rect x="292.6" y="607.0" width="2.2" height="2.4" fill="rgb(123,35,4)"/><rect x="239.1" y="571.6" width="1.7" height="2.5" fill="rgb(255,125,10)"/><rect x="213.9" y="567.7" width="2.2" height="2.2" fill="rgb(195,82,7)"/><rect x="278.2" y="555.2" width="2.1" height="2.4" fill="rgb(255,164,30)"/><rect x="186.2" y="569.6" width="2.7" height="2.7" fill="rgb(233,56,9)"/><rect x="282.4" y="555.2" width="1.7" height="2.1" fill="rgb(255,190,30)"/><rect x="206.7" y="607.9" width="1.8" height="2.5" fill="rgb(155,75,6)"/><rect x="298.5" y="561.8" width="2.4" height="2.6" fill="rgb(255,176,30)"/><rect x="331.0" y="594.3" width="2.0" height="2.1" fill="rgb(206,108,8)"/><rect x="304.1" y="590.2" width="1.8" height="2.0" fill="rgb(149,50,5)"/><rect x="189.2" y="634.4" width="2.0" height="2.3" fill="rgb(191,160,22)"/><rect x="241.7" y="569.5" width="2.6" height="2.5" fill="rgb(255,80,10)"/><rect x="318.8" y="578.9" width="2.0" height="2.3" fill="rgb(207,74,8)"/><rect x="292.6" y="590.0" width="2.3" height="2.0" fill="rgb(148,39,5)"/><rect x="192.7" y="557.6" width="2.2" height="2.1" fill="rgb(163,38,6)"/><rect x="193.3" y="566.8" width="2.7" height="2.7" fill="rgb(139,72,5)"/><rect x="258.8" y="556.5" width="1.9" height="2.3" fill="rgb(255,212,30)"/><rect x="280.0" y="542.4" width="2.3" height="2.5" fill="rgb(255,113,10)"/><rect x="202.0" y="556.1" width="2.5" height="1.8" fill="rgb(199,67,7)"/><rect x="247.1" y="610.3" width="2.6" height="2.2" fill="rgb(136,51,5)"/><rect x="316.5" y="585.2" width="1.8" height="2.3" fill="rgb(123,43,4)"/><rect x="252.5" y="531.5" width="2.0" height="2.7" fill="rgb(149,50,5)"/><rect x="192.0" y="564.8" width="2.0" height="1.8" fill="rgb(112,36,4)"/><rect x="233.4" y="625.5" width="1.9" height="2.7" fill="rgb(229,91,9)"/><rect x="188.3" y="588.3" width="2.3" height="1.7" fill="rgb(179,94,7)"/><rect x="201.6" y="598.3" width="2.2" height="2.8" fill="rgb(111,52,4)"/><rect x="257.2" y="569.7" width="2.5" height="2.3" fill="rgb(151,52,6)"/><rect x="319.4" y="584.9" width="2.0" height="2.2" fill="rgb(165,76,6)"/><rect x="287.0" y="592.9" width="2.7" height="2.8" fill="rgb(166,41,6)"/><rect x="337.2" y="585.6" width="1.9" height="2.4" fill="rgb(156,72,6)"/><rect x="237.4" y="573.9" width="2.3" height="2.2" fill="rgb(147,46,5)"/><rect x="318.9" y="613.8" width="1.8" height="2.6" fill="rgb(207,102,8)"/><rect x="320.5" y="552.5" width="1.7" height="2.5" fill="rgb(146,74,5)"/><rect x="319.6" y="581.9" width="2.6" height="2.5" fill="rgb(139,39,5)"/><rect x="224.8" y="615.3" width="2.3" height="1.7" fill="rgb(217,111,8)"/><rect x="246.4" y="569.6" width="2.7" height="2.1" fill="rgb(168,58,6)"/><rect x="272.8" y="633.0" width="2.4" height="2.6" fill="rgb(109,56,4)"/><rect x="195.2" y="620.6" width="2.2" height="2.6" fill="rgb(143,46,5)"/><rect x="287.4" y="609.6" width="2.6" height="2.3" fill="rgb(139,46,5)"/><rect x="211.6" y="575.5" width="1.8" height="2.5" fill="rgb(197,54,7)"/><rect x="199.0" y="590.1" width="2.8" height="2.6" fill="rgb(212,44,8)"/><rect x="295.2" y="615.5" width="2.7" height="2.4" fill="rgb(216,112,8)"/><rect x="298.1" y="537.1" width="1.6" height="2.7" fill="rgb(166,78,6)"/><rect x="325.1" y="535.8" width="2.3" height="1.8" fill="rgb(205,62,8)"/><rect x="250.9" y="633.1" width="2.4" height="2.2" fill="rgb(164,51,6)"/><rect x="244.4" y="591.2" width="1.8" height="1.9" fill="rgb(192,58,7)"/><rect x="223.9" y="591.5" width="1.6" height="2.1" fill="rgb(125,44,5)"/><rect x="323.1" y="562.7" width="2.8" height="2.2" fill="rgb(234,103,9)"/><rect x="215.5" y="614.0" width="1.9" height="1.9" fill="rgb(127,27,5)"/><rect x="278.2" y="631.6" width="1.9" height="1.6" fill="rgb(118,36,4)"/><rect x="231.2" y="531.3" width="1.9" height="2.8" fill="rgb(157,60,6)"/><rect x="321.8" y="600.8" width="2.5" height="2.4" fill="rgb(144,32,5)"/><rect x="291.5" y="605.9" width="1.9" height="1.7" fill="rgb(171,56,6)"/><rect x="276.8" y="595.1" width="1.7" height="2.2" fill="rgb(255,139,10)"/><rect x="261.7" y="597.7" width="2.6" height="2.8" fill="rgb(225,97,9)"/><rect x="203.4" y="624.4" width="1.7" height="1.7" fill="rgb(161,77,6)"/><rect x="322.8" y="591.3" width="2.3" height="1.7" fill="rgb(218,83,8)"/><rect x="284.8" y="560.5" width="2.3" height="2.5" fill="rgb(255,198,30)"/><rect x="284.2" y="620.2" width="2.1" height="2.2" fill="rgb(109,37,4)"/><rect x="278.7" y="569.4" width="2.2" height="2.7" fill="rgb(248,172,29)"/><rect x="216.4" y="621.2" width="2.4" height="2.6" fill="rgb(201,82,8)"/><rect x="193.9" y="595.6" width="1.9" height="2.4" fill="rgb(168,85,6)"/><rect x="303.0" y="625.5" width="2.6" height="1.6" fill="rgb(127,34,5)"/><rect x="248.2" y="630.6" width="1.9" height="2.8" fill="rgb(113,48,4)"/><rect x="230.8" y="586.5" width="2.3" height="2.3" fill="rgb(163,38,6)"/><rect x="204.2" y="556.1" width="2.2" height="2.3" fill="rgb(115,32,4)"/><rect x="275.8" y="557.9" width="1.6" height="1.6" fill="rgb(231,91,9)"/><rect x="229.6" y="599.2" width="2.5" height="1.7" fill="rgb(145,73,5)"/><rect x="277.7" y="625.6" width="1.9" height="2.2" fill="rgb(229,91,9)"/><rect x="247.3" y="630.2" width="2.6" height="1.9" fill="rgb(123,55,4)"/><rect x="337.5" y="603.1" width="2.3" height="1.7" fill="rgb(207,93,8)"/><rect x="210.0" y="561.0" width="1.9" height="2.1" fill="rgb(241,96,9)"/><rect x="257.7" y="533.2" width="2.1" height="1.6" fill="rgb(115,30,4)"/><rect x="267.1" y="559.9" width="2.7" height="2.3" fill="rgb(243,130,9)"/><rect x="283.8" y="641.7" width="2.0" height="1.7" fill="rgb(175,56,7)"/><rect x="302.4" y="598.8" width="1.9" height="2.0" fill="rgb(240,68,9)"/><rect x="209.3" y="604.9" width="2.3" height="1.7" fill="rgb(159,50,6)"/><rect x="281.6" y="632.6" width="1.7" height="2.5" fill="rgb(187,41,7)"/><rect x="306.9" y="550.5" width="1.9" height="2.6" fill="rgb(175,75,7)"/><rect x="302.6" y="566.0" width="1.8" height="2.3" fill="rgb(228,65,9)"/><rect x="338.9" y="550.1" width="2.6" height="2.7" fill="rgb(235,155,28)"/><rect x="226.0" y="564.0" width="2.5" height="2.0" fill="rgb(122,41,4)"/><rect x="260.2" y="620.3" width="2.7" height="2.7" fill="rgb(120,58,4)"/><rect x="321.6" y="553.1" width="2.3" height="2.0" fill="rgb(143,33,5)"/><rect x="199.2" y="615.0" width="2.4" height="2.6" fill="rgb(143,50,5)"/><rect x="330.5" y="575.1" width="2.1" height="1.6" fill="rgb(220,90,8)"/><rect x="246.2" y="642.3" width="2.5" height="2.7" fill="rgb(146,71,5)"/><rect x="263.9" y="628.5" width="1.7" height="2.5" fill="rgb(186,41,7)"/><rect x="204.1" y="572.5" width="2.8" height="2.7" fill="rgb(114,56,4)"/><rect x="262.7" y="572.5" width="2.5" height="1.9" fill="rgb(183,57,7)"/><rect x="328.1" y="590.8" width="2.3" height="2.5" fill="rgb(124,32,4)"/><rect x="236.4" y="621.8" width="2.0" height="2.4" fill="rgb(127,27,5)"/><rect x="288.8" y="582.8" width="1.7" height="2.4" fill="rgb(255,103,10)"/><rect x="243.9" y="596.8" width="2.3" height="2.2" fill="rgb(173,84,6)"/><rect x="188.9" y="540.2" width="2.6" height="1.7" fill="rgb(213,60,8)"/><rect x="243.1" y="554.6" width="1.7" height="2.1" fill="rgb(255,113,10)"/><rect x="197.2" y="596.0" width="2.5" height="2.3" fill="rgb(216,82,8)"/><rect x="193.1" y="605.3" width="2.8" height="2.0" fill="rgb(209,81,8)"/><rect x="309.8" y="590.4" width="2.4" height="2.3" fill="rgb(170,38,6)"/><rect x="304.5" y="637.8" width="1.7" height="2.5" fill="rgb(241,73,9)"/><rect x="278.4" y="616.5" width="1.7" height="1.8" fill="rgb(237,60,9)"/><rect x="322.8" y="552.9" width="2.4" height="2.3" fill="rgb(150,31,6)"/><rect x="186.1" y="543.9" width="1.8" height="1.7" fill="rgb(177,64,7)"/><rect x="207.4" y="554.2" width="2.3" height="1.7" fill="rgb(115,52,4)"/><rect x="285.1" y="575.1" width="1.6" height="1.7" fill="rgb(195,65,7)"/><rect x="335.2" y="633.7" width="2.0" height="2.3" fill="rgb(202,86,8)"/><rect x="250.2" y="547.4" width="2.4" height="1.9" fill="rgb(159,59,6)"/><rect x="224.9" y="539.3" width="2.3" height="2.6" fill="rgb(170,87,6)"/><rect x="259.2" y="612.3" width="2.2" height="2.0" fill="rgb(189,47,7)"/><rect x="310.9" y="622.3" width="1.6" height="1.8" fill="rgb(206,55,8)"/><rect x="216.2" y="579.1" width="2.2" height="2.4" fill="rgb(109,23,4)"/><rect x="304.1" y="629.3" width="2.2" height="1.7" fill="rgb(112,42,4)"/><rect x="211.7" y="621.1" width="2.6" height="2.2" fill="rgb(187,70,7)"/><rect x="214.3" y="574.8" width="2.2" height="1.7" fill="rgb(230,95,9)"/><rect x="307.6" y="558.2" width="2.0" height="2.1" fill="rgb(255,123,10)"/><rect x="221.4" y="601.6" width="2.7" height="1.9" fill="rgb(184,49,7)"/><rect x="230.3" y="541.2" width="1.8" height="2.6" fill="rgb(177,83,7)"/><rect x="276.6" y="583.1" width="2.1" height="1.8" fill="rgb(255,68,10)"/><rect x="200.6" y="632.0" width="2.3" height="2.3" fill="rgb(215,110,8)"/><rect x="322.7" y="629.8" width="1.9" height="1.8" fill="rgb(109,22,4)"/><rect x="315.1" y="544.4" width="2.5" height="2.0" fill="rgb(233,53,9)"/><rect x="244.9" y="584.2" width="2.4" height="2.2" fill="rgb(255,122,10)"/><rect x="315.6" y="628.4" width="1.9" height="2.7" fill="rgb(189,99,7)"/><rect x="271.2" y="630.4" width="2.2" height="2.1" fill="rgb(195,94,7)"/><rect x="316.2" y="535.3" width="1.6" height="1.6" fill="rgb(239,96,9)"/><rect x="213.3" y="534.1" width="2.3" height="2.2" fill="rgb(255,198,30)"/><rect x="206.2" y="538.4" width="2.6" height="2.4" fill="rgb(171,64,6)"/><rect x="198.9" y="635.5" width="2.6" height="2.6" fill="rgb(174,95,6)"/><rect x="247.6" y="634.0" width="2.6" height="2.4" fill="rgb(116,42,4)"/><rect x="312.1" y="599.2" width="2.6" height="2.1" fill="rgb(134,35,5)"/><rect x="324.3" y="584.1" width="2.5" height="2.2" fill="rgb(182,85,7)"/><rect x="292.0" y="581.0" width="1.8" height="1.8" fill="rgb(255,183,30)"/><rect x="192.1" y="576.6" width="2.7" height="1.6" fill="rgb(122,26,4)"/><rect x="221.6" y="538.5" width="1.7" height="2.1" fill="rgb(190,93,7)"/><rect x="255.1" y="589.5" width="2.6" height="1.7" fill="rgb(206,97,8)"/><rect x="213.6" y="607.1" width="2.5" height="2.0" fill="rgb(122,36,4)"/><rect x="259.7" y="584.1" width="1.7" height="2.8" fill="rgb(142,61,5)"/><rect x="206.8" y="610.9" width="1.7" height="1.8" fill="rgb(199,63,7)"/><rect x="276.6" y="578.8" width="2.1" height="1.7" fill="rgb(177,36,7)"/><rect x="208.5" y="534.5" width="2.5" height="2.6" fill="rgb(179,58,7)"/><rect x="263.5" y="567.2" width="2.5" height="2.3" fill="rgb(255,214,30)"/><rect x="228.1" y="536.0" width="2.1" height="2.5" fill="rgb(221,93,8)"/><rect x="279.3" y="598.8" width="1.6" height="2.6" fill="rgb(184,57,7)"/><rect x="193.3" y="560.4" width="2.2" height="1.8" fill="rgb(231,78,9)"/><rect x="203.0" y="622.9" width="1.9" height="1.8" fill="rgb(212,97,8)"/><rect x="257.6" y="619.4" width="2.6" height="2.4" fill="rgb(169,89,6)"/><rect x="317.6" y="551.8" width="1.9" height="2.2" fill="rgb(173,78,6)"/><rect x="271.0" y="630.1" width="1.7" height="2.5" fill="rgb(129,44,5)"/><rect x="212.0" y="601.1" width="1.7" height="2.7" fill="rgb(170,46,6)"/><rect x="302.3" y="561.0" width="2.3" height="1.6" fill="rgb(255,176,30)"/><rect x="284.2" y="573.6" width="2.0" height="2.2" fill="rgb(255,206,30)"/><rect x="198.4" y="535.9" width="1.6" height="2.0" fill="rgb(237,91,9)"/><rect x="213.8" y="640.5" width="2.4" height="1.8" fill="rgb(231,118,9)"/><rect x="257.4" y="629.7" width="2.1" height="2.0" fill="rgb(119,56,4)"/><rect x="235.8" y="644.1" width="2.2" height="1.8" fill="rgb(129,60,5)"/><rect x="244.3" y="540.4" width="1.7" height="2.5" fill="rgb(111,56,4)"/><rect x="336.1" y="587.9" width="2.2" height="2.6" fill="rgb(217,51,8)"/><rect x="260.8" y="569.0" width="2.7" height="2.2" fill="rgb(165,85,6)"/><rect x="194.9" y="572.9" width="2.2" height="2.6" fill="rgb(205,45,8)"/><rect x="215.9" y="633.3" width="2.1" height="1.8" fill="rgb(215,111,8)"/><rect x="311.1" y="576.1" width="2.7" height="2.8" fill="rgb(147,34,5)"/><rect x="226.6" y="565.5" width="1.8" height="2.3" fill="rgb(235,107,9)"/><rect x="226.1" y="603.2" width="2.1" height="2.1" fill="rgb(149,50,5)"/><rect x="255.6" y="624.8" width="1.8" height="1.7" fill="rgb(113,35,4)"/><rect x="218.8" y="622.5" width="2.4" height="2.2" fill="rgb(223,116,8)"/><rect x="315.3" y="620.1" width="2.3" height="2.4" fill="rgb(110,37,4)"/><rect x="289.8" y="588.9" width="2.1" height="2.3" fill="rgb(242,178,29)"/><rect x="248.7" y="601.3" width="2.0" height="2.2" fill="rgb(215,60,8)"/><rect x="282.1" y="629.7" width="2.7" height="2.8" fill="rgb(114,48,4)"/><rect x="206.5" y="643.8" width="1.9" height="2.5" fill="rgb(169,56,6)"/><rect x="219.1" y="542.6" width="2.3" height="1.6" fill="rgb(114,59,4)"/><rect x="237.1" y="542.4" width="2.5" height="2.1" fill="rgb(213,64,8)"/><rect x="216.7" y="626.3" width="1.7" height="2.0" fill="rgb(234,96,9)"/><rect x="196.2" y="606.0" width="1.6" height="2.4" fill="rgb(229,99,9)"/><rect x="242.8" y="574.2" width="1.8" height="2.4" fill="rgb(254,128,10)"/><rect x="280.4" y="584.2" width="2.1" height="1.8" fill="rgb(255,186,30)"/><rect x="187.8" y="576.2" width="2.3" height="2.5" fill="rgb(187,93,7)"/><rect x="284.5" y="577.5" width="2.0" height="2.4" fill="rgb(255,170,30)"/><rect x="203.5" y="545.7" width="2.6" height="2.7" fill="rgb(208,60,8)"/><rect x="205.2" y="582.2" width="2.0" height="2.2" fill="rgb(212,50,8)"/><rect x="190.4" y="632.3" width="2.0" height="2.4" fill="rgb(144,42,5)"/><rect x="307.6" y="590.4" width="2.3" height="2.6" fill="rgb(140,39,5)"/><rect x="269.0" y="579.1" width="1.9" height="2.0" fill="rgb(255,57,10)"/><rect x="334.2" y="557.4" width="1.7" height="1.7" fill="rgb(158,67,6)"/><rect x="314.7" y="550.0" width="2.5" height="1.7" fill="rgb(152,34,6)"/><rect x="326.0" y="603.5" width="1.6" height="2.3" fill="rgb(219,112,8)"/><rect x="191.0" y="642.1" width="2.4" height="2.3" fill="rgb(209,101,8)"/><rect x="234.2" y="550.1" width="1.9" height="1.8" fill="rgb(188,46,7)"/><rect x="299.8" y="628.7" width="1.6" height="2.4" fill="rgb(159,54,6)"/><rect x="227.8" y="637.9" width="1.9" height="2.0" fill="rgb(150,48,6)"/><rect x="280.2" y="573.1" width="2.0" height="2.7" fill="rgb(206,139,24)"/><rect x="287.1" y="605.7" width="2.2" height="2.6" fill="rgb(169,64,6)"/><rect x="201.9" y="618.0" width="2.5" height="2.6" fill="rgb(192,75,7)"/><rect x="328.7" y="630.3" width="2.1" height="2.5" fill="rgb(180,52,7)"/><rect x="226.6" y="536.8" width="2.5" height="1.9" fill="rgb(191,50,7)"/><rect x="211.0" y="591.3" width="2.6" height="2.3" fill="rgb(207,63,8)"/><rect x="240.8" y="630.5" width="2.5" height="1.9" fill="rgb(180,95,7)"/><rect x="226.9" y="575.3" width="2.6" height="2.6" fill="rgb(234,61,9)"/><rect x="221.4" y="567.7" width="2.7" height="2.0" fill="rgb(133,33,5)"/><rect x="258.6" y="568.7" width="2.6" height="2.8" fill="rgb(255,82,10)"/><rect x="331.8" y="550.1" width="1.9" height="2.1" fill="rgb(233,53,9)"/><rect x="185.0" y="607.7" width="2.4" height="2.1" fill="rgb(135,34,5)"/><rect x="288.4" y="565.6" width="2.3" height="2.3" fill="rgb(209,72,8)"/><rect x="207.0" y="583.0" width="2.0" height="2.5" fill="rgb(174,61,6)"/><rect x="332.7" y="565.3" width="2.7" height="2.5" fill="rgb(116,39,4)"/><rect x="315.7" y="550.1" width="1.6" height="1.9" fill="rgb(255,186,30)"/><rect x="189.5" y="610.9" width="1.6" height="2.0" fill="rgb(233,90,9)"/><rect x="302.4" y="560.1" width="2.0" height="1.9" fill="rgb(210,175,25)"/><rect x="223.5" y="571.0" width="2.4" height="2.1" fill="rgb(255,165,30)"/><rect x="300.9" y="598.8" width="1.7" height="2.6" fill="rgb(169,79,6)"/><rect x="314.1" y="609.1" width="1.8" height="2.0" fill="rgb(155,54,6)"/><rect x="212.9" y="534.7" width="2.2" height="1.8" fill="rgb(117,41,4)"/><rect x="272.3" y="634.8" width="1.9" height="2.1" fill="rgb(143,75,5)"/><rect x="186.5" y="584.4" width="2.6" height="2.8" fill="rgb(229,73,9)"/><rect x="299.5" y="557.3" width="2.7" height="2.7" fill="rgb(229,51,9)"/><rect x="261.0" y="643.4" width="2.7" height="1.8" fill="rgb(122,31,4)"/><rect x="266.2" y="611.9" width="2.1" height="2.7" fill="rgb(201,97,8)"/><rect x="302.2" y="545.7" width="1.8" height="2.5" fill="rgb(177,89,7)"/><rect x="210.5" y="639.8" width="2.3" height="2.3" fill="rgb(241,83,9)"/><rect x="221.5" y="572.1" width="1.8" height="1.7" fill="rgb(128,46,5)"/><rect x="317.9" y="632.7" width="2.0" height="1.7" fill="rgb(217,66,8)"/><rect x="279.1" y="597.7" width="2.4" height="1.7" fill="rgb(195,91,7)"/><rect x="236.9" y="626.9" width="2.4" height="2.6" fill="rgb(185,76,7)"/><rect x="327.1" y="549.2" width="1.9" height="2.8" fill="rgb(161,44,6)"/><rect x="236.7" y="553.6" width="2.2" height="2.3" fill="rgb(111,22,4)"/><rect x="282.2" y="601.7" width="2.2" height="2.6" fill="rgb(163,59,6)"/><rect x="295.4" y="563.1" width="1.6" height="1.7" fill="rgb(153,82,6)"/><rect x="241.9" y="547.7" width="1.7" height="2.3" fill="rgb(189,43,7)"/><rect x="301.0" y="643.3" width="2.7" height="2.6" fill="rgb(195,72,7)"/></g></g>
<text x="26.2" y="428.3" font-size="18" font-weight="bold" fill="#fff" text-anchor="start" textLength="33.5" lengthAdjust="spacingAndGlyphs" >Null</text>
<text x="189.4" y="428.3" font-size="18" font-weight="bold" fill="#fff" text-anchor="start" textLength="70.5" lengthAdjust="spacingAndGlyphs" >FGF2std</text>
<text x="26.2" y="553" font-size="18" font-weight="bold" fill="#fff" text-anchor="start" textLength="62" lengthAdjust="spacingAndGlyphs" >WT silk</text>
<text x="189.4" y="553" font-size="18" font-weight="bold" fill="#fff" text-anchor="start" textLength="55" lengthAdjust="spacingAndGlyphs" >FT silk</text>
<rect x="141.2" y="510.3" width="28.3" height="6.5" fill="#fff"/>
<text x="138.8" y="505.3" font-size="12" font-weight="normal" fill="#d8d8d8" text-anchor="start" textLength="32.6" lengthAdjust="spacingAndGlyphs"  font-family='"Liberation Serif", serif'>600um</text>
<line x1="411.8" y1="408.9" x2="411.8" y2="570.1" stroke="#000" stroke-width="1.6"/>
<line x1="407" y1="569.4" x2="652.5" y2="569.4" stroke="#000" stroke-width="1.6"/>
<line x1="407" y1="569.4" x2="411.8" y2="569.4" stroke="#000" stroke-width="1.6"/>
<text x="404.6" y="573.3" font-size="11.2" font-weight="bold" fill="#000" text-anchor="end" >0</text>
<line x1="407" y1="537.4" x2="411.8" y2="537.4" stroke="#000" stroke-width="1.6"/>
<text x="404.6" y="541.3" font-size="11.2" font-weight="bold" fill="#000" text-anchor="end" >50</text>
<line x1="407" y1="505.4" x2="411.8" y2="505.4" stroke="#000" stroke-width="1.6"/>
<text x="404.6" y="509.3" font-size="11.2" font-weight="bold" fill="#000" text-anchor="end" >100</text>
<line x1="407" y1="473.4" x2="411.8" y2="473.4" stroke="#000" stroke-width="1.6"/>
<text x="404.6" y="477.3" font-size="11.2" font-weight="bold" fill="#000" text-anchor="end" >150</text>
<line x1="407" y1="441.4" x2="411.8" y2="441.4" stroke="#000" stroke-width="1.6"/>
<text x="404.6" y="445.3" font-size="11.2" font-weight="bold" fill="#000" text-anchor="end" >200</text>
<line x1="407" y1="409.4" x2="411.8" y2="409.4" stroke="#000" stroke-width="1.6"/>
<text x="404.6" y="413.3" font-size="11.2" font-weight="bold" fill="#000" text-anchor="end" >250</text>
<text transform="translate(376,489.5) rotate(-90)" font-size="11" font-weight="bold" text-anchor="middle" textLength="77" lengthAdjust="spacingAndGlyphs">TNF-a(pg/ul)</text>
<rect x="415.0" y="568.1" width="18" height="1.3" fill="#333333"/>
<line x1="424" y1="568.1" x2="424" y2="567.6" stroke="#000" stroke-width="2"/>
<line x1="420" y1="567.6" x2="428" y2="567.6" stroke="#000" stroke-width="2"/>
<line x1="424" y1="569.4" x2="424" y2="573.9" stroke="#000" stroke-width="1.4"/>
<text transform="translate(425.5,584.1) rotate(-45)" font-size="11.8" font-weight="bold" text-anchor="end">Null</text>
<rect x="438.9" y="467.6" width="18" height="101.8" fill="#A0A0A4"/>
<line x1="447.9" y1="467.6" x2="447.9" y2="466.7" stroke="#000" stroke-width="2"/>
<line x1="443.9" y1="466.7" x2="451.9" y2="466.7" stroke="#000" stroke-width="2"/>
<line x1="447.9" y1="569.4" x2="447.9" y2="573.9" stroke="#000" stroke-width="1.4"/>
<text transform="translate(449.4,584.1) rotate(-45)" font-size="11.8" font-weight="bold" text-anchor="end">LPS</text>
<rect x="462.6" y="508.6" width="18" height="60.8" fill="#808080"/>
<line x1="471.6" y1="508.6" x2="471.6" y2="507.6" stroke="#000" stroke-width="2"/>
<line x1="467.6" y1="507.6" x2="475.6" y2="507.6" stroke="#000" stroke-width="2"/>
<line x1="471.6" y1="569.4" x2="471.6" y2="573.9" stroke="#000" stroke-width="1.4"/>
<text transform="translate(473.1,584.1) rotate(-45)" font-size="11.8" font-weight="bold" text-anchor="end">LPS+TGF_β1</text>
<rect x="486.9" y="447.8" width="18" height="121.6" fill="#D0D0D0"/>
<line x1="495.9" y1="447.8" x2="495.9" y2="441.7" stroke="#000" stroke-width="2"/>
<line x1="491.9" y1="441.7" x2="499.9" y2="441.7" stroke="#000" stroke-width="2"/>
<line x1="495.9" y1="569.4" x2="495.9" y2="573.9" stroke="#000" stroke-width="1.4"/>
<text transform="translate(497.4,584.1) rotate(-45)" font-size="11.8" font-weight="bold" text-anchor="end">LPS+WT silk</text>
<rect x="511.0" y="492.0" width="18" height="77.4" fill="#646464"/>
<line x1="520" y1="492.0" x2="520" y2="490.8" stroke="#000" stroke-width="2"/>
<line x1="516" y1="490.8" x2="524" y2="490.8" stroke="#000" stroke-width="2"/>
<line x1="520" y1="569.4" x2="520" y2="573.9" stroke="#000" stroke-width="1.4"/>
<text transform="translate(521.5,584.1) rotate(-45)" font-size="11.8" font-weight="bold" text-anchor="end">LPS+FT silk</text>
<rect x="535.0" y="567.8" width="18" height="1.6" fill="#333333"/>
<line x1="544" y1="567.8" x2="544" y2="566.4" stroke="#000" stroke-width="2"/>
<line x1="540" y1="566.4" x2="548" y2="566.4" stroke="#000" stroke-width="2"/>
<line x1="544" y1="569.4" x2="544" y2="573.9" stroke="#000" stroke-width="1.4"/>
<text transform="translate(545.5,584.1) rotate(-45)" font-size="11.8" font-weight="bold" text-anchor="end">Null</text>
<rect x="559.0" y="434.0" width="18" height="135.4" fill="#646464"/>
<line x1="568" y1="434.0" x2="568" y2="429.2" stroke="#000" stroke-width="2"/>
<line x1="564" y1="429.2" x2="572" y2="429.2" stroke="#000" stroke-width="2"/>
<line x1="568" y1="569.4" x2="568" y2="573.9" stroke="#000" stroke-width="1.4"/>
<text transform="translate(569.5,584.1) rotate(-45)" font-size="11.8" font-weight="bold" text-anchor="end">LPS</text>
<rect x="583.0" y="493.2" width="18" height="76.2" fill="#E6E6E6"/>
<line x1="592" y1="493.2" x2="592" y2="487.8" stroke="#000" stroke-width="2"/>
<line x1="588" y1="487.8" x2="596" y2="487.8" stroke="#000" stroke-width="2"/>
<line x1="592" y1="569.4" x2="592" y2="573.9" stroke="#000" stroke-width="1.4"/>
<text transform="translate(593.5,584.1) rotate(-45)" font-size="11.8" font-weight="bold" text-anchor="end">LPS+TGF_β1</text>
<rect x="607.0" y="439.5" width="18" height="129.9" fill="#A0A0A4"/>
<line x1="616" y1="439.5" x2="616" y2="430.8" stroke="#000" stroke-width="2"/>
<line x1="612" y1="430.8" x2="620" y2="430.8" stroke="#000" stroke-width="2"/>
<line x1="616" y1="569.4" x2="616" y2="573.9" stroke="#000" stroke-width="1.4"/>
<text transform="translate(617.5,584.1) rotate(-45)" font-size="11.8" font-weight="bold" text-anchor="end">LPS+WT silk</text>
<rect x="631.0" y="467.3" width="18" height="102.1" fill="#000000"/>
<line x1="640" y1="467.3" x2="640" y2="460.3" stroke="#000" stroke-width="2"/>
<line x1="636" y1="460.3" x2="644" y2="460.3" stroke="#000" stroke-width="2"/>
<line x1="640" y1="569.4" x2="640" y2="573.9" stroke="#000" stroke-width="1.4"/>
<text transform="translate(641.5,584.1) rotate(-45)" font-size="11.8" font-weight="bold" text-anchor="end">LPS+FT silk</text>
<line x1="407" y1="569.4" x2="652.5" y2="569.4" stroke="#000" stroke-width="1.6"/>
<path d="M423.6,565 L423.6,449 L446,449 L446,459.3" fill="none" stroke="#000" stroke-width="2"/>
<path d="M450.7,458.8 L450.7,449 L472.1,449 L472.1,505" fill="none" stroke="#000" stroke-width="2"/>
<path d="M495.3,436.7 L495.3,427.3 L520.5,427.3 L520.5,485.5" fill="none" stroke="#000" stroke-width="2"/>
<path d="M543.9,564 L543.9,415.5 L566.3,415.5 L566.3,425" fill="none" stroke="#000" stroke-width="2"/>
<path d="M571,425 L571,415.5 L592.7,415.5 L592.7,480.8" fill="none" stroke="#000" stroke-width="2"/>
<path d="M615.9,425 L615.9,418.6 L640,418.6 L640,454.8" fill="none" stroke="#000" stroke-width="2"/>
<text x="434.8" y="449.2" font-size="13" font-weight="bold" fill="#000" text-anchor="middle" >***</text>
<text x="461.8" y="449.2" font-size="13" font-weight="bold" fill="#000" text-anchor="middle" >**</text>
<text x="507.7" y="428" font-size="13" font-weight="bold" fill="#000" text-anchor="middle" >**</text>
<text x="555" y="415.8" font-size="13" font-weight="bold" fill="#000" text-anchor="middle" >***</text>
<text x="581.8" y="415.8" font-size="13" font-weight="bold" fill="#000" text-anchor="middle" >**</text>
<text x="626.9" y="419.4" font-size="13" font-weight="bold" fill="#000" text-anchor="middle" >*</text>
<line x1="386.7" y1="637.9" x2="475.5" y2="637.9" stroke="#000" stroke-width="1.8"/>
<line x1="508.3" y1="637.9" x2="592.7" y2="637.9" stroke="#000" stroke-width="1.8"/>
<text x="432.4" y="652.5" font-size="14" font-weight="bold" fill="#000" text-anchor="middle" >6h</text>
<text x="551.7" y="652.5" font-size="14" font-weight="bold" fill="#000" text-anchor="middle" >12h</text></svg></body></html>
